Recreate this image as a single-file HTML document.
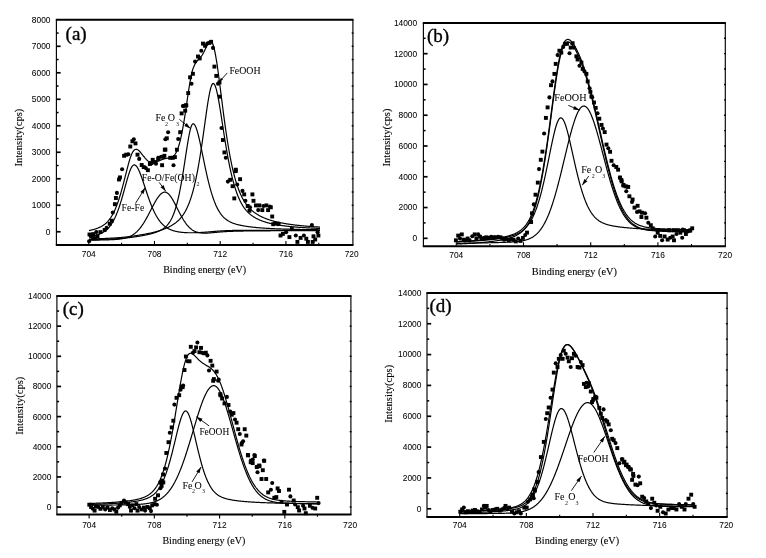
<!DOCTYPE html>
<html><head><meta charset="utf-8"><style>
html,body{margin:0;padding:0;background:#fff;}
svg{display:block;}
text{-webkit-font-smoothing:antialiased;}
.gs{filter:grayscale(1);}
.tl{font-family:"Liberation Sans",sans-serif;font-size:8.4px;fill:#000;stroke:#000;stroke-width:0.05px;}
.tt{font-family:"Liberation Serif",serif;font-size:10.2px;fill:#000;stroke:#000;stroke-width:0.12px;}
.pl{font-family:"Liberation Serif",serif;font-size:19px;fill:#000;stroke:#000;stroke-width:0.35px;}
.an{font-family:"Liberation Serif",serif;font-size:10px;fill:#000;stroke:#000;stroke-width:0.04px;}
.sb{font-family:"Liberation Serif",serif;font-size:6px;fill:#1a1a1a;}
</style></head><body>
<svg width="766" height="558" viewBox="0 0 766 558">
<rect width="766" height="558" fill="#fff"/>
<g class="gs"><g id="pa"><line x1="56.40" y1="19.80" x2="56.40" y2="244.90" stroke="#000" stroke-width="1.15"/>
<line x1="352.90" y1="19.80" x2="352.90" y2="244.90" stroke="#000" stroke-width="1.15"/>
<line x1="55.80" y1="19.80" x2="353.50" y2="19.80" stroke="#000" stroke-width="2"/>
<line x1="55.80" y1="244.90" x2="353.50" y2="244.90" stroke="#000" stroke-width="2"/>
<line x1="56.40" y1="231.75" x2="60.60" y2="231.75" stroke="#000" stroke-width="1.7"/>
<line x1="351.70" y1="231.75" x2="353.50" y2="231.75" stroke="#000" stroke-width="1.4"/>
<text x="50.50" y="234.65" class="tl" text-anchor="end">0</text>
<line x1="56.40" y1="218.51" x2="58.60" y2="218.51" stroke="#000" stroke-width="1.5"/>
<line x1="351.70" y1="218.51" x2="353.50" y2="218.51" stroke="#000" stroke-width="1.4"/>
<line x1="56.40" y1="205.26" x2="60.60" y2="205.26" stroke="#000" stroke-width="1.7"/>
<line x1="351.70" y1="205.26" x2="353.50" y2="205.26" stroke="#000" stroke-width="1.4"/>
<text x="50.50" y="208.16" class="tl" text-anchor="end">1000</text>
<line x1="56.40" y1="192.01" x2="58.60" y2="192.01" stroke="#000" stroke-width="1.5"/>
<line x1="351.70" y1="192.01" x2="353.50" y2="192.01" stroke="#000" stroke-width="1.4"/>
<line x1="56.40" y1="178.76" x2="60.60" y2="178.76" stroke="#000" stroke-width="1.7"/>
<line x1="351.70" y1="178.76" x2="353.50" y2="178.76" stroke="#000" stroke-width="1.4"/>
<text x="50.50" y="181.66" class="tl" text-anchor="end">2000</text>
<line x1="56.40" y1="165.52" x2="58.60" y2="165.52" stroke="#000" stroke-width="1.5"/>
<line x1="351.70" y1="165.52" x2="353.50" y2="165.52" stroke="#000" stroke-width="1.4"/>
<line x1="56.40" y1="152.27" x2="60.60" y2="152.27" stroke="#000" stroke-width="1.7"/>
<line x1="351.70" y1="152.27" x2="353.50" y2="152.27" stroke="#000" stroke-width="1.4"/>
<text x="50.50" y="155.17" class="tl" text-anchor="end">3000</text>
<line x1="56.40" y1="139.02" x2="58.60" y2="139.02" stroke="#000" stroke-width="1.5"/>
<line x1="351.70" y1="139.02" x2="353.50" y2="139.02" stroke="#000" stroke-width="1.4"/>
<line x1="56.40" y1="125.78" x2="60.60" y2="125.78" stroke="#000" stroke-width="1.7"/>
<line x1="351.70" y1="125.78" x2="353.50" y2="125.78" stroke="#000" stroke-width="1.4"/>
<text x="50.50" y="128.68" class="tl" text-anchor="end">4000</text>
<line x1="56.40" y1="112.53" x2="58.60" y2="112.53" stroke="#000" stroke-width="1.5"/>
<line x1="351.70" y1="112.53" x2="353.50" y2="112.53" stroke="#000" stroke-width="1.4"/>
<line x1="56.40" y1="99.28" x2="60.60" y2="99.28" stroke="#000" stroke-width="1.7"/>
<line x1="351.70" y1="99.28" x2="353.50" y2="99.28" stroke="#000" stroke-width="1.4"/>
<text x="50.50" y="102.18" class="tl" text-anchor="end">5000</text>
<line x1="56.40" y1="86.04" x2="58.60" y2="86.04" stroke="#000" stroke-width="1.5"/>
<line x1="351.70" y1="86.04" x2="353.50" y2="86.04" stroke="#000" stroke-width="1.4"/>
<line x1="56.40" y1="72.79" x2="60.60" y2="72.79" stroke="#000" stroke-width="1.7"/>
<line x1="351.70" y1="72.79" x2="353.50" y2="72.79" stroke="#000" stroke-width="1.4"/>
<text x="50.50" y="75.69" class="tl" text-anchor="end">6000</text>
<line x1="56.40" y1="59.54" x2="58.60" y2="59.54" stroke="#000" stroke-width="1.5"/>
<line x1="351.70" y1="59.54" x2="353.50" y2="59.54" stroke="#000" stroke-width="1.4"/>
<line x1="56.40" y1="46.29" x2="60.60" y2="46.29" stroke="#000" stroke-width="1.7"/>
<line x1="351.70" y1="46.29" x2="353.50" y2="46.29" stroke="#000" stroke-width="1.4"/>
<text x="50.50" y="49.19" class="tl" text-anchor="end">7000</text>
<line x1="56.40" y1="33.05" x2="58.60" y2="33.05" stroke="#000" stroke-width="1.5"/>
<line x1="351.70" y1="33.05" x2="353.50" y2="33.05" stroke="#000" stroke-width="1.4"/>
<text x="50.50" y="22.70" class="tl" text-anchor="end">8000</text>
<line x1="88.76" y1="244.90" x2="88.76" y2="240.90" stroke="#000" stroke-width="1.1"/>
<text x="88.76" y="256.80" class="tl" text-anchor="middle">704</text>
<line x1="121.62" y1="244.90" x2="121.62" y2="242.70" stroke="#000" stroke-width="1.1"/>
<line x1="154.48" y1="244.90" x2="154.48" y2="240.90" stroke="#000" stroke-width="1.1"/>
<text x="154.48" y="256.80" class="tl" text-anchor="middle">708</text>
<line x1="187.34" y1="244.90" x2="187.34" y2="242.70" stroke="#000" stroke-width="1.1"/>
<line x1="220.20" y1="244.90" x2="220.20" y2="240.90" stroke="#000" stroke-width="1.1"/>
<text x="220.20" y="256.80" class="tl" text-anchor="middle">712</text>
<line x1="253.06" y1="244.90" x2="253.06" y2="242.70" stroke="#000" stroke-width="1.1"/>
<line x1="285.92" y1="244.90" x2="285.92" y2="240.90" stroke="#000" stroke-width="1.1"/>
<text x="285.92" y="256.80" class="tl" text-anchor="middle">716</text>
<line x1="318.78" y1="244.90" x2="318.78" y2="242.70" stroke="#000" stroke-width="1.1"/>
<text x="351.64" y="256.80" class="tl" text-anchor="middle">720</text>
<text x="163.15" y="273.40" class="tt" textLength="83" lengthAdjust="spacingAndGlyphs">Binding energy (eV)</text>
<text x="-29" y="0" class="tt" textLength="58" lengthAdjust="spacingAndGlyphs" style="font-size:10.5px" transform="translate(22.40,137.60) rotate(-90)">Intensity(cps)</text>
<text x="65.60" y="40.00" class="pl">(a)</text><polyline points="89.00,236.71 89.39,236.65 89.77,236.58 90.16,236.52 90.54,236.45 90.93,236.38 91.31,236.30 91.70,236.23 92.09,236.15 92.47,236.07 92.86,235.99 93.24,235.91 93.63,235.82 94.01,235.73 94.40,235.64 94.78,235.54 95.17,235.45 95.56,235.34 95.94,235.24 96.33,235.13 96.71,235.02 97.10,234.90 97.48,234.78 97.87,234.65 98.26,234.52 98.64,234.38 99.03,234.24 99.41,234.10 99.80,233.94 100.18,233.78 100.57,233.62 100.95,233.44 101.34,233.26 101.73,233.07 102.11,232.88 102.50,232.67 102.88,232.45 103.27,232.23 103.65,231.99 104.04,231.75 104.43,231.49 104.81,231.22 105.20,230.94 105.58,230.65 105.97,230.34 106.35,230.02 106.74,229.68 107.13,229.33 107.51,228.96 107.90,228.58 108.28,228.18 108.67,227.76 109.05,227.32 109.44,226.86 109.82,226.38 110.21,225.88 110.60,225.36 110.98,224.82 111.37,224.25 111.75,223.66 112.14,223.05 112.52,222.41 112.91,221.75 113.30,221.06 113.68,220.34 114.07,219.60 114.45,218.83 114.84,218.03 115.22,217.20 115.61,216.35 115.99,215.46 116.38,214.55 116.77,213.60 117.15,212.63 117.54,211.63 117.92,210.60 118.31,209.54 118.69,208.45 119.08,207.33 119.47,206.19 119.85,205.01 120.24,203.81 120.62,202.59 121.01,201.34 121.39,200.06 121.78,198.76 122.17,197.45 122.55,196.11 122.94,194.75 123.32,193.38 123.71,192.00 124.09,190.60 124.48,189.20 124.86,187.80 125.25,186.39 125.64,184.98 126.02,183.58 126.41,182.20 126.79,180.82 127.18,179.47 127.56,178.14 127.95,176.85 128.34,175.59 128.72,174.37 129.11,173.20 129.49,172.08 129.88,171.03 130.26,170.04 130.65,169.12 131.04,168.28 131.42,167.52 131.81,166.85 132.19,166.28 132.58,165.80 132.96,165.42 133.35,165.15 133.73,164.98 134.12,164.91 134.51,164.94 134.89,165.04 135.28,165.23 135.66,165.48 136.05,165.82 136.43,166.23 136.82,166.71 137.21,167.25 137.59,167.87 137.98,168.54 138.36,169.27 138.75,170.06 139.13,170.90 139.52,171.79 139.90,172.72 140.29,173.69 140.68,174.70 141.06,175.73 141.45,176.80 141.83,177.89 142.22,179.01 142.60,180.14 142.99,181.28 143.38,182.44 143.76,183.61 144.15,184.78 144.53,185.95 144.92,187.13 145.30,188.31 145.69,189.48 146.08,190.64 146.46,191.80 146.85,192.95 147.23,194.09 147.62,195.22 148.00,196.34 148.39,197.44 148.77,198.52 149.16,199.59 149.55,200.65 149.93,201.68 150.32,202.70 150.70,203.69 151.09,204.67 151.47,205.63 151.86,206.56 152.25,207.48 152.63,208.37 153.02,209.25 153.40,210.10 153.79,210.93 154.17,211.74 154.56,212.52 154.94,213.29 155.33,214.03 155.72,214.75 156.10,215.46 156.49,216.14 156.87,216.80 157.26,217.43 157.64,218.05 158.03,218.65 158.42,219.23 158.80,219.79 159.19,220.33 159.57,220.85 159.96,221.36 160.34,221.84 160.73,222.31 161.12,222.76 161.50,223.20 161.89,223.62 162.27,224.02 162.66,224.41 163.04,224.78 163.43,225.14 163.81,225.48 164.20,225.81 164.59,226.13 164.97,226.43 165.36,226.72 165.74,227.00 166.13,227.27 166.51,227.53 166.90,227.78 167.29,228.02 167.67,228.24 168.06,228.46 168.44,228.67 168.83,228.87 169.21,229.06 169.60,229.24 169.98,229.42 170.37,229.59 170.76,229.75 171.14,229.90 171.53,230.05 171.91,230.19 172.30,230.33 172.68,230.46 173.07,230.58 173.46,230.70 173.84,230.81 174.23,230.92 174.61,231.03 175.00,231.13 175.38,231.22 175.77,231.32 176.16,231.40 176.54,231.49 176.93,231.57 177.31,231.64 177.70,231.72 178.08,231.79 178.47,231.86 178.85,231.92 179.24,231.98 179.63,232.04 180.01,232.10 180.40,232.15 180.78,232.20 181.17,232.25 181.55,232.29 181.94,232.34 182.33,232.38 182.71,232.42 183.10,232.45 183.48,232.49 183.87,232.52 184.25,232.55 184.64,232.58 185.03,232.60 185.41,232.63 185.80,232.65 186.18,232.67 186.57,232.69 186.95,232.70 187.34,232.72 187.72,232.73 188.11,232.74 188.50,232.75 188.88,232.76 189.27,232.77 189.65,232.77 190.04,232.77 190.42,232.77 190.81,232.77 191.20,232.77 191.58,232.77 191.97,232.77 192.35,232.76 192.74,232.76 193.12,232.75 193.51,232.74 193.89,232.73 194.28,232.73 194.67,232.71 195.05,232.70 195.44,232.69 195.82,232.68 196.21,232.67 196.59,232.65 196.98,232.64 197.37,232.62 197.75,232.61 198.14,232.59 198.52,232.57 198.91,232.55 199.29,232.54 199.68,232.52 200.07,232.50 200.45,232.48 200.84,232.46 201.22,232.44 201.61,232.41 201.99,232.39 202.38,232.37 202.76,232.35 203.15,232.32 203.54,232.30 203.92,232.27 204.31,232.25 204.69,232.22 205.08,232.20 205.46,232.17 205.85,232.14 206.24,232.11 206.62,232.08 207.01,232.05 207.39,232.02 207.78,231.99 208.16,231.96 208.55,231.93 208.93,231.90 209.32,231.87 209.71,231.84 210.09,231.80 210.48,231.77 210.86,231.74 211.25,231.70 211.63,231.67 212.02,231.64 212.41,231.60 212.79,231.57 213.18,231.54 213.56,231.50 213.95,231.47 214.33,231.44 214.72,231.40 215.11,231.37 215.49,231.34 215.88,231.31 216.26,231.27 216.65,231.24 217.03,231.21 217.42,231.18 217.80,231.15 218.19,231.12 218.58,231.09 218.96,231.07 219.35,231.04 219.73,231.01 220.12,230.99 220.50,230.96 220.89,230.94 221.28,230.91 221.66,230.89 222.05,230.87 222.43,230.84 222.82,230.82 223.20,230.80 223.59,230.78 223.97,230.76 224.36,230.74 224.75,230.73 225.13,230.71 225.52,230.69 225.90,230.67 226.29,230.66 226.67,230.64 227.06,230.63 227.45,230.61 227.83,230.60 228.22,230.59 228.60,230.57 228.99,230.56 229.37,230.55 229.76,230.54 230.15,230.53 230.53,230.52 230.92,230.51 231.30,230.50 231.69,230.49 232.07,230.48 232.46,230.47 232.84,230.46 233.23,230.46 233.62,230.45 234.00,230.44 234.39,230.44 234.77,230.43 235.16,230.42 235.54,230.42 235.93,230.41 236.32,230.41 236.70,230.40 237.09,230.40 237.47,230.39 237.86,230.39 238.24,230.38 238.63,230.38 239.02,230.37 239.40,230.37 239.79,230.37 240.17,230.36 240.56,230.36 240.94,230.36 241.33,230.35 241.71,230.35 242.10,230.35 242.49,230.35 242.87,230.34 243.26,230.34 243.64,230.34 244.03,230.34 244.41,230.34 244.80,230.33 245.19,230.33 245.57,230.33 245.96,230.33 246.34,230.33 246.73,230.33 247.11,230.32 247.50,230.32 247.88,230.32 248.27,230.32 248.66,230.32 249.04,230.32 249.43,230.32 249.81,230.32 250.20,230.32 250.58,230.32 250.97,230.32 251.36,230.31 251.74,230.31 252.13,230.31 252.51,230.31 252.90,230.31 253.28,230.31 253.67,230.31 254.06,230.31 254.44,230.31 254.83,230.31 255.21,230.31 255.60,230.31 255.98,230.31 256.37,230.31 256.75,230.31 257.14,230.31 257.53,230.31 257.91,230.31 258.30,230.31 258.68,230.31 259.07,230.31 259.45,230.31 259.84,230.31 260.23,230.31 260.61,230.31 261.00,230.31 261.38,230.31 261.77,230.31 262.15,230.31 262.54,230.31 262.92,230.31 263.31,230.31 263.70,230.31 264.08,230.31 264.47,230.31 264.85,230.31 265.24,230.31 265.62,230.31 266.01,230.31 266.40,230.31 266.78,230.31 267.17,230.31 267.55,230.31 267.94,230.31 268.32,230.31 268.71,230.31 269.10,230.31 269.48,230.31 269.87,230.31 270.25,230.31 270.64,230.31 271.02,230.31 271.41,230.31 271.79,230.31 272.18,230.31 272.57,230.31 272.95,230.31 273.34,230.31 273.72,230.31 274.11,230.31 274.49,230.31 274.88,230.32 275.27,230.32 275.65,230.32 276.04,230.32 276.42,230.32 276.81,230.32 277.19,230.32 277.58,230.32 277.96,230.32 278.35,230.32 278.74,230.32 279.12,230.32 279.51,230.32 279.89,230.32 280.28,230.32 280.66,230.32 281.05,230.32 281.44,230.32 281.82,230.32 282.21,230.32 282.59,230.32 282.98,230.32 283.36,230.32 283.75,230.32 284.14,230.32 284.52,230.32 284.91,230.32 285.29,230.32 285.68,230.32 286.06,230.32 286.45,230.32 286.83,230.32 287.22,230.32 287.61,230.32 287.99,230.32 288.38,230.32 288.76,230.33 289.15,230.33 289.53,230.33 289.92,230.33 290.31,230.33 290.69,230.33 291.08,230.33 291.46,230.33 291.85,230.33 292.23,230.33 292.62,230.33 293.01,230.33 293.39,230.33 293.78,230.33 294.16,230.33 294.55,230.33 294.93,230.33 295.32,230.33 295.70,230.33 296.09,230.33 296.48,230.33 296.86,230.33 297.25,230.33 297.63,230.33 298.02,230.33 298.40,230.33 298.79,230.33 299.18,230.33 299.56,230.33 299.95,230.33 300.33,230.33 300.72,230.33 301.10,230.33 301.49,230.33 301.87,230.33 302.26,230.33 302.65,230.33 303.03,230.33 303.42,230.33 303.80,230.33 304.19,230.33 304.57,230.33 304.96,230.33 305.35,230.34 305.73,230.34 306.12,230.34 306.50,230.34 306.89,230.34 307.27,230.34 307.66,230.34 308.05,230.34 308.43,230.34 308.82,230.34 309.20,230.34 309.59,230.34 309.97,230.34 310.36,230.34 310.74,230.34 311.13,230.34 311.52,230.34 311.90,230.34 312.29,230.34 312.67,230.34 313.06,230.34 313.44,230.34 313.83,230.34 314.22,230.34 314.60,230.34 314.99,230.34 315.37,230.34 315.76,230.34 316.14,230.34 316.53,230.34 316.91,230.34 317.30,230.34 317.69,230.34 318.07,230.34 318.46,230.34 318.84,230.34 319.23,230.34 319.61,230.34 320.00,230.34" fill="none" stroke="#000" stroke-width="1.2" stroke-linejoin="round"/>
<polyline points="89.00,240.20 89.39,240.19 89.77,240.19 90.16,240.18 90.54,240.18 90.93,240.17 91.31,240.17 91.70,240.16 92.09,240.16 92.47,240.15 92.86,240.14 93.24,240.14 93.63,240.13 94.01,240.13 94.40,240.12 94.78,240.12 95.17,240.11 95.56,240.10 95.94,240.10 96.33,240.09 96.71,240.08 97.10,240.08 97.48,240.07 97.87,240.06 98.26,240.06 98.64,240.05 99.03,240.04 99.41,240.04 99.80,240.03 100.18,240.02 100.57,240.01 100.95,240.00 101.34,240.00 101.73,239.99 102.11,239.98 102.50,239.97 102.88,239.96 103.27,239.95 103.65,239.94 104.04,239.94 104.43,239.93 104.81,239.92 105.20,239.91 105.58,239.90 105.97,239.88 106.35,239.87 106.74,239.86 107.13,239.85 107.51,239.84 107.90,239.83 108.28,239.81 108.67,239.80 109.05,239.79 109.44,239.77 109.82,239.76 110.21,239.74 110.60,239.73 110.98,239.71 111.37,239.70 111.75,239.68 112.14,239.66 112.52,239.64 112.91,239.62 113.30,239.60 113.68,239.58 114.07,239.56 114.45,239.53 114.84,239.51 115.22,239.48 115.61,239.46 115.99,239.43 116.38,239.40 116.77,239.37 117.15,239.34 117.54,239.30 117.92,239.27 118.31,239.23 118.69,239.19 119.08,239.15 119.47,239.10 119.85,239.06 120.24,239.01 120.62,238.96 121.01,238.90 121.39,238.84 121.78,238.78 122.17,238.72 122.55,238.65 122.94,238.58 123.32,238.51 123.71,238.43 124.09,238.35 124.48,238.26 124.86,238.17 125.25,238.08 125.64,237.98 126.02,237.87 126.41,237.76 126.79,237.64 127.18,237.52 127.56,237.39 127.95,237.25 128.34,237.11 128.72,236.96 129.11,236.80 129.49,236.64 129.88,236.47 130.26,236.28 130.65,236.10 131.04,235.90 131.42,235.69 131.81,235.47 132.19,235.25 132.58,235.01 132.96,234.77 133.35,234.51 133.73,234.24 134.12,233.96 134.51,233.67 134.89,233.37 135.28,233.06 135.66,232.74 136.05,232.40 136.43,232.05 136.82,231.69 137.21,231.31 137.59,230.92 137.98,230.52 138.36,230.11 138.75,229.68 139.13,229.24 139.52,228.78 139.90,228.31 140.29,227.83 140.68,227.33 141.06,226.82 141.45,226.29 141.83,225.76 142.22,225.20 142.60,224.64 142.99,224.06 143.38,223.47 143.76,222.86 144.15,222.25 144.53,221.62 144.92,220.97 145.30,220.32 145.69,219.66 146.08,218.98 146.46,218.30 146.85,217.61 147.23,216.91 147.62,216.19 148.00,215.48 148.39,214.75 148.77,214.02 149.16,213.29 149.55,212.55 149.93,211.80 150.32,211.06 150.70,210.31 151.09,209.56 151.47,208.81 151.86,208.07 152.25,207.32 152.63,206.58 153.02,205.85 153.40,205.12 153.79,204.40 154.17,203.69 154.56,202.98 154.94,202.29 155.33,201.61 155.72,200.95 156.10,200.29 156.49,199.66 156.87,199.04 157.26,198.44 157.64,197.86 158.03,197.31 158.42,196.77 158.80,196.26 159.19,195.77 159.57,195.31 159.96,194.88 160.34,194.48 160.73,194.10 161.12,193.75 161.50,193.44 161.89,193.16 162.27,192.91 162.66,192.69 163.04,192.51 163.43,192.36 163.81,192.25 164.20,192.17 164.59,192.13 164.97,192.12 165.36,192.16 165.74,192.24 166.13,192.35 166.51,192.51 166.90,192.71 167.29,192.94 167.67,193.22 168.06,193.53 168.44,193.87 168.83,194.25 169.21,194.67 169.60,195.11 169.98,195.59 170.37,196.10 170.76,196.63 171.14,197.19 171.53,197.78 171.91,198.38 172.30,199.01 172.68,199.66 173.07,200.33 173.46,201.02 173.84,201.71 174.23,202.43 174.61,203.15 175.00,203.88 175.38,204.63 175.77,205.38 176.16,206.13 176.54,206.89 176.93,207.65 177.31,208.42 177.70,209.18 178.08,209.94 178.47,210.70 178.85,211.45 179.24,212.20 179.63,212.95 180.01,213.68 180.40,214.41 180.78,215.13 181.17,215.84 181.55,216.54 181.94,217.22 182.33,217.90 182.71,218.56 183.10,219.20 183.48,219.84 183.87,220.45 184.25,221.06 184.64,221.64 185.03,222.21 185.41,222.77 185.80,223.31 186.18,223.83 186.57,224.33 186.95,224.82 187.34,225.29 187.72,225.75 188.11,226.18 188.50,226.60 188.88,227.01 189.27,227.39 189.65,227.77 190.04,228.12 190.42,228.46 190.81,228.78 191.20,229.09 191.58,229.38 191.97,229.66 192.35,229.93 192.74,230.18 193.12,230.41 193.51,230.64 193.89,230.85 194.28,231.05 194.67,231.23 195.05,231.41 195.44,231.57 195.82,231.72 196.21,231.87 196.59,232.00 196.98,232.12 197.37,232.24 197.75,232.34 198.14,232.44 198.52,232.53 198.91,232.61 199.29,232.69 199.68,232.75 200.07,232.82 200.45,232.87 200.84,232.92 201.22,232.96 201.61,233.00 201.99,233.03 202.38,233.06 202.76,233.08 203.15,233.10 203.54,233.11 203.92,233.12 204.31,233.13 204.69,233.13 205.08,233.13 205.46,233.13 205.85,233.12 206.24,233.11 206.62,233.10 207.01,233.08 207.39,233.07 207.78,233.05 208.16,233.03 208.55,233.00 208.93,232.98 209.32,232.95 209.71,232.92 210.09,232.90 210.48,232.86 210.86,232.83 211.25,232.80 211.63,232.77 212.02,232.73 212.41,232.70 212.79,232.66 213.18,232.63 213.56,232.59 213.95,232.55 214.33,232.52 214.72,232.48 215.11,232.44 215.49,232.41 215.88,232.37 216.26,232.33 216.65,232.30 217.03,232.26 217.42,232.22 217.80,232.19 218.19,232.15 218.58,232.12 218.96,232.09 219.35,232.05 219.73,232.02 220.12,231.99 220.50,231.96 220.89,231.93 221.28,231.90 221.66,231.87 222.05,231.84 222.43,231.81 222.82,231.78 223.20,231.76 223.59,231.73 223.97,231.70 224.36,231.68 224.75,231.65 225.13,231.63 225.52,231.61 225.90,231.59 226.29,231.56 226.67,231.54 227.06,231.52 227.45,231.50 227.83,231.48 228.22,231.46 228.60,231.44 228.99,231.43 229.37,231.41 229.76,231.39 230.15,231.38 230.53,231.36 230.92,231.35 231.30,231.33 231.69,231.32 232.07,231.30 232.46,231.29 232.84,231.28 233.23,231.26 233.62,231.25 234.00,231.24 234.39,231.23 234.77,231.21 235.16,231.20 235.54,231.19 235.93,231.18 236.32,231.17 236.70,231.16 237.09,231.15 237.47,231.14 237.86,231.13 238.24,231.12 238.63,231.12 239.02,231.11 239.40,231.10 239.79,231.09 240.17,231.08 240.56,231.08 240.94,231.07 241.33,231.06 241.71,231.05 242.10,231.05 242.49,231.04 242.87,231.03 243.26,231.03 243.64,231.02 244.03,231.01 244.41,231.01 244.80,231.00 245.19,231.00 245.57,230.99 245.96,230.99 246.34,230.98 246.73,230.98 247.11,230.97 247.50,230.97 247.88,230.96 248.27,230.96 248.66,230.95 249.04,230.95 249.43,230.94 249.81,230.94 250.20,230.93 250.58,230.93 250.97,230.92 251.36,230.92 251.74,230.92 252.13,230.91 252.51,230.91 252.90,230.90 253.28,230.90 253.67,230.90 254.06,230.89 254.44,230.89 254.83,230.89 255.21,230.88 255.60,230.88 255.98,230.88 256.37,230.87 256.75,230.87 257.14,230.87 257.53,230.86 257.91,230.86 258.30,230.86 258.68,230.85 259.07,230.85 259.45,230.85 259.84,230.84 260.23,230.84 260.61,230.84 261.00,230.84 261.38,230.83 261.77,230.83 262.15,230.83 262.54,230.82 262.92,230.82 263.31,230.82 263.70,230.82 264.08,230.81 264.47,230.81 264.85,230.81 265.24,230.81 265.62,230.80 266.01,230.80 266.40,230.80 266.78,230.80 267.17,230.79 267.55,230.79 267.94,230.79 268.32,230.79 268.71,230.79 269.10,230.78 269.48,230.78 269.87,230.78 270.25,230.78 270.64,230.77 271.02,230.77 271.41,230.77 271.79,230.77 272.18,230.77 272.57,230.76 272.95,230.76 273.34,230.76 273.72,230.76 274.11,230.76 274.49,230.75 274.88,230.75 275.27,230.75 275.65,230.75 276.04,230.75 276.42,230.74 276.81,230.74 277.19,230.74 277.58,230.74 277.96,230.74 278.35,230.74 278.74,230.73 279.12,230.73 279.51,230.73 279.89,230.73 280.28,230.73 280.66,230.73 281.05,230.72 281.44,230.72 281.82,230.72 282.21,230.72 282.59,230.72 282.98,230.72 283.36,230.71 283.75,230.71 284.14,230.71 284.52,230.71 284.91,230.71 285.29,230.71 285.68,230.70 286.06,230.70 286.45,230.70 286.83,230.70 287.22,230.70 287.61,230.70 287.99,230.70 288.38,230.69 288.76,230.69 289.15,230.69 289.53,230.69 289.92,230.69 290.31,230.69 290.69,230.69 291.08,230.68 291.46,230.68 291.85,230.68 292.23,230.68 292.62,230.68 293.01,230.68 293.39,230.68 293.78,230.67 294.16,230.67 294.55,230.67 294.93,230.67 295.32,230.67 295.70,230.67 296.09,230.67 296.48,230.67 296.86,230.66 297.25,230.66 297.63,230.66 298.02,230.66 298.40,230.66 298.79,230.66 299.18,230.66 299.56,230.66 299.95,230.65 300.33,230.65 300.72,230.65 301.10,230.65 301.49,230.65 301.87,230.65 302.26,230.65 302.65,230.65 303.03,230.65 303.42,230.64 303.80,230.64 304.19,230.64 304.57,230.64 304.96,230.64 305.35,230.64 305.73,230.64 306.12,230.64 306.50,230.64 306.89,230.63 307.27,230.63 307.66,230.63 308.05,230.63 308.43,230.63 308.82,230.63 309.20,230.63 309.59,230.63 309.97,230.63 310.36,230.63 310.74,230.62 311.13,230.62 311.52,230.62 311.90,230.62 312.29,230.62 312.67,230.62 313.06,230.62 313.44,230.62 313.83,230.62 314.22,230.61 314.60,230.61 314.99,230.61 315.37,230.61 315.76,230.61 316.14,230.61 316.53,230.61 316.91,230.61 317.30,230.61 317.69,230.61 318.07,230.61 318.46,230.60 318.84,230.60 319.23,230.60 319.61,230.60 320.00,230.60" fill="none" stroke="#000" stroke-width="1.2" stroke-linejoin="round"/>
<polyline points="89.00,239.68 89.39,239.67 89.77,239.66 90.16,239.65 90.54,239.64 90.93,239.64 91.31,239.63 91.70,239.62 92.09,239.61 92.47,239.60 92.86,239.59 93.24,239.58 93.63,239.57 94.01,239.56 94.40,239.56 94.78,239.55 95.17,239.54 95.56,239.53 95.94,239.52 96.33,239.51 96.71,239.50 97.10,239.49 97.48,239.48 97.87,239.47 98.26,239.46 98.64,239.44 99.03,239.43 99.41,239.42 99.80,239.41 100.18,239.40 100.57,239.39 100.95,239.38 101.34,239.37 101.73,239.35 102.11,239.34 102.50,239.33 102.88,239.32 103.27,239.30 103.65,239.29 104.04,239.28 104.43,239.27 104.81,239.25 105.20,239.24 105.58,239.23 105.97,239.21 106.35,239.20 106.74,239.18 107.13,239.17 107.51,239.15 107.90,239.14 108.28,239.12 108.67,239.11 109.05,239.09 109.44,239.07 109.82,239.06 110.21,239.04 110.60,239.02 110.98,239.01 111.37,238.99 111.75,238.97 112.14,238.95 112.52,238.93 112.91,238.91 113.30,238.89 113.68,238.87 114.07,238.85 114.45,238.83 114.84,238.81 115.22,238.79 115.61,238.77 115.99,238.75 116.38,238.72 116.77,238.70 117.15,238.68 117.54,238.65 117.92,238.63 118.31,238.60 118.69,238.58 119.08,238.55 119.47,238.52 119.85,238.49 120.24,238.47 120.62,238.44 121.01,238.41 121.39,238.38 121.78,238.35 122.17,238.32 122.55,238.28 122.94,238.25 123.32,238.22 123.71,238.18 124.09,238.15 124.48,238.11 124.86,238.08 125.25,238.04 125.64,238.00 126.02,237.96 126.41,237.92 126.79,237.88 127.18,237.84 127.56,237.80 127.95,237.76 128.34,237.72 128.72,237.67 129.11,237.63 129.49,237.58 129.88,237.53 130.26,237.49 130.65,237.44 131.04,237.39 131.42,237.34 131.81,237.29 132.19,237.24 132.58,237.19 132.96,237.14 133.35,237.08 133.73,237.03 134.12,236.98 134.51,236.92 134.89,236.87 135.28,236.81 135.66,236.75 136.05,236.69 136.43,236.64 136.82,236.58 137.21,236.52 137.59,236.46 137.98,236.40 138.36,236.33 138.75,236.27 139.13,236.21 139.52,236.14 139.90,236.08 140.29,236.01 140.68,235.95 141.06,235.88 141.45,235.81 141.83,235.75 142.22,235.68 142.60,235.61 142.99,235.53 143.38,235.46 143.76,235.39 144.15,235.31 144.53,235.24 144.92,235.16 145.30,235.09 145.69,235.01 146.08,234.93 146.46,234.85 146.85,234.76 147.23,234.68 147.62,234.59 148.00,234.51 148.39,234.42 148.77,234.33 149.16,234.24 149.55,234.15 149.93,234.05 150.32,233.95 150.70,233.85 151.09,233.75 151.47,233.65 151.86,233.55 152.25,233.44 152.63,233.33 153.02,233.22 153.40,233.10 153.79,232.98 154.17,232.86 154.56,232.74 154.94,232.61 155.33,232.48 155.72,232.35 156.10,232.21 156.49,232.07 156.87,231.93 157.26,231.78 157.64,231.62 158.03,231.46 158.42,231.30 158.80,231.13 159.19,230.96 159.57,230.78 159.96,230.59 160.34,230.40 160.73,230.20 161.12,229.99 161.50,229.78 161.89,229.55 162.27,229.32 162.66,229.08 163.04,228.83 163.43,228.56 163.81,228.29 164.20,228.00 164.59,227.70 164.97,227.38 165.36,227.05 165.74,226.71 166.13,226.35 166.51,225.96 166.90,225.56 167.29,225.14 167.67,224.70 168.06,224.24 168.44,223.75 168.83,223.23 169.21,222.69 169.60,222.12 169.98,221.52 170.37,220.89 170.76,220.22 171.14,219.52 171.53,218.78 171.91,218.01 172.30,217.19 172.68,216.33 173.07,215.43 173.46,214.48 173.84,213.49 174.23,212.44 174.61,211.35 175.00,210.20 175.38,209.00 175.77,207.75 176.16,206.44 176.54,205.07 176.93,203.64 177.31,202.15 177.70,200.60 178.08,198.99 178.47,197.32 178.85,195.58 179.24,193.78 179.63,191.92 180.01,190.00 180.40,188.01 180.78,185.97 181.17,183.86 181.55,181.70 181.94,179.49 182.33,177.22 182.71,174.90 183.10,172.54 183.48,170.13 183.87,167.69 184.25,165.21 184.64,162.72 185.03,160.20 185.41,157.67 185.80,155.15 186.18,152.63 186.57,150.13 186.95,147.66 187.34,145.23 187.72,142.86 188.11,140.56 188.50,138.35 188.88,136.24 189.27,134.24 189.65,132.37 190.04,130.66 190.42,129.10 190.81,127.73 191.20,126.54 191.58,125.56 191.97,124.79 192.35,124.23 192.74,123.91 193.12,123.81 193.51,123.87 193.89,124.07 194.28,124.41 194.67,124.88 195.05,125.49 195.44,126.22 195.82,127.07 196.21,128.03 196.59,129.11 196.98,130.29 197.37,131.57 197.75,132.93 198.14,134.38 198.52,135.90 198.91,137.49 199.29,139.14 199.68,140.84 200.07,142.59 200.45,144.37 200.84,146.19 201.22,148.03 201.61,149.90 201.99,151.78 202.38,153.67 202.76,155.56 203.15,157.45 203.54,159.34 203.92,161.22 204.31,163.09 204.69,164.94 205.08,166.78 205.46,168.59 205.85,170.38 206.24,172.15 206.62,173.88 207.01,175.59 207.39,177.27 207.78,178.92 208.16,180.53 208.55,182.11 208.93,183.65 209.32,185.16 209.71,186.63 210.09,188.06 210.48,189.46 210.86,190.82 211.25,192.14 211.63,193.42 212.02,194.67 212.41,195.88 212.79,197.05 213.18,198.19 213.56,199.29 213.95,200.35 214.33,201.38 214.72,202.37 215.11,203.33 215.49,204.25 215.88,205.14 216.26,206.00 216.65,206.83 217.03,207.63 217.42,208.39 217.80,209.13 218.19,209.84 218.58,210.52 218.96,211.18 219.35,211.80 219.73,212.41 220.12,212.98 220.50,213.54 220.89,214.07 221.28,214.58 221.66,215.07 222.05,215.54 222.43,215.99 222.82,216.42 223.20,216.83 223.59,217.23 223.97,217.61 224.36,217.97 224.75,218.32 225.13,218.65 225.52,218.97 225.90,219.27 226.29,219.57 226.67,219.85 227.06,220.12 227.45,220.37 227.83,220.62 228.22,220.86 228.60,221.09 228.99,221.31 229.37,221.52 229.76,221.72 230.15,221.92 230.53,222.10 230.92,222.28 231.30,222.46 231.69,222.63 232.07,222.79 232.46,222.94 232.84,223.10 233.23,223.24 233.62,223.38 234.00,223.52 234.39,223.65 234.77,223.78 235.16,223.90 235.54,224.02 235.93,224.14 236.32,224.25 236.70,224.36 237.09,224.46 237.47,224.57 237.86,224.67 238.24,224.76 238.63,224.86 239.02,224.95 239.40,225.04 239.79,225.13 240.17,225.21 240.56,225.30 240.94,225.38 241.33,225.46 241.71,225.53 242.10,225.61 242.49,225.68 242.87,225.76 243.26,225.83 243.64,225.90 244.03,225.96 244.41,226.03 244.80,226.09 245.19,226.16 245.57,226.22 245.96,226.28 246.34,226.34 246.73,226.40 247.11,226.45 247.50,226.51 247.88,226.56 248.27,226.62 248.66,226.67 249.04,226.72 249.43,226.77 249.81,226.82 250.20,226.87 250.58,226.92 250.97,226.96 251.36,227.01 251.74,227.05 252.13,227.10 252.51,227.14 252.90,227.18 253.28,227.23 253.67,227.27 254.06,227.31 254.44,227.35 254.83,227.39 255.21,227.42 255.60,227.46 255.98,227.50 256.37,227.53 256.75,227.57 257.14,227.60 257.53,227.64 257.91,227.67 258.30,227.71 258.68,227.74 259.07,227.77 259.45,227.80 259.84,227.83 260.23,227.86 260.61,227.89 261.00,227.92 261.38,227.95 261.77,227.98 262.15,228.01 262.54,228.04 262.92,228.06 263.31,228.09 263.70,228.12 264.08,228.14 264.47,228.17 264.85,228.19 265.24,228.22 265.62,228.24 266.01,228.27 266.40,228.29 266.78,228.31 267.17,228.34 267.55,228.36 267.94,228.38 268.32,228.40 268.71,228.42 269.10,228.45 269.48,228.47 269.87,228.49 270.25,228.51 270.64,228.53 271.02,228.55 271.41,228.57 271.79,228.58 272.18,228.60 272.57,228.62 272.95,228.64 273.34,228.66 273.72,228.68 274.11,228.69 274.49,228.71 274.88,228.73 275.27,228.74 275.65,228.76 276.04,228.78 276.42,228.79 276.81,228.81 277.19,228.82 277.58,228.84 277.96,228.86 278.35,228.87 278.74,228.88 279.12,228.90 279.51,228.91 279.89,228.93 280.28,228.94 280.66,228.96 281.05,228.97 281.44,228.98 281.82,229.00 282.21,229.01 282.59,229.02 282.98,229.03 283.36,229.05 283.75,229.06 284.14,229.07 284.52,229.08 284.91,229.10 285.29,229.11 285.68,229.12 286.06,229.13 286.45,229.14 286.83,229.15 287.22,229.16 287.61,229.18 287.99,229.19 288.38,229.20 288.76,229.21 289.15,229.22 289.53,229.23 289.92,229.24 290.31,229.25 290.69,229.26 291.08,229.27 291.46,229.28 291.85,229.29 292.23,229.30 292.62,229.31 293.01,229.31 293.39,229.32 293.78,229.33 294.16,229.34 294.55,229.35 294.93,229.36 295.32,229.37 295.70,229.38 296.09,229.38 296.48,229.39 296.86,229.40 297.25,229.41 297.63,229.42 298.02,229.42 298.40,229.43 298.79,229.44 299.18,229.45 299.56,229.46 299.95,229.46 300.33,229.47 300.72,229.48 301.10,229.48 301.49,229.49 301.87,229.50 302.26,229.51 302.65,229.51 303.03,229.52 303.42,229.53 303.80,229.53 304.19,229.54 304.57,229.55 304.96,229.55 305.35,229.56 305.73,229.56 306.12,229.57 306.50,229.58 306.89,229.58 307.27,229.59 307.66,229.59 308.05,229.60 308.43,229.61 308.82,229.61 309.20,229.62 309.59,229.62 309.97,229.63 310.36,229.63 310.74,229.64 311.13,229.65 311.52,229.65 311.90,229.66 312.29,229.66 312.67,229.67 313.06,229.67 313.44,229.68 313.83,229.68 314.22,229.69 314.60,229.69 314.99,229.70 315.37,229.70 315.76,229.71 316.14,229.71 316.53,229.71 316.91,229.72 317.30,229.72 317.69,229.73 318.07,229.73 318.46,229.74 318.84,229.74 319.23,229.75 319.61,229.75 320.00,229.75" fill="none" stroke="#000" stroke-width="1.2" stroke-linejoin="round"/>
<polyline points="89.00,239.04 89.39,239.03 89.77,239.02 90.16,239.01 90.54,238.99 90.93,238.98 91.31,238.97 91.70,238.96 92.09,238.95 92.47,238.94 92.86,238.92 93.24,238.91 93.63,238.90 94.01,238.89 94.40,238.87 94.78,238.86 95.17,238.85 95.56,238.84 95.94,238.82 96.33,238.81 96.71,238.80 97.10,238.78 97.48,238.77 97.87,238.76 98.26,238.74 98.64,238.73 99.03,238.71 99.41,238.70 99.80,238.68 100.18,238.67 100.57,238.66 100.95,238.64 101.34,238.63 101.73,238.61 102.11,238.59 102.50,238.58 102.88,238.56 103.27,238.55 103.65,238.53 104.04,238.51 104.43,238.50 104.81,238.48 105.20,238.46 105.58,238.45 105.97,238.43 106.35,238.41 106.74,238.39 107.13,238.37 107.51,238.35 107.90,238.34 108.28,238.32 108.67,238.30 109.05,238.28 109.44,238.26 109.82,238.24 110.21,238.22 110.60,238.20 110.98,238.17 111.37,238.15 111.75,238.13 112.14,238.11 112.52,238.09 112.91,238.06 113.30,238.04 113.68,238.02 114.07,237.99 114.45,237.97 114.84,237.94 115.22,237.92 115.61,237.89 115.99,237.86 116.38,237.84 116.77,237.81 117.15,237.78 117.54,237.75 117.92,237.73 118.31,237.70 118.69,237.67 119.08,237.64 119.47,237.61 119.85,237.57 120.24,237.54 120.62,237.51 121.01,237.48 121.39,237.44 121.78,237.41 122.17,237.37 122.55,237.34 122.94,237.30 123.32,237.26 123.71,237.23 124.09,237.19 124.48,237.15 124.86,237.11 125.25,237.07 125.64,237.03 126.02,236.98 126.41,236.94 126.79,236.90 127.18,236.85 127.56,236.81 127.95,236.76 128.34,236.72 128.72,236.67 129.11,236.62 129.49,236.57 129.88,236.52 130.26,236.47 130.65,236.42 131.04,236.37 131.42,236.32 131.81,236.27 132.19,236.21 132.58,236.16 132.96,236.10 133.35,236.05 133.73,235.99 134.12,235.94 134.51,235.88 134.89,235.82 135.28,235.76 135.66,235.71 136.05,235.65 136.43,235.59 136.82,235.53 137.21,235.47 137.59,235.40 137.98,235.34 138.36,235.28 138.75,235.22 139.13,235.16 139.52,235.09 139.90,235.03 140.29,234.96 140.68,234.90 141.06,234.83 141.45,234.77 141.83,234.70 142.22,234.63 142.60,234.56 142.99,234.50 143.38,234.43 143.76,234.36 144.15,234.29 144.53,234.22 144.92,234.14 145.30,234.07 145.69,234.00 146.08,233.92 146.46,233.85 146.85,233.77 147.23,233.70 147.62,233.62 148.00,233.54 148.39,233.46 148.77,233.39 149.16,233.30 149.55,233.22 149.93,233.14 150.32,233.06 150.70,232.97 151.09,232.89 151.47,232.80 151.86,232.71 152.25,232.62 152.63,232.53 153.02,232.44 153.40,232.34 153.79,232.25 154.17,232.15 154.56,232.06 154.94,231.96 155.33,231.86 155.72,231.76 156.10,231.65 156.49,231.55 156.87,231.44 157.26,231.33 157.64,231.22 158.03,231.11 158.42,231.00 158.80,230.88 159.19,230.76 159.57,230.64 159.96,230.52 160.34,230.40 160.73,230.27 161.12,230.14 161.50,230.01 161.89,229.88 162.27,229.74 162.66,229.60 163.04,229.46 163.43,229.32 163.81,229.18 164.20,229.03 164.59,228.88 164.97,228.72 165.36,228.56 165.74,228.40 166.13,228.24 166.51,228.07 166.90,227.90 167.29,227.73 167.67,227.55 168.06,227.37 168.44,227.19 168.83,227.00 169.21,226.80 169.60,226.60 169.98,226.40 170.37,226.20 170.76,225.98 171.14,225.77 171.53,225.54 171.91,225.32 172.30,225.08 172.68,224.84 173.07,224.60 173.46,224.35 173.84,224.09 174.23,223.82 174.61,223.55 175.00,223.27 175.38,222.98 175.77,222.69 176.16,222.38 176.54,222.07 176.93,221.74 177.31,221.41 177.70,221.07 178.08,220.71 178.47,220.34 178.85,219.97 179.24,219.58 179.63,219.17 180.01,218.76 180.40,218.32 180.78,217.88 181.17,217.42 181.55,216.94 181.94,216.45 182.33,215.93 182.71,215.40 183.10,214.85 183.48,214.28 183.87,213.69 184.25,213.08 184.64,212.44 185.03,211.78 185.41,211.10 185.80,210.39 186.18,209.66 186.57,208.89 186.95,208.10 187.34,207.28 187.72,206.42 188.11,205.54 188.50,204.62 188.88,203.67 189.27,202.68 189.65,201.66 190.04,200.59 190.42,199.49 190.81,198.35 191.20,197.17 191.58,195.94 191.97,194.67 192.35,193.36 192.74,192.00 193.12,190.60 193.51,189.14 193.89,187.64 194.28,186.09 194.67,184.48 195.05,182.83 195.44,181.12 195.82,179.36 196.21,177.54 196.59,175.67 196.98,173.74 197.37,171.76 197.75,169.72 198.14,167.63 198.52,165.48 198.91,163.27 199.29,161.01 199.68,158.69 200.07,156.32 200.45,153.90 200.84,151.43 201.22,148.91 201.61,146.34 201.99,143.73 202.38,141.08 202.76,138.40 203.15,135.68 203.54,132.94 203.92,130.18 204.31,127.40 204.69,124.61 205.08,121.83 205.46,119.06 205.85,116.30 206.24,113.58 206.62,110.89 207.01,108.26 207.39,105.68 207.78,103.19 208.16,100.79 208.55,98.48 208.93,96.30 209.32,94.24 209.71,92.33 210.09,90.58 210.48,88.99 210.86,87.59 211.25,86.38 211.63,85.37 212.02,84.57 212.41,83.98 212.79,83.61 213.18,83.47 213.56,83.53 213.95,83.79 214.33,84.24 214.72,84.87 215.11,85.69 215.49,86.69 215.88,87.85 216.26,89.18 216.65,90.66 217.03,92.28 217.42,94.03 217.80,95.91 218.19,97.89 218.58,99.97 218.96,102.15 219.35,104.40 219.73,106.71 220.12,109.08 220.50,111.50 220.89,113.96 221.28,116.44 221.66,118.94 222.05,121.46 222.43,123.98 222.82,126.49 223.20,129.00 223.59,131.50 223.97,133.97 224.36,136.43 224.75,138.85 225.13,141.25 225.52,143.61 225.90,145.93 226.29,148.22 226.67,150.46 227.06,152.66 227.45,154.82 227.83,156.93 228.22,159.00 228.60,161.02 228.99,162.99 229.37,164.91 229.76,166.78 230.15,168.61 230.53,170.39 230.92,172.12 231.30,173.80 231.69,175.44 232.07,177.03 232.46,178.57 232.84,180.07 233.23,181.52 233.62,182.93 234.00,184.29 234.39,185.61 234.77,186.89 235.16,188.13 235.54,189.33 235.93,190.50 236.32,191.62 236.70,192.71 237.09,193.76 237.47,194.77 237.86,195.75 238.24,196.70 238.63,197.61 239.02,198.50 239.40,199.35 239.79,200.18 240.17,200.97 240.56,201.74 240.94,202.48 241.33,203.20 241.71,203.89 242.10,204.56 242.49,205.20 242.87,205.82 243.26,206.42 243.64,207.00 244.03,207.56 244.41,208.10 244.80,208.62 245.19,209.12 245.57,209.61 245.96,210.08 246.34,210.53 246.73,210.97 247.11,211.40 247.50,211.81 247.88,212.20 248.27,212.59 248.66,212.96 249.04,213.32 249.43,213.67 249.81,214.01 250.20,214.33 250.58,214.65 250.97,214.96 251.36,215.25 251.74,215.54 252.13,215.82 252.51,216.10 252.90,216.36 253.28,216.62 253.67,216.87 254.06,217.11 254.44,217.35 254.83,217.58 255.21,217.80 255.60,218.02 255.98,218.23 256.37,218.43 256.75,218.63 257.14,218.83 257.53,219.02 257.91,219.21 258.30,219.39 258.68,219.57 259.07,219.74 259.45,219.91 259.84,220.07 260.23,220.23 260.61,220.39 261.00,220.54 261.38,220.69 261.77,220.84 262.15,220.98 262.54,221.12 262.92,221.26 263.31,221.40 263.70,221.53 264.08,221.66 264.47,221.78 264.85,221.90 265.24,222.03 265.62,222.14 266.01,222.26 266.40,222.37 266.78,222.48 267.17,222.59 267.55,222.70 267.94,222.80 268.32,222.91 268.71,223.01 269.10,223.11 269.48,223.20 269.87,223.30 270.25,223.39 270.64,223.48 271.02,223.57 271.41,223.66 271.79,223.75 272.18,223.83 272.57,223.91 272.95,224.00 273.34,224.08 273.72,224.16 274.11,224.23 274.49,224.31 274.88,224.38 275.27,224.46 275.65,224.53 276.04,224.60 276.42,224.67 276.81,224.74 277.19,224.81 277.58,224.87 277.96,224.94 278.35,225.00 278.74,225.06 279.12,225.12 279.51,225.19 279.89,225.25 280.28,225.30 280.66,225.36 281.05,225.42 281.44,225.47 281.82,225.53 282.21,225.58 282.59,225.64 282.98,225.69 283.36,225.74 283.75,225.79 284.14,225.84 284.52,225.89 284.91,225.94 285.29,225.99 285.68,226.03 286.06,226.08 286.45,226.13 286.83,226.17 287.22,226.22 287.61,226.26 287.99,226.30 288.38,226.34 288.76,226.39 289.15,226.43 289.53,226.47 289.92,226.51 290.31,226.55 290.69,226.58 291.08,226.62 291.46,226.66 291.85,226.70 292.23,226.73 292.62,226.77 293.01,226.80 293.39,226.84 293.78,226.87 294.16,226.91 294.55,226.94 294.93,226.97 295.32,227.01 295.70,227.04 296.09,227.07 296.48,227.10 296.86,227.13 297.25,227.16 297.63,227.19 298.02,227.22 298.40,227.25 298.79,227.28 299.18,227.31 299.56,227.34 299.95,227.36 300.33,227.39 300.72,227.42 301.10,227.45 301.49,227.47 301.87,227.50 302.26,227.52 302.65,227.55 303.03,227.57 303.42,227.60 303.80,227.62 304.19,227.65 304.57,227.67 304.96,227.69 305.35,227.72 305.73,227.74 306.12,227.76 306.50,227.78 306.89,227.81 307.27,227.83 307.66,227.85 308.05,227.87 308.43,227.89 308.82,227.91 309.20,227.93 309.59,227.95 309.97,227.97 310.36,227.99 310.74,228.01 311.13,228.03 311.52,228.05 311.90,228.07 312.29,228.09 312.67,228.11 313.06,228.12 313.44,228.14 313.83,228.16 314.22,228.18 314.60,228.19 314.99,228.21 315.37,228.23 315.76,228.24 316.14,228.26 316.53,228.28 316.91,228.29 317.30,228.31 317.69,228.33 318.07,228.34 318.46,228.36 318.84,228.37 319.23,228.39 319.61,228.40 320.00,228.42" fill="none" stroke="#000" stroke-width="1.2" stroke-linejoin="round"/>
<polyline points="89.00,230.57 89.39,230.49 89.77,230.40 90.16,230.32 90.54,230.23 90.93,230.14 91.31,230.05 91.70,229.96 92.09,229.86 92.47,229.77 92.86,229.67 93.24,229.56 93.63,229.46 94.01,229.35 94.40,229.24 94.78,229.12 95.17,229.00 95.56,228.88 95.94,228.75 96.33,228.62 96.71,228.49 97.10,228.35 97.48,228.21 97.87,228.06 98.26,227.90 98.64,227.75 99.03,227.58 99.41,227.41 99.80,227.23 100.18,227.05 100.57,226.86 100.95,226.66 101.34,226.46 101.73,226.24 102.11,226.02 102.50,225.79 102.88,225.55 103.27,225.30 103.65,225.03 104.04,224.76 104.43,224.48 104.81,224.18 105.20,223.87 105.58,223.55 105.97,223.21 106.35,222.86 106.74,222.49 107.13,222.11 107.51,221.71 107.90,221.30 108.28,220.86 108.67,220.41 109.05,219.94 109.44,219.45 109.82,218.93 110.21,218.40 110.60,217.84 110.98,217.26 111.37,216.66 111.75,216.03 112.14,215.38 112.52,214.70 112.91,214.00 113.30,213.26 113.68,212.51 114.07,211.72 114.45,210.90 114.84,210.06 115.22,209.18 115.61,208.28 115.99,207.35 116.38,206.38 116.77,205.38 117.15,204.36 117.54,203.30 117.92,202.21 118.31,201.09 118.69,199.94 119.08,198.76 119.47,197.54 119.85,196.30 120.24,195.03 120.62,193.73 121.01,192.40 121.39,191.05 121.78,189.67 122.17,188.26 122.55,186.84 122.94,185.39 123.32,183.92 123.71,182.44 124.09,180.94 124.48,179.42 124.86,177.90 125.25,176.38 125.64,174.85 126.02,173.32 126.41,171.80 126.79,170.28 127.18,168.78 127.56,167.30 127.95,165.84 128.34,164.42 128.72,163.02 129.11,161.67 129.49,160.36 129.88,159.11 130.26,157.91 130.65,156.78 131.04,155.71 131.42,154.72 131.81,153.80 132.19,152.97 132.58,152.23 132.96,151.57 133.35,151.01 133.73,150.54 134.12,150.17 134.51,149.87 134.89,149.64 135.28,149.47 135.66,149.37 136.05,149.33 136.43,149.35 136.82,149.42 137.21,149.55 137.59,149.73 137.98,149.96 138.36,150.23 138.75,150.54 139.13,150.89 139.52,151.27 139.90,151.68 140.29,152.11 140.68,152.57 141.06,153.04 141.45,153.52 141.83,154.01 142.22,154.51 142.60,155.01 142.99,155.51 143.38,156.01 143.76,156.50 144.15,156.98 144.53,157.45 144.92,157.91 145.30,158.35 145.69,158.78 146.08,159.19 146.46,159.58 146.85,159.94 147.23,160.29 147.62,160.61 148.00,160.91 148.39,161.19 148.77,161.44 149.16,161.67 149.55,161.88 149.93,162.06 150.32,162.21 150.70,162.34 151.09,162.45 151.47,162.54 151.86,162.60 152.25,162.64 152.63,162.66 153.02,162.66 153.40,162.64 153.79,162.60 154.17,162.55 154.56,162.48 154.94,162.39 155.33,162.29 155.72,162.18 156.10,162.05 156.49,161.92 156.87,161.78 157.26,161.63 157.64,161.47 158.03,161.31 158.42,161.14 158.80,160.97 159.19,160.80 159.57,160.63 159.96,160.46 160.34,160.29 160.73,160.13 161.12,159.97 161.50,159.81 161.89,159.66 162.27,159.51 162.66,159.37 163.04,159.24 163.43,159.11 163.81,158.99 164.20,158.87 164.59,158.76 164.97,158.66 165.36,158.57 165.74,158.49 166.13,158.42 166.51,158.36 166.90,158.30 167.29,158.25 167.67,158.20 168.06,158.15 168.44,158.10 168.83,158.05 169.21,157.99 169.60,157.92 169.98,157.84 170.37,157.74 170.76,157.63 171.14,157.50 171.53,157.34 171.91,157.15 172.30,156.94 172.68,156.69 173.07,156.41 173.46,156.08 173.84,155.71 174.23,155.30 174.61,154.83 175.00,154.31 175.38,153.73 175.77,153.10 176.16,152.40 176.54,151.63 176.93,150.80 177.31,149.89 177.70,148.91 178.08,147.86 178.47,146.72 178.85,145.51 179.24,144.21 179.63,142.83 180.01,141.37 180.40,139.82 180.78,138.18 181.17,136.46 181.55,134.66 181.94,132.77 182.33,130.79 182.71,128.74 183.10,126.60 183.48,124.39 183.87,122.11 184.25,119.76 184.64,117.34 185.03,114.87 185.41,112.35 185.80,109.79 186.18,107.19 186.57,104.56 186.95,101.92 187.34,99.28 187.72,96.65 188.11,94.04 188.50,91.46 188.88,88.94 189.27,86.48 189.65,84.10 190.04,81.81 190.42,79.63 190.81,77.58 191.20,75.66 191.58,73.88 191.97,72.26 192.35,70.80 192.74,69.51 193.12,68.38 193.51,67.36 193.89,66.41 194.28,65.53 194.67,64.73 195.05,63.99 195.44,63.32 195.82,62.70 196.21,62.13 196.59,61.61 196.98,61.13 197.37,60.68 197.75,60.25 198.14,59.84 198.52,59.44 198.91,59.04 199.29,58.64 199.68,58.23 200.07,57.81 200.45,57.36 200.84,56.90 201.22,56.40 201.61,55.87 201.99,55.31 202.38,54.71 202.76,54.08 203.15,53.41 203.54,52.71 203.92,51.97 204.31,51.20 204.69,50.41 205.08,49.60 205.46,48.78 205.85,47.94 206.24,47.11 206.62,46.29 207.01,45.49 207.39,44.72 207.78,43.99 208.16,43.31 208.55,42.70 208.93,42.18 209.32,41.74 209.71,41.41 210.09,41.20 210.48,41.12 210.86,41.18 211.25,41.40 211.63,41.77 212.02,42.32 212.41,43.04 212.79,43.95 213.18,45.04 213.56,46.30 213.95,47.71 214.33,49.28 214.72,51.00 215.11,52.87 215.49,54.88 215.88,57.03 216.26,59.30 216.65,61.70 217.03,64.20 217.42,66.80 217.80,69.49 218.19,72.27 218.58,75.11 218.96,78.01 219.35,80.97 219.73,83.96 220.12,86.98 220.50,90.03 220.89,93.08 221.28,96.14 221.66,99.20 222.05,102.25 222.43,105.28 222.82,108.29 223.20,111.28 223.59,114.23 223.97,117.14 224.36,120.01 224.75,122.84 225.13,125.62 225.52,128.36 225.90,131.04 226.29,133.67 226.67,136.25 227.06,138.77 227.45,141.23 227.83,143.63 228.22,145.98 228.60,148.27 228.99,150.51 229.37,152.68 229.76,154.80 230.15,156.86 230.53,158.87 230.92,160.82 231.30,162.71 231.69,164.55 232.07,166.34 232.46,168.08 232.84,169.76 233.23,171.39 233.62,172.97 234.00,174.51 234.39,175.99 234.77,177.43 235.16,178.83 235.54,180.17 235.93,181.48 236.32,182.75 236.70,183.97 237.09,185.15 237.47,186.30 237.86,187.41 238.24,188.48 238.63,189.51 239.02,190.51 239.40,191.48 239.79,192.42 240.17,193.32 240.56,194.20 240.94,195.04 241.33,195.86 241.71,196.65 242.10,197.42 242.49,198.15 242.87,198.87 243.26,199.56 243.64,200.23 244.03,200.87 244.41,201.50 244.80,202.10 245.19,202.69 245.57,203.26 245.96,203.81 246.34,204.34 246.73,204.85 247.11,205.35 247.50,205.83 247.88,206.30 248.27,206.76 248.66,207.20 249.04,207.62 249.43,208.04 249.81,208.44 250.20,208.83 250.58,209.21 250.97,209.58 251.36,209.94 251.74,210.29 252.13,210.63 252.51,210.96 252.90,211.28 253.28,211.59 253.67,211.90 254.06,212.19 254.44,212.48 254.83,212.76 255.21,213.04 255.60,213.31 255.98,213.57 256.37,213.82 256.75,214.07 257.14,214.32 257.53,214.55 257.91,214.78 258.30,215.01 258.68,215.23 259.07,215.45 259.45,215.66 259.84,215.87 260.23,216.07 260.61,216.27 261.00,216.46 261.38,216.65 261.77,216.84 262.15,217.02 262.54,217.20 262.92,217.37 263.31,217.55 263.70,217.71 264.08,217.88 264.47,218.04 264.85,218.20 265.24,218.35 265.62,218.51 266.01,218.65 266.40,218.80 266.78,218.95 267.17,219.09 267.55,219.22 267.94,219.36 268.32,219.49 268.71,219.63 269.10,219.75 269.48,219.88 269.87,220.00 270.25,220.13 270.64,220.25 271.02,220.36 271.41,220.48 271.79,220.59 272.18,220.71 272.57,220.82 272.95,220.92 273.34,221.03 273.72,221.13 274.11,221.24 274.49,221.34 274.88,221.44 275.27,221.53 275.65,221.63 276.04,221.73 276.42,221.82 276.81,221.91 277.19,222.00 277.58,222.09 277.96,222.18 278.35,222.26 278.74,222.35 279.12,222.43 279.51,222.51 279.89,222.59 280.28,222.67 280.66,222.75 281.05,222.83 281.44,222.90 281.82,222.98 282.21,223.05 282.59,223.13 282.98,223.20 283.36,223.27 283.75,223.34 284.14,223.41 284.52,223.47 284.91,223.54 285.29,223.61 285.68,223.67 286.06,223.73 286.45,223.80 286.83,223.86 287.22,223.92 287.61,223.98 287.99,224.04 288.38,224.10 288.76,224.16 289.15,224.21 289.53,224.27 289.92,224.32 290.31,224.38 290.69,224.43 291.08,224.49 291.46,224.54 291.85,224.59 292.23,224.64 292.62,224.69 293.01,224.74 293.39,224.79 293.78,224.84 294.16,224.89 294.55,224.94 294.93,224.98 295.32,225.03 295.70,225.07 296.09,225.12 296.48,225.16 296.86,225.21 297.25,225.25 297.63,225.29 298.02,225.33 298.40,225.38 298.79,225.42 299.18,225.46 299.56,225.50 299.95,225.54 300.33,225.58 300.72,225.62 301.10,225.65 301.49,225.69 301.87,225.73 302.26,225.77 302.65,225.80 303.03,225.84 303.42,225.87 303.80,225.91 304.19,225.94 304.57,225.98 304.96,226.01 305.35,226.05 305.73,226.08 306.12,226.11 306.50,226.15 306.89,226.18 307.27,226.21 307.66,226.24 308.05,226.27 308.43,226.30 308.82,226.33 309.20,226.36 309.59,226.39 309.97,226.42 310.36,226.45 310.74,226.48 311.13,226.51 311.52,226.54 311.90,226.56 312.29,226.59 312.67,226.62 313.06,226.65 313.44,226.67 313.83,226.70 314.22,226.73 314.60,226.75 314.99,226.78 315.37,226.80 315.76,226.83 316.14,226.85 316.53,226.88 316.91,226.90 317.30,226.92 317.69,226.95 318.07,226.97 318.46,226.99 318.84,227.02 319.23,227.04 319.61,227.06 320.00,227.09" fill="none" stroke="#000" stroke-width="1.2" stroke-linejoin="round"/><g fill="#000"><rect x="87.55" y="232.55" width="3.90" height="3.90"/><rect x="89.55" y="233.25" width="3.90" height="3.90"/><circle cx="93.20" cy="237.60" r="2.05"/><rect x="93.25" y="236.35" width="3.90" height="3.90"/><rect x="95.55" y="234.25" width="3.90" height="3.90"/><circle cx="89.10" cy="241.30" r="2.05"/><rect x="89.25" y="234.25" width="3.90" height="3.90"/><rect x="91.25" y="232.15" width="3.90" height="3.90"/><circle cx="96.30" cy="232.10" r="2.05"/><rect x="98.45" y="230.15" width="3.90" height="3.90"/><rect x="102.65" y="228.05" width="3.90" height="3.90"/><circle cx="106.60" cy="227.90" r="2.05"/><rect x="107.75" y="221.85" width="3.90" height="3.90"/><rect x="109.85" y="218.75" width="3.90" height="3.90"/><circle cx="112.80" cy="212.50" r="2.05"/><rect x="112.95" y="202.25" width="3.90" height="3.90"/><rect x="113.95" y="196.05" width="3.90" height="3.90"/><circle cx="116.90" cy="192.90" r="2.05"/><rect x="117.05" y="177.55" width="3.90" height="3.90"/><rect x="118.05" y="175.45" width="3.90" height="3.90"/><circle cx="122.10" cy="169.20" r="2.05"/><rect x="122.15" y="153.85" width="3.90" height="3.90"/><rect x="124.25" y="152.75" width="3.90" height="3.90"/><circle cx="128.30" cy="154.30" r="2.05"/><rect x="128.35" y="144.55" width="3.90" height="3.90"/><rect x="130.45" y="139.35" width="3.90" height="3.90"/><circle cx="133.80" cy="139.30" r="2.05"/><rect x="133.55" y="141.45" width="3.90" height="3.90"/><rect x="135.55" y="152.75" width="3.90" height="3.90"/><circle cx="139.20" cy="158.90" r="2.05"/><rect x="139.75" y="163.05" width="3.90" height="3.90"/><rect x="141.75" y="165.15" width="3.90" height="3.90"/><circle cx="145.80" cy="168.10" r="2.05"/><rect x="145.95" y="168.25" width="3.90" height="3.90"/><rect x="147.95" y="162.05" width="3.90" height="3.90"/><circle cx="152.00" cy="163.00" r="2.05"/><rect x="153.15" y="160.05" width="3.90" height="3.90"/><rect x="156.25" y="156.95" width="3.90" height="3.90"/><circle cx="161.30" cy="156.80" r="2.05"/><rect x="162.45" y="153.85" width="3.90" height="3.90"/><rect x="163.45" y="147.65" width="3.90" height="3.90"/><circle cx="165.40" cy="139.30" r="2.05"/><rect x="148.75" y="161.15" width="3.90" height="3.90"/><rect x="150.75" y="157.85" width="3.90" height="3.90"/><circle cx="156.00" cy="163.80" r="2.05"/><rect x="156.75" y="155.85" width="3.90" height="3.90"/><rect x="160.15" y="163.25" width="3.90" height="3.90"/><circle cx="163.40" cy="157.10" r="2.05"/><rect x="162.85" y="147.75" width="3.90" height="3.90"/><rect x="164.85" y="136.35" width="3.90" height="3.90"/><circle cx="168.10" cy="132.20" r="2.05"/><rect x="168.25" y="155.85" width="3.90" height="3.90"/><rect x="170.85" y="155.85" width="3.90" height="3.90"/><circle cx="173.50" cy="165.20" r="2.05"/><rect x="172.95" y="155.15" width="3.90" height="3.90"/><rect x="174.95" y="147.75" width="3.90" height="3.90"/><circle cx="178.20" cy="139.00" r="2.05"/><rect x="178.25" y="130.25" width="3.90" height="3.90"/><rect x="179.65" y="111.45" width="3.90" height="3.90"/><circle cx="183.60" cy="106.00" r="2.05"/><rect x="183.25" y="108.75" width="3.90" height="3.90"/><rect x="184.35" y="103.45" width="3.90" height="3.90"/><circle cx="182.90" cy="106.00" r="2.05"/><rect x="183.85" y="103.35" width="3.90" height="3.90"/><rect x="186.25" y="91.15" width="3.90" height="3.90"/><circle cx="191.50" cy="83.80" r="2.05"/><rect x="188.15" y="75.35" width="3.90" height="3.90"/><rect x="190.95" y="71.85" width="3.90" height="3.90"/><circle cx="195.10" cy="61.60" r="2.05"/><rect x="196.05" y="54.55" width="3.90" height="3.90"/><rect x="197.75" y="56.45" width="3.90" height="3.90"/><circle cx="201.30" cy="50.80" r="2.05"/><rect x="201.05" y="41.65" width="3.90" height="3.90"/><rect x="203.15" y="43.85" width="3.90" height="3.90"/><circle cx="207.30" cy="43.60" r="2.05"/><rect x="207.45" y="40.95" width="3.90" height="3.90"/><rect x="209.15" y="39.85" width="3.90" height="3.90"/><circle cx="213.00" cy="47.90" r="2.05"/><rect x="212.45" y="64.65" width="3.90" height="3.90"/><rect x="214.35" y="73.95" width="3.90" height="3.90"/><circle cx="218.00" cy="83.80" r="2.05"/><rect x="217.55" y="80.45" width="3.90" height="3.90"/><rect x="217.85" y="94.75" width="3.90" height="3.90"/><circle cx="221.50" cy="128.00" r="2.05"/><rect x="220.95" y="138.05" width="3.90" height="3.90"/><rect x="222.45" y="150.45" width="3.90" height="3.90"/><circle cx="225.80" cy="157.70" r="2.05"/><rect x="233.85" y="167.75" width="3.90" height="3.90"/><rect x="233.75" y="169.15" width="3.90" height="3.90"/><circle cx="227.90" cy="181.60" r="2.05"/><rect x="228.25" y="177.85" width="3.90" height="3.90"/><rect x="230.65" y="184.25" width="3.90" height="3.90"/><circle cx="237.20" cy="184.50" r="2.05"/><rect x="238.15" y="177.25" width="3.90" height="3.90"/><rect x="232.35" y="196.45" width="3.90" height="3.90"/><circle cx="242.50" cy="190.90" r="2.05"/><rect x="242.25" y="192.45" width="3.90" height="3.90"/><rect x="250.45" y="192.45" width="3.90" height="3.90"/><circle cx="245.40" cy="200.80" r="2.05"/><rect x="251.55" y="198.85" width="3.90" height="3.90"/><rect x="245.75" y="204.05" width="3.90" height="3.90"/><circle cx="250.00" cy="207.20" r="2.05"/><rect x="247.55" y="208.75" width="3.90" height="3.90"/><rect x="253.95" y="203.45" width="3.90" height="3.90"/><circle cx="258.20" cy="210.10" r="2.05"/><rect x="257.45" y="203.45" width="3.90" height="3.90"/><rect x="260.35" y="208.15" width="3.90" height="3.90"/><circle cx="263.40" cy="206.00" r="2.05"/><rect x="264.45" y="203.45" width="3.90" height="3.90"/><rect x="266.15" y="208.15" width="3.90" height="3.90"/><circle cx="269.90" cy="206.60" r="2.05"/><rect x="270.25" y="214.55" width="3.90" height="3.90"/><rect x="273.15" y="221.55" width="3.90" height="3.90"/><circle cx="278.60" cy="223.50" r="2.05"/><rect x="268.85" y="205.35" width="3.90" height="3.90"/><rect x="271.25" y="222.25" width="3.90" height="3.90"/><circle cx="278.10" cy="224.20" r="2.05"/><rect x="278.55" y="233.55" width="3.90" height="3.90"/><rect x="280.95" y="231.95" width="3.90" height="3.90"/><circle cx="286.10" cy="232.30" r="2.05"/><rect x="287.45" y="235.15" width="3.90" height="3.90"/><rect x="289.85" y="227.05" width="3.90" height="3.90"/><circle cx="295.80" cy="235.50" r="2.05"/><rect x="295.45" y="239.95" width="3.90" height="3.90"/><rect x="298.65" y="235.95" width="3.90" height="3.90"/><circle cx="303.90" cy="235.50" r="2.05"/><rect x="304.35" y="236.75" width="3.90" height="3.90"/><rect x="305.95" y="239.95" width="3.90" height="3.90"/><circle cx="311.90" cy="225.00" r="2.05"/><rect x="311.55" y="234.35" width="3.90" height="3.90"/><rect x="313.25" y="237.55" width="3.90" height="3.90"/><circle cx="317.60" cy="232.30" r="2.05"/><rect x="316.45" y="233.55" width="3.90" height="3.90"/><rect x="310.75" y="239.95" width="3.90" height="3.90"/></g><text x="229.40" y="73.80" class="an" textLength="31.20" lengthAdjust="spacingAndGlyphs">FeOOH</text><line x1="227.30" y1="72.90" x2="219.60" y2="81.40" stroke="#000" stroke-width="0.9"/><polygon points="219.60,81.40 220.84,77.80 223.06,79.81" fill="#000"/><text x="155.40" y="120.70" class="an">Fe</text><text x="165.00" y="125.80" class="sb">2</text><text x="167.80" y="120.70" class="an">O</text><text x="176.10" y="125.80" class="sb">3</text><line x1="179.40" y1="119.40" x2="190.40" y2="128.40" stroke="#000" stroke-width="0.9"/><polygon points="190.40,128.40 184.32,125.88 186.73,122.94" fill="#000"/><text x="141.80" y="180.70" class="an" textLength="53.10" lengthAdjust="spacingAndGlyphs">Fe-O/Fe(OH)</text><text x="196.40" y="186.00" class="sb">2</text><line x1="159.20" y1="182.40" x2="165.80" y2="191.20" stroke="#000" stroke-width="0.9"/><polygon points="165.80,191.20 160.50,187.30 163.54,185.02" fill="#000"/><text x="121.60" y="210.70" class="an" textLength="22.60" lengthAdjust="spacingAndGlyphs">Fe-Fe</text><line x1="135.40" y1="203.50" x2="145.30" y2="187.60" stroke="#000" stroke-width="0.9"/><polygon points="145.30,187.60 143.58,193.95 140.36,191.94" fill="#000"/></g>
<g id="pb"><line x1="423.40" y1="22.90" x2="423.40" y2="246.20" stroke="#000" stroke-width="1.15"/>
<line x1="725.30" y1="22.90" x2="725.30" y2="246.20" stroke="#000" stroke-width="1.15"/>
<line x1="422.80" y1="22.90" x2="725.90" y2="22.90" stroke="#000" stroke-width="2"/>
<line x1="422.80" y1="246.20" x2="725.90" y2="246.20" stroke="#000" stroke-width="2"/>
<line x1="423.40" y1="238.31" x2="427.60" y2="238.31" stroke="#000" stroke-width="1.7"/>
<line x1="724.10" y1="238.31" x2="725.90" y2="238.31" stroke="#000" stroke-width="1.4"/>
<text x="417.20" y="241.21" class="tl" text-anchor="end">0</text>
<line x1="423.40" y1="222.92" x2="425.60" y2="222.92" stroke="#000" stroke-width="1.5"/>
<line x1="724.10" y1="222.92" x2="725.90" y2="222.92" stroke="#000" stroke-width="1.4"/>
<line x1="423.40" y1="207.53" x2="427.60" y2="207.53" stroke="#000" stroke-width="1.7"/>
<line x1="724.10" y1="207.53" x2="725.90" y2="207.53" stroke="#000" stroke-width="1.4"/>
<text x="417.20" y="210.43" class="tl" text-anchor="end">2000</text>
<line x1="423.40" y1="192.15" x2="425.60" y2="192.15" stroke="#000" stroke-width="1.5"/>
<line x1="724.10" y1="192.15" x2="725.90" y2="192.15" stroke="#000" stroke-width="1.4"/>
<line x1="423.40" y1="176.76" x2="427.60" y2="176.76" stroke="#000" stroke-width="1.7"/>
<line x1="724.10" y1="176.76" x2="725.90" y2="176.76" stroke="#000" stroke-width="1.4"/>
<text x="417.20" y="179.66" class="tl" text-anchor="end">4000</text>
<line x1="423.40" y1="161.38" x2="425.60" y2="161.38" stroke="#000" stroke-width="1.5"/>
<line x1="724.10" y1="161.38" x2="725.90" y2="161.38" stroke="#000" stroke-width="1.4"/>
<line x1="423.40" y1="145.99" x2="427.60" y2="145.99" stroke="#000" stroke-width="1.7"/>
<line x1="724.10" y1="145.99" x2="725.90" y2="145.99" stroke="#000" stroke-width="1.4"/>
<text x="417.20" y="148.89" class="tl" text-anchor="end">6000</text>
<line x1="423.40" y1="130.60" x2="425.60" y2="130.60" stroke="#000" stroke-width="1.5"/>
<line x1="724.10" y1="130.60" x2="725.90" y2="130.60" stroke="#000" stroke-width="1.4"/>
<line x1="423.40" y1="115.22" x2="427.60" y2="115.22" stroke="#000" stroke-width="1.7"/>
<line x1="724.10" y1="115.22" x2="725.90" y2="115.22" stroke="#000" stroke-width="1.4"/>
<text x="417.20" y="118.12" class="tl" text-anchor="end">8000</text>
<line x1="423.40" y1="99.83" x2="425.60" y2="99.83" stroke="#000" stroke-width="1.5"/>
<line x1="724.10" y1="99.83" x2="725.90" y2="99.83" stroke="#000" stroke-width="1.4"/>
<line x1="423.40" y1="84.44" x2="427.60" y2="84.44" stroke="#000" stroke-width="1.7"/>
<line x1="724.10" y1="84.44" x2="725.90" y2="84.44" stroke="#000" stroke-width="1.4"/>
<text x="417.20" y="87.34" class="tl" text-anchor="end">10000</text>
<line x1="423.40" y1="69.06" x2="425.60" y2="69.06" stroke="#000" stroke-width="1.5"/>
<line x1="724.10" y1="69.06" x2="725.90" y2="69.06" stroke="#000" stroke-width="1.4"/>
<line x1="423.40" y1="53.67" x2="427.60" y2="53.67" stroke="#000" stroke-width="1.7"/>
<line x1="724.10" y1="53.67" x2="725.90" y2="53.67" stroke="#000" stroke-width="1.4"/>
<text x="417.20" y="56.57" class="tl" text-anchor="end">12000</text>
<line x1="423.40" y1="38.29" x2="425.60" y2="38.29" stroke="#000" stroke-width="1.5"/>
<line x1="724.10" y1="38.29" x2="725.90" y2="38.29" stroke="#000" stroke-width="1.4"/>
<text x="417.20" y="25.80" class="tl" text-anchor="end">14000</text>
<line x1="456.30" y1="246.20" x2="456.30" y2="242.20" stroke="#000" stroke-width="1.1"/>
<text x="456.30" y="257.80" class="tl" text-anchor="middle">704</text>
<line x1="489.90" y1="246.20" x2="489.90" y2="244.00" stroke="#000" stroke-width="1.1"/>
<line x1="523.50" y1="246.20" x2="523.50" y2="242.20" stroke="#000" stroke-width="1.1"/>
<text x="523.50" y="257.80" class="tl" text-anchor="middle">708</text>
<line x1="557.10" y1="246.20" x2="557.10" y2="244.00" stroke="#000" stroke-width="1.1"/>
<line x1="590.70" y1="246.20" x2="590.70" y2="242.20" stroke="#000" stroke-width="1.1"/>
<text x="590.70" y="257.80" class="tl" text-anchor="middle">712</text>
<line x1="624.30" y1="246.20" x2="624.30" y2="244.00" stroke="#000" stroke-width="1.1"/>
<line x1="657.90" y1="246.20" x2="657.90" y2="242.20" stroke="#000" stroke-width="1.1"/>
<text x="657.90" y="257.80" class="tl" text-anchor="middle">716</text>
<line x1="691.50" y1="246.20" x2="691.50" y2="244.00" stroke="#000" stroke-width="1.1"/>
<text x="725.10" y="257.80" class="tl" text-anchor="middle">720</text>
<text x="531.85" y="275.10" class="tt" textLength="85" lengthAdjust="spacingAndGlyphs">Binding energy (eV)</text>
<text x="-29" y="0" class="tt" textLength="58" lengthAdjust="spacingAndGlyphs" style="font-size:10.5px" transform="translate(389.60,137.50) rotate(-90)">Intensity(cps)</text>
<text x="426.90" y="42.00" class="pl">(b)</text><polyline points="456.77,241.94 457.16,241.92 457.55,241.91 457.94,241.89 458.34,241.87 458.73,241.86 459.12,241.84 459.51,241.82 459.90,241.81 460.30,241.79 460.69,241.77 461.08,241.75 461.47,241.74 461.87,241.72 462.26,241.70 462.65,241.68 463.04,241.66 463.44,241.64 463.83,241.62 464.22,241.60 464.61,241.58 465.00,241.56 465.40,241.55 465.79,241.53 466.18,241.50 466.57,241.48 466.97,241.46 467.36,241.44 467.75,241.42 468.14,241.40 468.53,241.38 468.93,241.36 469.32,241.34 469.71,241.31 470.10,241.29 470.50,241.27 470.89,241.25 471.28,241.22 471.67,241.20 472.06,241.18 472.46,241.15 472.85,241.13 473.24,241.10 473.63,241.08 474.03,241.05 474.42,241.03 474.81,241.00 475.20,240.98 475.60,240.95 475.99,240.93 476.38,240.90 476.77,240.87 477.16,240.85 477.56,240.82 477.95,240.79 478.34,240.76 478.73,240.73 479.13,240.70 479.52,240.68 479.91,240.65 480.30,240.62 480.69,240.59 481.09,240.56 481.48,240.52 481.87,240.49 482.26,240.46 482.66,240.43 483.05,240.40 483.44,240.36 483.83,240.33 484.23,240.30 484.62,240.26 485.01,240.23 485.40,240.19 485.79,240.16 486.19,240.12 486.58,240.08 486.97,240.05 487.36,240.01 487.76,239.97 488.15,239.93 488.54,239.89 488.93,239.85 489.32,239.81 489.72,239.77 490.11,239.73 490.50,239.69 490.89,239.65 491.29,239.60 491.68,239.56 492.07,239.51 492.46,239.47 492.86,239.42 493.25,239.38 493.64,239.33 494.03,239.28 494.42,239.23 494.82,239.18 495.21,239.13 495.60,239.08 495.99,239.03 496.39,238.98 496.78,238.92 497.17,238.87 497.56,238.81 497.95,238.76 498.35,238.70 498.74,238.64 499.13,238.58 499.52,238.52 499.92,238.46 500.31,238.40 500.70,238.34 501.09,238.27 501.48,238.21 501.88,238.14 502.27,238.07 502.66,238.00 503.05,237.93 503.45,237.86 503.84,237.79 504.23,237.71 504.62,237.64 505.02,237.56 505.41,237.48 505.80,237.40 506.19,237.32 506.58,237.23 506.98,237.14 507.37,237.06 507.76,236.97 508.15,236.87 508.55,236.78 508.94,236.68 509.33,236.58 509.72,236.48 510.11,236.38 510.51,236.27 510.90,236.16 511.29,236.05 511.68,235.93 512.08,235.81 512.47,235.69 512.86,235.56 513.25,235.43 513.65,235.30 514.04,235.16 514.43,235.02 514.82,234.87 515.21,234.72 515.61,234.56 516.00,234.40 516.39,234.24 516.78,234.07 517.18,233.89 517.57,233.70 517.96,233.51 518.35,233.32 518.74,233.11 519.14,232.90 519.53,232.68 519.92,232.45 520.31,232.22 520.71,231.97 521.10,231.72 521.49,231.45 521.88,231.18 522.27,230.89 522.67,230.59 523.06,230.29 523.45,229.97 523.84,229.63 524.24,229.28 524.63,228.92 525.02,228.55 525.41,228.16 525.81,227.75 526.20,227.33 526.59,226.89 526.98,226.44 527.37,225.96 527.77,225.47 528.16,224.96 528.55,224.43 528.94,223.87 529.34,223.30 529.73,222.70 530.12,222.08 530.51,221.44 530.90,220.77 531.30,220.08 531.69,219.36 532.08,218.62 532.47,217.85 532.87,217.05 533.26,216.23 533.65,215.37 534.04,214.49 534.44,213.57 534.83,212.63 535.22,211.65 535.61,210.65 536.00,209.61 536.40,208.54 536.79,207.43 537.18,206.30 537.57,205.13 537.97,203.92 538.36,202.69 538.75,201.41 539.14,200.11 539.53,198.77 539.93,197.40 540.32,195.99 540.71,194.55 541.10,193.07 541.50,191.56 541.89,190.02 542.28,188.45 542.67,186.84 543.06,185.21 543.46,183.54 543.85,181.84 544.24,180.12 544.63,178.37 545.03,176.59 545.42,174.78 545.81,172.96 546.20,171.11 546.60,169.24 546.99,167.36 547.38,165.46 547.77,163.54 548.16,161.61 548.56,159.68 548.95,157.74 549.34,155.80 549.73,153.86 550.13,151.92 550.52,149.99 550.91,148.07 551.30,146.17 551.69,144.29 552.09,142.43 552.48,140.60 552.87,138.80 553.26,137.05 553.66,135.34 554.05,133.67 554.44,132.06 554.83,130.52 555.23,129.03 555.62,127.62 556.01,126.28 556.40,125.03 556.79,123.86 557.19,122.78 557.58,121.80 557.97,120.92 558.36,120.15 558.76,119.48 559.15,118.92 559.54,118.47 559.93,118.14 560.32,117.93 560.72,117.83 561.11,117.85 561.50,117.97 561.89,118.20 562.29,118.55 562.68,118.99 563.07,119.54 563.46,120.19 563.85,120.94 564.25,121.79 564.64,122.72 565.03,123.74 565.42,124.83 565.82,126.01 566.21,127.26 566.60,128.57 566.99,129.95 567.39,131.38 567.78,132.87 568.17,134.40 568.56,135.97 568.95,137.59 569.35,139.24 569.74,140.91 570.13,142.61 570.52,144.33 570.92,146.07 571.31,147.82 571.70,149.58 572.09,151.35 572.48,153.12 572.88,154.89 573.27,156.66 573.66,158.42 574.05,160.17 574.45,161.91 574.84,163.65 575.23,165.36 575.62,167.06 576.02,168.74 576.41,170.40 576.80,172.04 577.19,173.66 577.58,175.25 577.98,176.82 578.37,178.37 578.76,179.88 579.15,181.37 579.55,182.83 579.94,184.26 580.33,185.66 580.72,187.04 581.11,188.38 581.51,189.69 581.90,190.97 582.29,192.22 582.68,193.44 583.08,194.63 583.47,195.78 583.86,196.91 584.25,198.00 584.65,199.07 585.04,200.10 585.43,201.10 585.82,202.08 586.21,203.02 586.61,203.93 587.00,204.82 587.39,205.67 587.78,206.50 588.18,207.30 588.57,208.08 588.96,208.83 589.35,209.55 589.74,210.25 590.14,210.92 590.53,211.56 590.92,212.19 591.31,212.79 591.71,213.37 592.10,213.92 592.49,214.46 592.88,214.97 593.27,215.47 593.67,215.95 594.06,216.40 594.45,216.84 594.84,217.26 595.24,217.67 595.63,218.05 596.02,218.43 596.41,218.78 596.81,219.13 597.20,219.46 597.59,219.77 597.98,220.07 598.37,220.36 598.77,220.64 599.16,220.91 599.55,221.16 599.94,221.41 600.34,221.64 600.73,221.87 601.12,222.09 601.51,222.29 601.90,222.49 602.30,222.68 602.69,222.87 603.08,223.05 603.47,223.22 603.87,223.38 604.26,223.54 604.65,223.69 605.04,223.83 605.44,223.97 605.83,224.11 606.22,224.24 606.61,224.36 607.00,224.48 607.40,224.60 607.79,224.71 608.18,224.82 608.57,224.93 608.97,225.03 609.36,225.13 609.75,225.22 610.14,225.31 610.53,225.40 610.93,225.49 611.32,225.58 611.71,225.66 612.10,225.74 612.50,225.82 612.89,225.89 613.28,225.97 613.67,226.04 614.06,226.11 614.46,226.18 614.85,226.24 615.24,226.31 615.63,226.37 616.03,226.43 616.42,226.50 616.81,226.55 617.20,226.61 617.60,226.67 617.99,226.73 618.38,226.78 618.77,226.83 619.16,226.89 619.56,226.94 619.95,226.99 620.34,227.04 620.73,227.09 621.13,227.14 621.52,227.18 621.91,227.23 622.30,227.27 622.69,227.32 623.09,227.36 623.48,227.41 623.87,227.45 624.26,227.49 624.66,227.53 625.05,227.57 625.44,227.61 625.83,227.65 626.23,227.69 626.62,227.73 627.01,227.76 627.40,227.80 627.79,227.84 628.19,227.87 628.58,227.91 628.97,227.94 629.36,227.98 629.76,228.01 630.15,228.04 630.54,228.07 630.93,228.11 631.32,228.14 631.72,228.17 632.11,228.20 632.50,228.23 632.89,228.26 633.29,228.29 633.68,228.32 634.07,228.35 634.46,228.37 634.85,228.40 635.25,228.43 635.64,228.45 636.03,228.48 636.42,228.51 636.82,228.53 637.21,228.56 637.60,228.58 637.99,228.61 638.39,228.63 638.78,228.65 639.17,228.68 639.56,228.70 639.95,228.72 640.35,228.74 640.74,228.77 641.13,228.79 641.52,228.81 641.92,228.83 642.31,228.85 642.70,228.87 643.09,228.89 643.48,228.91 643.88,228.93 644.27,228.95 644.66,228.97 645.05,228.99 645.45,229.00 645.84,229.02 646.23,229.04 646.62,229.06 647.02,229.08 647.41,229.09 647.80,229.11 648.19,229.13 648.58,229.14 648.98,229.16 649.37,229.17 649.76,229.19 650.15,229.20 650.55,229.22 650.94,229.23 651.33,229.25 651.72,229.26 652.11,229.28 652.51,229.29 652.90,229.30 653.29,229.32 653.68,229.33 654.08,229.34 654.47,229.36 654.86,229.37 655.25,229.38 655.64,229.40 656.04,229.41 656.43,229.42 656.82,229.43 657.21,229.44 657.61,229.45 658.00,229.47 658.39,229.48 658.78,229.49 659.18,229.50 659.57,229.51 659.96,229.52 660.35,229.53 660.74,229.54 661.14,229.55 661.53,229.56 661.92,229.57 662.31,229.58 662.71,229.59 663.10,229.60 663.49,229.61 663.88,229.62 664.27,229.62 664.67,229.63 665.06,229.64 665.45,229.65 665.84,229.66 666.24,229.67 666.63,229.67 667.02,229.68 667.41,229.69 667.81,229.70 668.20,229.71 668.59,229.71 668.98,229.72 669.37,229.73 669.77,229.73 670.16,229.74 670.55,229.75 670.94,229.75 671.34,229.76 671.73,229.77 672.12,229.77 672.51,229.78 672.90,229.79 673.30,229.79 673.69,229.80 674.08,229.80 674.47,229.81 674.87,229.82 675.26,229.82 675.65,229.83 676.04,229.83 676.44,229.84 676.83,229.84 677.22,229.85 677.61,229.85 678.00,229.86 678.40,229.86 678.79,229.87 679.18,229.87 679.57,229.88 679.97,229.88 680.36,229.89 680.75,229.89 681.14,229.90 681.53,229.90 681.93,229.91 682.32,229.91 682.71,229.91 683.10,229.92 683.50,229.92 683.89,229.93 684.28,229.93 684.67,229.93 685.06,229.94 685.46,229.94 685.85,229.94 686.24,229.95 686.63,229.95 687.03,229.95 687.42,229.96 687.81,229.96 688.20,229.96 688.60,229.97 688.99,229.97 689.38,229.97 689.77,229.98 690.16,229.98 690.56,229.98 690.95,229.98 691.34,229.99 691.73,229.99" fill="none" stroke="#000" stroke-width="1.2" stroke-linejoin="round"/>
<polyline points="456.77,243.33 457.16,243.32 457.55,243.32 457.94,243.31 458.34,243.30 458.73,243.30 459.12,243.29 459.51,243.29 459.90,243.28 460.30,243.28 460.69,243.27 461.08,243.26 461.47,243.26 461.87,243.25 462.26,243.25 462.65,243.24 463.04,243.23 463.44,243.23 463.83,243.22 464.22,243.21 464.61,243.21 465.00,243.20 465.40,243.20 465.79,243.19 466.18,243.18 466.57,243.18 466.97,243.17 467.36,243.16 467.75,243.16 468.14,243.15 468.53,243.15 468.93,243.14 469.32,243.13 469.71,243.13 470.10,243.12 470.50,243.11 470.89,243.11 471.28,243.10 471.67,243.09 472.06,243.09 472.46,243.08 472.85,243.07 473.24,243.07 473.63,243.06 474.03,243.05 474.42,243.05 474.81,243.04 475.20,243.03 475.60,243.03 475.99,243.02 476.38,243.01 476.77,243.00 477.16,243.00 477.56,242.99 477.95,242.98 478.34,242.98 478.73,242.97 479.13,242.96 479.52,242.95 479.91,242.95 480.30,242.94 480.69,242.93 481.09,242.92 481.48,242.92 481.87,242.91 482.26,242.90 482.66,242.89 483.05,242.89 483.44,242.88 483.83,242.87 484.23,242.86 484.62,242.85 485.01,242.85 485.40,242.84 485.79,242.83 486.19,242.82 486.58,242.81 486.97,242.81 487.36,242.80 487.76,242.79 488.15,242.78 488.54,242.77 488.93,242.76 489.32,242.75 489.72,242.75 490.11,242.74 490.50,242.73 490.89,242.72 491.29,242.71 491.68,242.70 492.07,242.69 492.46,242.68 492.86,242.67 493.25,242.66 493.64,242.65 494.03,242.64 494.42,242.64 494.82,242.63 495.21,242.62 495.60,242.61 495.99,242.60 496.39,242.59 496.78,242.58 497.17,242.56 497.56,242.55 497.95,242.54 498.35,242.53 498.74,242.52 499.13,242.51 499.52,242.50 499.92,242.49 500.31,242.48 500.70,242.46 501.09,242.45 501.48,242.44 501.88,242.43 502.27,242.42 502.66,242.40 503.05,242.39 503.45,242.38 503.84,242.36 504.23,242.35 504.62,242.33 505.02,242.32 505.41,242.30 505.80,242.29 506.19,242.27 506.58,242.26 506.98,242.24 507.37,242.23 507.76,242.21 508.15,242.19 508.55,242.17 508.94,242.15 509.33,242.13 509.72,242.11 510.11,242.09 510.51,242.07 510.90,242.05 511.29,242.03 511.68,242.00 512.08,241.98 512.47,241.95 512.86,241.93 513.25,241.90 513.65,241.87 514.04,241.84 514.43,241.81 514.82,241.78 515.21,241.75 515.61,241.71 516.00,241.68 516.39,241.64 516.78,241.60 517.18,241.56 517.57,241.52 517.96,241.48 518.35,241.43 518.74,241.38 519.14,241.33 519.53,241.28 519.92,241.22 520.31,241.17 520.71,241.10 521.10,241.04 521.49,240.98 521.88,240.91 522.27,240.83 522.67,240.76 523.06,240.68 523.45,240.60 523.84,240.51 524.24,240.42 524.63,240.32 525.02,240.22 525.41,240.12 525.81,240.01 526.20,239.89 526.59,239.77 526.98,239.65 527.37,239.51 527.77,239.38 528.16,239.23 528.55,239.08 528.94,238.93 529.34,238.76 529.73,238.59 530.12,238.41 530.51,238.22 530.90,238.02 531.30,237.82 531.69,237.61 532.08,237.38 532.47,237.15 532.87,236.91 533.26,236.65 533.65,236.39 534.04,236.12 534.44,235.83 534.83,235.53 535.22,235.22 535.61,234.90 536.00,234.56 536.40,234.21 536.79,233.85 537.18,233.47 537.57,233.08 537.97,232.68 538.36,232.25 538.75,231.82 539.14,231.36 539.53,230.89 539.93,230.41 540.32,229.90 540.71,229.38 541.10,228.84 541.50,228.28 541.89,227.70 542.28,227.11 542.67,226.49 543.06,225.85 543.46,225.20 543.85,224.52 544.24,223.82 544.63,223.10 545.03,222.36 545.42,221.60 545.81,220.81 546.20,220.00 546.60,219.17 546.99,218.32 547.38,217.44 547.77,216.54 548.16,215.62 548.56,214.67 548.95,213.70 549.34,212.71 549.73,211.69 550.13,210.64 550.52,209.58 550.91,208.49 551.30,207.37 551.69,206.23 552.09,205.07 552.48,203.89 552.87,202.68 553.26,201.44 553.66,200.19 554.05,198.91 554.44,197.61 554.83,196.29 555.23,194.95 555.62,193.58 556.01,192.20 556.40,190.79 556.79,189.36 557.19,187.92 557.58,186.46 557.97,184.98 558.36,183.48 558.76,181.97 559.15,180.44 559.54,178.89 559.93,177.34 560.32,175.77 560.72,174.18 561.11,172.59 561.50,170.99 561.89,169.38 562.29,167.76 562.68,166.13 563.07,164.50 563.46,162.86 563.85,161.23 564.25,159.59 564.64,157.94 565.03,156.30 565.42,154.67 565.82,153.03 566.21,151.40 566.60,149.78 566.99,148.16 567.39,146.56 567.78,144.96 568.17,143.38 568.56,141.81 568.95,140.25 569.35,138.71 569.74,137.19 570.13,135.69 570.52,134.21 570.92,132.76 571.31,131.32 571.70,129.91 572.09,128.53 572.48,127.18 572.88,125.86 573.27,124.57 573.66,123.31 574.05,122.09 574.45,120.90 574.84,119.75 575.23,118.64 575.62,117.57 576.02,116.53 576.41,115.55 576.80,114.60 577.19,113.70 577.58,112.84 577.98,112.04 578.37,111.28 578.76,110.56 579.15,109.90 579.55,109.29 579.94,108.73 580.33,108.22 580.72,107.77 581.11,107.37 581.51,107.02 581.90,106.72 582.29,106.48 582.68,106.30 583.08,106.16 583.47,106.09 583.86,106.07 584.25,106.10 584.65,106.18 585.04,106.32 585.43,106.51 585.82,106.75 586.21,107.04 586.61,107.38 587.00,107.78 587.39,108.22 587.78,108.72 588.18,109.26 588.57,109.85 588.96,110.49 589.35,111.17 589.74,111.90 590.14,112.67 590.53,113.49 590.92,114.35 591.31,115.25 591.71,116.18 592.10,117.16 592.49,118.18 592.88,119.23 593.27,120.31 593.67,121.43 594.06,122.58 594.45,123.76 594.84,124.97 595.24,126.21 595.63,127.48 596.02,128.77 596.41,130.08 596.81,131.42 597.20,132.78 597.59,134.16 597.98,135.55 598.37,136.96 598.77,138.39 599.16,139.83 599.55,141.28 599.94,142.75 600.34,144.22 600.73,145.71 601.12,147.20 601.51,148.69 601.90,150.19 602.30,151.70 602.69,153.20 603.08,154.71 603.47,156.21 603.87,157.72 604.26,159.22 604.65,160.72 605.04,162.21 605.44,163.69 605.83,165.17 606.22,166.64 606.61,168.11 607.00,169.56 607.40,171.00 607.79,172.43 608.18,173.85 608.57,175.25 608.97,176.64 609.36,178.02 609.75,179.38 610.14,180.72 610.53,182.05 610.93,183.36 611.32,184.65 611.71,185.93 612.10,187.18 612.50,188.42 612.89,189.64 613.28,190.84 613.67,192.01 614.06,193.17 614.46,194.30 614.85,195.42 615.24,196.51 615.63,197.58 616.03,198.64 616.42,199.66 616.81,200.67 617.20,201.66 617.60,202.62 617.99,203.56 618.38,204.48 618.77,205.38 619.16,206.26 619.56,207.11 619.95,207.95 620.34,208.76 620.73,209.55 621.13,210.32 621.52,211.07 621.91,211.80 622.30,212.51 622.69,213.20 623.09,213.87 623.48,214.51 623.87,215.14 624.26,215.76 624.66,216.35 625.05,216.92 625.44,217.48 625.83,218.01 626.23,218.53 626.62,219.04 627.01,219.52 627.40,219.99 627.79,220.45 628.19,220.89 628.58,221.31 628.97,221.72 629.36,222.11 629.76,222.49 630.15,222.85 630.54,223.21 630.93,223.54 631.32,223.87 631.72,224.18 632.11,224.48 632.50,224.77 632.89,225.05 633.29,225.31 633.68,225.57 634.07,225.82 634.46,226.05 634.85,226.28 635.25,226.49 635.64,226.70 636.03,226.90 636.42,227.09 636.82,227.27 637.21,227.44 637.60,227.61 637.99,227.76 638.39,227.91 638.78,228.06 639.17,228.20 639.56,228.33 639.95,228.45 640.35,228.57 640.74,228.68 641.13,228.79 641.52,228.90 641.92,228.99 642.31,229.09 642.70,229.18 643.09,229.26 643.48,229.34 643.88,229.42 644.27,229.49 644.66,229.56 645.05,229.62 645.45,229.69 645.84,229.75 646.23,229.80 646.62,229.85 647.02,229.90 647.41,229.95 647.80,230.00 648.19,230.04 648.58,230.08 648.98,230.12 649.37,230.16 649.76,230.19 650.15,230.22 650.55,230.25 650.94,230.28 651.33,230.31 651.72,230.34 652.11,230.36 652.51,230.38 652.90,230.40 653.29,230.43 653.68,230.45 654.08,230.46 654.47,230.48 654.86,230.50 655.25,230.51 655.64,230.53 656.04,230.54 656.43,230.55 656.82,230.57 657.21,230.58 657.61,230.59 658.00,230.60 658.39,230.61 658.78,230.62 659.18,230.63 659.57,230.64 659.96,230.64 660.35,230.65 660.74,230.66 661.14,230.66 661.53,230.67 661.92,230.68 662.31,230.68 662.71,230.69 663.10,230.69 663.49,230.70 663.88,230.70 664.27,230.70 664.67,230.71 665.06,230.71 665.45,230.71 665.84,230.72 666.24,230.72 666.63,230.72 667.02,230.73 667.41,230.73 667.81,230.73 668.20,230.73 668.59,230.73 668.98,230.74 669.37,230.74 669.77,230.74 670.16,230.74 670.55,230.74 670.94,230.74 671.34,230.74 671.73,230.75 672.12,230.75 672.51,230.75 672.90,230.75 673.30,230.75 673.69,230.75 674.08,230.75 674.47,230.75 674.87,230.75 675.26,230.75 675.65,230.75 676.04,230.75 676.44,230.75 676.83,230.75 677.22,230.75 677.61,230.75 678.00,230.75 678.40,230.75 678.79,230.75 679.18,230.75 679.57,230.75 679.97,230.75 680.36,230.75 680.75,230.75 681.14,230.75 681.53,230.75 681.93,230.75 682.32,230.75 682.71,230.75 683.10,230.75 683.50,230.75 683.89,230.74 684.28,230.74 684.67,230.74 685.06,230.74 685.46,230.74 685.85,230.74 686.24,230.74 686.63,230.74 687.03,230.74 687.42,230.74 687.81,230.74 688.20,230.74 688.60,230.73 688.99,230.73 689.38,230.73 689.77,230.73 690.16,230.73 690.56,230.73 690.95,230.73 691.34,230.73 691.73,230.72" fill="none" stroke="#000" stroke-width="1.2" stroke-linejoin="round"/>
<polyline points="456.77,241.60 457.16,241.58 457.55,241.56 457.94,241.54 458.34,241.52 458.73,241.50 459.12,241.49 459.51,241.47 459.90,241.45 460.30,241.43 460.69,241.41 461.08,241.39 461.47,241.37 461.87,241.35 462.26,241.33 462.65,241.31 463.04,241.29 463.44,241.27 463.83,241.25 464.22,241.22 464.61,241.20 465.00,241.18 465.40,241.16 465.79,241.14 466.18,241.12 466.57,241.09 466.97,241.07 467.36,241.05 467.75,241.02 468.14,241.00 468.53,240.98 468.93,240.95 469.32,240.93 469.71,240.91 470.10,240.88 470.50,240.86 470.89,240.83 471.28,240.81 471.67,240.78 472.06,240.75 472.46,240.73 472.85,240.70 473.24,240.67 473.63,240.65 474.03,240.62 474.42,240.59 474.81,240.57 475.20,240.54 475.60,240.51 475.99,240.48 476.38,240.45 476.77,240.42 477.16,240.39 477.56,240.36 477.95,240.33 478.34,240.30 478.73,240.27 479.13,240.24 479.52,240.20 479.91,240.17 480.30,240.14 480.69,240.11 481.09,240.07 481.48,240.04 481.87,240.00 482.26,239.97 482.66,239.93 483.05,239.90 483.44,239.86 483.83,239.83 484.23,239.79 484.62,239.75 485.01,239.71 485.40,239.67 485.79,239.63 486.19,239.60 486.58,239.56 486.97,239.51 487.36,239.47 487.76,239.43 488.15,239.39 488.54,239.35 488.93,239.30 489.32,239.26 489.72,239.21 490.11,239.17 490.50,239.12 490.89,239.08 491.29,239.03 491.68,238.98 492.07,238.93 492.46,238.88 492.86,238.83 493.25,238.78 493.64,238.73 494.03,238.68 494.42,238.62 494.82,238.57 495.21,238.51 495.60,238.46 495.99,238.40 496.39,238.34 496.78,238.29 497.17,238.23 497.56,238.17 497.95,238.10 498.35,238.04 498.74,237.98 499.13,237.91 499.52,237.85 499.92,237.78 500.31,237.71 500.70,237.64 501.09,237.57 501.48,237.50 501.88,237.42 502.27,237.35 502.66,237.27 503.05,237.19 503.45,237.11 503.84,237.03 504.23,236.95 504.62,236.86 505.02,236.78 505.41,236.69 505.80,236.60 506.19,236.51 506.58,236.41 506.98,236.31 507.37,236.21 507.76,236.11 508.15,236.01 508.55,235.90 508.94,235.79 509.33,235.68 509.72,235.56 510.11,235.44 510.51,235.32 510.90,235.19 511.29,235.07 511.68,234.93 512.08,234.79 512.47,234.65 512.86,234.51 513.25,234.36 513.65,234.20 514.04,234.04 514.43,233.88 514.82,233.70 515.21,233.53 515.61,233.34 516.00,233.15 516.39,232.96 516.78,232.75 517.18,232.54 517.57,232.32 517.96,232.09 518.35,231.86 518.74,231.61 519.14,231.36 519.53,231.09 519.92,230.82 520.31,230.53 520.71,230.23 521.10,229.92 521.49,229.60 521.88,229.27 522.27,228.92 522.67,228.55 523.06,228.17 523.45,227.78 523.84,227.37 524.24,226.94 524.63,226.49 525.02,226.02 525.41,225.54 525.81,225.03 526.20,224.51 526.59,223.96 526.98,223.39 527.37,222.79 527.77,222.17 528.16,221.53 528.55,220.85 528.94,220.15 529.34,219.43 529.73,218.67 530.12,217.88 530.51,217.06 530.90,216.21 531.30,215.33 531.69,214.41 532.08,213.46 532.47,212.47 532.87,211.44 533.26,210.38 533.65,209.28 534.04,208.13 534.44,206.95 534.83,205.72 535.22,204.45 535.61,203.14 536.00,201.78 536.40,200.38 536.79,198.93 537.18,197.44 537.57,195.90 537.97,194.31 538.36,192.67 538.75,190.98 539.14,189.25 539.53,187.46 539.93,185.62 540.32,183.73 540.71,181.79 541.10,179.80 541.50,177.76 541.89,175.67 542.28,173.53 542.67,171.33 543.06,169.09 543.46,166.80 543.85,164.45 544.24,162.06 544.63,159.62 545.03,157.13 545.42,154.60 545.81,152.02 546.20,149.40 546.60,146.74 546.99,144.04 547.38,141.30 547.77,138.53 548.16,135.72 548.56,132.88 548.95,130.01 549.34,127.12 549.73,124.20 550.13,121.27 550.52,118.32 550.91,115.35 551.30,112.39 551.69,109.42 552.09,106.45 552.48,103.48 552.87,100.53 553.26,97.60 553.66,94.68 554.05,91.80 554.44,88.95 554.83,86.13 555.23,83.37 555.62,80.65 556.01,77.99 556.40,75.39 556.79,72.86 557.19,70.40 557.58,68.02 557.97,65.72 558.36,63.52 558.76,61.40 559.15,59.38 559.54,57.46 559.93,55.64 560.32,53.92 560.72,52.31 561.11,50.80 561.50,49.40 561.89,48.09 562.29,46.88 562.68,45.78 563.07,44.77 563.46,43.86 563.85,43.04 564.25,42.31 564.64,41.68 565.03,41.13 565.42,40.66 565.82,40.28 566.21,39.97 566.60,39.74 566.99,39.57 567.39,39.47 567.78,39.43 568.17,39.46 568.56,39.54 568.95,39.67 569.35,39.85 569.74,40.08 570.13,40.35 570.52,40.67 570.92,41.02 571.31,41.41 571.70,41.84 572.09,42.30 572.48,42.79 572.88,43.31 573.27,43.86 573.66,44.43 574.05,45.03 574.45,45.66 574.84,46.31 575.23,46.98 575.62,47.68 576.02,48.40 576.41,49.14 576.80,49.91 577.19,50.70 577.58,51.50 577.98,52.33 578.37,53.18 578.76,54.06 579.15,54.95 579.55,55.87 579.94,56.81 580.33,57.77 580.72,58.75 581.11,59.76 581.51,60.78 581.90,61.83 582.29,62.91 582.68,64.01 583.08,65.13 583.47,66.27 583.86,67.44 584.25,68.62 584.65,69.83 585.04,71.06 585.43,72.32 585.82,73.59 586.21,74.89 586.61,76.21 587.00,77.55 587.39,78.91 587.78,80.29 588.18,81.69 588.57,83.11 588.96,84.55 589.35,86.01 589.74,87.49 590.14,88.99 590.53,90.51 590.92,92.05 591.31,93.60 591.71,95.17 592.10,96.76 592.49,98.36 592.88,99.98 593.27,101.61 593.67,103.25 594.06,104.91 594.45,106.58 594.84,108.26 595.24,109.95 595.63,111.65 596.02,113.36 596.41,115.08 596.81,116.80 597.20,118.53 597.59,120.27 597.98,122.01 598.37,123.75 598.77,125.50 599.16,127.25 599.55,129.00 599.94,130.75 600.34,132.50 600.73,134.25 601.12,135.99 601.51,137.73 601.90,139.47 602.30,141.20 602.69,142.92 603.08,144.64 603.47,146.35 603.87,148.05 604.26,149.74 604.65,151.42 605.04,153.09 605.44,154.75 605.83,156.39 606.22,158.03 606.61,159.64 607.00,161.25 607.40,162.83 607.79,164.40 608.18,165.96 608.57,167.49 608.97,169.01 609.36,170.51 609.75,171.99 610.14,173.45 610.53,174.89 610.93,176.32 611.32,177.72 611.71,179.10 612.10,180.45 612.50,181.79 612.89,183.10 613.28,184.39 613.67,185.66 614.06,186.91 614.46,188.13 614.85,189.33 615.24,190.51 615.63,191.66 616.03,192.79 616.42,193.90 616.81,194.98 617.20,196.04 617.60,197.08 617.99,198.09 618.38,199.08 618.77,200.05 619.16,201.00 619.56,201.92 619.95,202.82 620.34,203.69 620.73,204.54 621.13,205.38 621.52,206.19 621.91,206.97 622.30,207.74 622.69,208.48 623.09,209.21 623.48,209.91 623.87,210.59 624.26,211.26 624.66,211.90 625.05,212.53 625.44,213.13 625.83,213.72 626.23,214.29 626.62,214.84 627.01,215.37 627.40,215.89 627.79,216.39 628.19,216.87 628.58,217.33 628.97,217.78 629.36,218.22 629.76,218.64 630.15,219.05 630.54,219.44 630.93,219.82 631.32,220.18 631.72,220.53 632.11,220.87 632.50,221.20 632.89,221.51 633.29,221.81 633.68,222.10 634.07,222.38 634.46,222.65 634.85,222.91 635.25,223.16 635.64,223.40 636.03,223.63 636.42,223.85 636.82,224.07 637.21,224.27 637.60,224.47 637.99,224.66 638.39,224.84 638.78,225.01 639.17,225.18 639.56,225.34 639.95,225.49 640.35,225.64 640.74,225.78 641.13,225.91 641.52,226.04 641.92,226.17 642.31,226.29 642.70,226.40 643.09,226.51 643.48,226.62 643.88,226.72 644.27,226.81 644.66,226.91 645.05,227.00 645.45,227.08 645.84,227.16 646.23,227.24 646.62,227.32 647.02,227.39 647.41,227.46 647.80,227.53 648.19,227.59 648.58,227.65 648.98,227.71 649.37,227.77 649.76,227.82 650.15,227.87 650.55,227.92 650.94,227.97 651.33,228.02 651.72,228.06 652.11,228.11 652.51,228.15 652.90,228.19 653.29,228.23 653.68,228.27 654.08,228.30 654.47,228.34 654.86,228.37 655.25,228.40 655.64,228.43 656.04,228.47 656.43,228.49 656.82,228.52 657.21,228.55 657.61,228.58 658.00,228.60 658.39,228.63 658.78,228.65 659.18,228.68 659.57,228.70 659.96,228.72 660.35,228.75 660.74,228.77 661.14,228.79 661.53,228.81 661.92,228.83 662.31,228.85 662.71,228.87 663.10,228.88 663.49,228.90 663.88,228.92 664.27,228.94 664.67,228.95 665.06,228.97 665.45,228.99 665.84,229.00 666.24,229.02 666.63,229.03 667.02,229.05 667.41,229.06 667.81,229.07 668.20,229.09 668.59,229.10 668.98,229.12 669.37,229.13 669.77,229.14 670.16,229.15 670.55,229.17 670.94,229.18 671.34,229.19 671.73,229.20 672.12,229.21 672.51,229.22 672.90,229.24 673.30,229.25 673.69,229.26 674.08,229.27 674.47,229.28 674.87,229.29 675.26,229.30 675.65,229.31 676.04,229.32 676.44,229.33 676.83,229.34 677.22,229.35 677.61,229.36 678.00,229.37 678.40,229.37 678.79,229.38 679.18,229.39 679.57,229.40 679.97,229.41 680.36,229.42 680.75,229.43 681.14,229.43 681.53,229.44 681.93,229.45 682.32,229.46 682.71,229.46 683.10,229.47 683.50,229.48 683.89,229.49 684.28,229.49 684.67,229.50 685.06,229.51 685.46,229.51 685.85,229.52 686.24,229.53 686.63,229.53 687.03,229.54 687.42,229.55 687.81,229.55 688.20,229.56 688.60,229.56 688.99,229.57 689.38,229.58 689.77,229.58 690.16,229.59 690.56,229.59 690.95,229.60 691.34,229.60 691.73,229.61" fill="none" stroke="#000" stroke-width="1.2" stroke-linejoin="round"/>
<polyline points="456.77,244.06 457.16,244.04 457.55,244.02 457.94,244.00 458.34,243.98 458.73,243.97 459.12,243.95 459.51,243.93 459.90,243.91 460.30,243.89 460.69,243.87 461.08,243.85 461.47,243.83 461.87,243.81 462.26,243.79 462.65,243.77 463.04,243.75 463.44,243.73 463.83,243.71 464.22,243.69 464.61,243.67 465.00,243.64 465.40,243.62 465.79,243.60 466.18,243.58 466.57,243.56 466.97,243.53 467.36,243.51 467.75,243.49 468.14,243.46 468.53,243.44 468.93,243.42 469.32,243.39 469.71,243.37 470.10,243.34 470.50,243.32 470.89,243.29 471.28,243.27 471.67,243.24 472.06,243.22 472.46,243.19 472.85,243.16 473.24,243.14 473.63,243.11 474.03,243.08 474.42,243.05 474.81,243.03 475.20,243.00 475.60,242.97 475.99,242.94 476.38,242.91 476.77,242.88 477.16,242.85 477.56,242.82 477.95,242.79 478.34,242.76 478.73,242.73 479.13,242.70 479.52,242.67 479.91,242.63 480.30,242.60 480.69,242.57 481.09,242.53 481.48,242.50 481.87,242.47 482.26,242.43 482.66,242.40 483.05,242.36 483.44,242.32 483.83,242.29 484.23,242.25 484.62,242.21 485.01,242.17 485.40,242.14 485.79,242.10 486.19,242.06 486.58,242.02 486.97,241.98 487.36,241.94 487.76,241.89 488.15,241.85 488.54,241.81 488.93,241.76 489.32,241.72 489.72,241.68 490.11,241.63 490.50,241.58 490.89,241.54 491.29,241.49 491.68,241.44 492.07,241.39 492.46,241.34 492.86,241.29 493.25,241.24 493.64,241.19 494.03,241.14 494.42,241.09 494.82,241.03 495.21,240.98 495.60,240.92 495.99,240.86 496.39,240.81 496.78,240.75 497.17,240.69 497.56,240.63 497.95,240.57 498.35,240.50 498.74,240.44 499.13,240.37 499.52,240.31 499.92,240.24 500.31,240.17 500.70,240.10 501.09,240.03 501.48,239.96 501.88,239.89 502.27,239.81 502.66,239.73 503.05,239.66 503.45,239.58 503.84,239.49 504.23,239.41 504.62,239.33 505.02,239.24 505.41,239.15 505.80,239.06 506.19,238.97 506.58,238.87 506.98,238.78 507.37,238.68 507.76,238.57 508.15,238.47 508.55,238.36 508.94,238.25 509.33,238.14 509.72,238.02 510.11,237.90 510.51,237.78 510.90,237.66 511.29,237.53 511.68,237.39 512.08,237.26 512.47,237.12 512.86,236.97 513.25,236.82 513.65,236.66 514.04,236.50 514.43,236.34 514.82,236.17 515.21,235.99 515.61,235.81 516.00,235.62 516.39,235.42 516.78,235.21 517.18,235.00 517.57,234.78 517.96,234.56 518.35,234.32 518.74,234.08 519.14,233.82 519.53,233.56 519.92,233.28 520.31,232.99 520.71,232.70 521.10,232.39 521.49,232.06 521.88,231.73 522.27,231.38 522.67,231.01 523.06,230.63 523.45,230.24 523.84,229.83 524.24,229.40 524.63,228.95 525.02,228.49 525.41,228.00 525.81,227.49 526.20,226.97 526.59,226.42 526.98,225.85 527.37,225.25 527.77,224.63 528.16,223.99 528.55,223.32 528.94,222.62 529.34,221.89 529.73,221.13 530.12,220.34 530.51,219.53 530.90,218.68 531.30,217.79 531.69,216.87 532.08,215.92 532.47,214.93 532.87,213.91 533.26,212.84 533.65,211.74 534.04,210.59 534.44,209.41 534.83,208.18 535.22,206.92 535.61,205.60 536.00,204.25 536.40,202.84 536.79,201.40 537.18,199.90 537.57,198.36 537.97,196.77 538.36,195.13 538.75,193.44 539.14,191.71 539.53,189.92 539.93,188.08 540.32,186.19 540.71,184.26 541.10,182.26 541.50,180.22 541.89,178.13 542.28,175.99 542.67,173.79 543.06,171.55 543.46,169.26 543.85,166.91 544.24,164.52 544.63,162.08 545.03,159.60 545.42,157.06 545.81,154.49 546.20,151.87 546.60,149.20 546.99,146.50 547.38,143.76 547.77,140.99 548.16,138.18 548.56,135.34 548.95,132.47 549.34,129.58 549.73,126.66 550.13,123.73 550.52,120.78 550.91,117.82 551.30,114.85 551.69,111.88 552.09,108.91 552.48,105.94 552.87,102.99 553.26,100.06 553.66,97.15 554.05,94.26 554.44,91.41 554.83,88.60 555.23,85.83 555.62,83.11 556.01,80.45 556.40,77.85 556.79,75.32 557.19,72.86 557.58,70.48 557.97,68.19 558.36,65.98 558.76,63.86 559.15,61.84 559.54,59.92 559.93,58.10 560.32,56.38 560.72,54.77 561.11,53.27 561.50,51.86 561.89,50.55 562.29,49.35 562.68,48.24 563.07,47.23 563.46,46.32 563.85,45.50 564.25,44.78 564.64,44.14 565.03,43.59 565.42,43.13 565.82,42.74 566.21,42.43 566.60,42.20 566.99,42.03 567.39,41.93 567.78,41.90 568.17,41.92 568.56,42.00 568.95,42.13 569.35,42.31 569.74,42.54 570.13,42.82 570.52,43.13 570.92,43.48 571.31,43.88 571.70,44.30 572.09,44.76 572.48,45.25 572.88,45.77 573.27,46.32 573.66,46.89 574.05,47.49 574.45,48.12 574.84,48.77 575.23,49.45 575.62,50.14 576.02,50.86 576.41,51.61 576.80,52.37 577.19,53.16 577.58,53.97 577.98,54.79 578.37,55.65 578.76,56.52 579.15,57.41 579.55,58.33 579.94,59.27 580.33,60.23 580.72,61.21 581.11,62.22 581.51,63.25 581.90,64.30 582.29,65.37 582.68,66.47 583.08,67.59 583.47,68.73 583.86,69.90 584.25,71.09 584.65,72.30 585.04,73.53 585.43,74.78 585.82,76.05 586.21,77.35 586.61,78.67 587.00,80.01 587.39,81.37 587.78,82.75 588.18,84.15 588.57,85.57 588.96,87.01 589.35,88.48 589.74,89.96 590.14,91.46 590.53,92.97 590.92,94.51 591.31,96.06 591.71,97.63 592.10,99.22 592.49,100.82 592.88,102.44 593.27,104.07 593.67,105.71 594.06,107.37 594.45,109.04 594.84,110.72 595.24,112.41 595.63,114.11 596.02,115.82 596.41,117.54 596.81,119.26 597.20,120.99 597.59,122.73 597.98,124.47 598.37,126.22 598.77,127.96 599.16,129.71 599.55,131.46 599.94,133.21 600.34,134.96 600.73,136.71 601.12,138.45 601.51,140.19 601.90,141.93 602.30,143.66 602.69,145.38 603.08,147.10 603.47,148.81 603.87,150.51 604.26,152.20 604.65,153.88 605.04,155.55 605.44,157.21 605.83,158.86 606.22,160.49 606.61,162.10 607.00,163.71 607.40,165.29 607.79,166.86 608.18,168.42 608.57,169.95 608.97,171.47 609.36,172.97 609.75,174.45 610.14,175.91 610.53,177.36 610.93,178.78 611.32,180.18 611.71,181.56 612.10,182.91 612.50,184.25 612.89,185.56 613.28,186.86 613.67,188.12 614.06,189.37 614.46,190.59 614.85,191.79 615.24,192.97 615.63,194.13 616.03,195.26 616.42,196.36 616.81,197.45 617.20,198.51 617.60,199.54 617.99,200.56 618.38,201.55 618.77,202.51 619.16,203.46 619.56,204.38 619.95,205.28 620.34,206.15 620.73,207.01 621.13,207.84 621.52,208.65 621.91,209.43 622.30,210.20 622.69,210.95 623.09,211.67 623.48,212.37 623.87,213.06 624.26,213.72 624.66,214.36 625.05,214.99 625.44,215.59 625.83,216.18 626.23,216.75 626.62,217.30 627.01,217.83 627.40,218.35 627.79,218.85 628.19,219.33 628.58,219.80 628.97,220.25 629.36,220.68 629.76,221.10 630.15,221.51 630.54,221.90 630.93,222.28 631.32,222.64 631.72,222.99 632.11,223.33 632.50,223.66 632.89,223.97 633.29,224.27 633.68,224.57 634.07,224.85 634.46,225.12 634.85,225.37 635.25,225.62 635.64,225.86 636.03,226.09 636.42,226.32 636.82,226.53 637.21,226.73 637.60,226.93 637.99,227.12 638.39,227.30 638.78,227.47 639.17,227.64 639.56,227.80 639.95,227.95 640.35,228.10 640.74,228.24 641.13,228.37 641.52,228.50 641.92,228.63 642.31,228.75 642.70,228.86 643.09,228.97 643.48,229.08 643.88,229.18 644.27,229.28 644.66,229.37 645.05,229.46 645.45,229.54 645.84,229.62 646.23,229.70 646.62,229.78 647.02,229.85 647.41,229.92 647.80,229.99 648.19,230.05 648.58,230.11 648.98,230.17 649.37,230.23 649.76,230.28 650.15,230.34 650.55,230.39 650.94,230.43 651.33,230.48 651.72,230.53 652.11,230.57 652.51,230.61 652.90,230.65 653.29,230.69 653.68,230.73 654.08,230.76 654.47,230.80 654.86,230.83 655.25,230.87 655.64,230.90 656.04,230.93 656.43,230.96 656.82,230.99 657.21,231.01 657.61,231.04 658.00,231.07 658.39,231.09 658.78,231.12 659.18,231.14 659.57,231.16 659.96,231.19 660.35,231.21 660.74,231.23 661.14,231.25 661.53,231.27 661.92,231.29 662.31,231.31 662.71,231.33 663.10,231.35 663.49,231.36 663.88,231.38 664.27,231.40 664.67,231.41 665.06,231.43 665.45,231.45 665.84,231.46 666.24,231.48 666.63,231.49 667.02,231.51 667.41,231.52 667.81,231.54 668.20,231.55 668.59,231.56 668.98,231.58 669.37,231.59 669.77,231.60 670.16,231.62 670.55,231.63 670.94,231.64 671.34,231.65 671.73,231.66 672.12,231.68 672.51,231.69 672.90,231.70 673.30,231.71 673.69,231.72 674.08,231.73 674.47,231.74 674.87,231.75 675.26,231.76 675.65,231.77 676.04,231.78 676.44,231.79 676.83,231.80 677.22,231.81 677.61,231.82 678.00,231.83 678.40,231.84 678.79,231.84 679.18,231.85 679.57,231.86 679.97,231.87 680.36,231.88 680.75,231.89 681.14,231.89 681.53,231.90 681.93,231.91 682.32,231.92 682.71,231.93 683.10,231.93 683.50,231.94 683.89,231.95 684.28,231.95 684.67,231.96 685.06,231.97 685.46,231.98 685.85,231.98 686.24,231.99 686.63,232.00 687.03,232.00 687.42,232.01 687.81,232.01 688.20,232.02 688.60,232.03 688.99,232.03 689.38,232.04 689.77,232.04 690.16,232.05 690.56,232.06 690.95,232.06 691.34,232.07 691.73,232.07" fill="none" stroke="#000" stroke-width="1.2" stroke-linejoin="round"/><g fill="#000"><rect x="453.95" y="238.35" width="3.90" height="3.90"/><rect x="456.25" y="233.65" width="3.90" height="3.90"/><circle cx="460.00" cy="238.50" r="2.05"/><rect x="459.85" y="232.45" width="3.90" height="3.90"/><rect x="461.55" y="237.75" width="3.90" height="3.90"/><circle cx="465.30" cy="240.30" r="2.05"/><rect x="465.65" y="236.55" width="3.90" height="3.90"/><rect x="467.45" y="238.35" width="3.90" height="3.90"/><circle cx="472.30" cy="236.20" r="2.05"/><rect x="472.75" y="232.45" width="3.90" height="3.90"/><rect x="474.45" y="236.55" width="3.90" height="3.90"/><circle cx="478.20" cy="234.40" r="2.05"/><rect x="478.05" y="234.75" width="3.90" height="3.90"/><rect x="479.75" y="236.55" width="3.90" height="3.90"/><circle cx="484.10" cy="237.90" r="2.05"/><rect x="484.45" y="235.35" width="3.90" height="3.90"/><rect x="486.85" y="235.95" width="3.90" height="3.90"/><circle cx="491.10" cy="236.70" r="2.05"/><rect x="491.55" y="235.35" width="3.90" height="3.90"/><rect x="493.85" y="235.35" width="3.90" height="3.90"/><circle cx="498.20" cy="236.70" r="2.05"/><rect x="498.55" y="235.35" width="3.90" height="3.90"/><rect x="500.35" y="236.55" width="3.90" height="3.90"/><circle cx="504.10" cy="239.70" r="2.05"/><rect x="504.45" y="237.15" width="3.90" height="3.90"/><rect x="506.85" y="238.35" width="3.90" height="3.90"/><circle cx="511.10" cy="239.10" r="2.05"/><rect x="511.55" y="237.75" width="3.90" height="3.90"/><rect x="513.85" y="239.45" width="3.90" height="3.90"/><circle cx="518.20" cy="238.50" r="2.05"/><rect x="518.55" y="238.95" width="3.90" height="3.90"/><rect x="520.95" y="235.95" width="3.90" height="3.90"/><circle cx="525.20" cy="235.00" r="2.05"/><rect x="525.05" y="230.65" width="3.90" height="3.90"/><rect x="529.15" y="220.05" width="3.90" height="3.90"/><circle cx="549.40" cy="97.40" r="2.05"/><rect x="545.65" y="105.45" width="3.90" height="3.90"/><rect x="543.95" y="115.95" width="3.90" height="3.90"/><circle cx="544.10" cy="133.50" r="2.05"/><rect x="540.45" y="149.65" width="3.90" height="3.90"/><rect x="538.85" y="157.85" width="3.90" height="3.90"/><circle cx="539.00" cy="169.10" r="2.05"/><rect x="535.85" y="180.65" width="3.90" height="3.90"/><rect x="533.55" y="192.75" width="3.90" height="3.90"/><circle cx="533.80" cy="204.40" r="2.05"/><rect x="530.05" y="211.35" width="3.90" height="3.90"/><rect x="549.05" y="83.25" width="3.90" height="3.90"/><circle cx="552.50" cy="81.40" r="2.05"/><rect x="552.45" y="71.95" width="3.90" height="3.90"/><rect x="553.75" y="61.95" width="3.90" height="3.90"/><circle cx="557.60" cy="55.10" r="2.05"/><rect x="557.45" y="48.75" width="3.90" height="3.90"/><rect x="559.35" y="50.65" width="3.90" height="3.90"/><circle cx="563.20" cy="46.90" r="2.05"/><rect x="563.15" y="41.85" width="3.90" height="3.90"/><rect x="565.05" y="41.85" width="3.90" height="3.90"/><circle cx="569.50" cy="53.20" r="2.05"/><rect x="568.75" y="45.65" width="3.90" height="3.90"/><rect x="570.65" y="41.25" width="3.90" height="3.90"/><circle cx="573.90" cy="47.60" r="2.05"/><rect x="574.45" y="54.35" width="3.90" height="3.90"/><rect x="575.65" y="57.55" width="3.90" height="3.90"/><circle cx="579.50" cy="65.80" r="2.05"/><rect x="579.45" y="60.65" width="3.90" height="3.90"/><rect x="580.75" y="66.95" width="3.90" height="3.90"/><circle cx="584.50" cy="71.40" r="2.05"/><rect x="584.45" y="71.95" width="3.90" height="3.90"/><rect x="585.75" y="79.45" width="3.90" height="3.90"/><circle cx="589.60" cy="88.30" r="2.05"/><rect x="589.45" y="94.55" width="3.90" height="3.90"/><rect x="588.45" y="89.85" width="3.90" height="3.90"/><circle cx="592.20" cy="97.20" r="2.05"/><rect x="592.05" y="100.55" width="3.90" height="3.90"/><rect x="593.75" y="105.95" width="3.90" height="3.90"/><circle cx="597.50" cy="113.30" r="2.05"/><rect x="597.35" y="116.75" width="3.90" height="3.90"/><rect x="599.55" y="122.95" width="3.90" height="3.90"/><circle cx="602.90" cy="128.50" r="2.05"/><rect x="602.75" y="130.15" width="3.90" height="3.90"/><rect x="604.55" y="142.65" width="3.90" height="3.90"/><circle cx="608.30" cy="148.20" r="2.05"/><rect x="608.15" y="149.85" width="3.90" height="3.90"/><rect x="609.55" y="158.85" width="3.90" height="3.90"/><circle cx="613.70" cy="165.20" r="2.05"/><rect x="614.35" y="165.05" width="3.90" height="3.90"/><rect x="616.15" y="167.75" width="3.90" height="3.90"/><circle cx="619.90" cy="177.80" r="2.05"/><rect x="619.75" y="179.35" width="3.90" height="3.90"/><rect x="621.55" y="182.95" width="3.90" height="3.90"/><circle cx="627.10" cy="186.70" r="2.05"/><rect x="618.05" y="175.55" width="3.90" height="3.90"/><rect x="619.35" y="178.05" width="3.90" height="3.90"/><circle cx="623.20" cy="185.70" r="2.05"/><rect x="623.75" y="184.35" width="3.90" height="3.90"/><rect x="626.25" y="184.95" width="3.90" height="3.90"/><circle cx="626.30" cy="191.30" r="2.05"/><rect x="627.45" y="194.35" width="3.90" height="3.90"/><rect x="630.65" y="197.55" width="3.90" height="3.90"/><circle cx="632.00" cy="202.00" r="2.05"/><rect x="632.55" y="205.65" width="3.90" height="3.90"/><rect x="635.65" y="203.85" width="3.90" height="3.90"/><circle cx="637.00" cy="212.00" r="2.05"/><rect x="637.55" y="209.45" width="3.90" height="3.90"/><rect x="640.05" y="210.75" width="3.90" height="3.90"/><circle cx="645.10" cy="213.30" r="2.05"/><rect x="639.45" y="215.05" width="3.90" height="3.90"/><rect x="644.45" y="215.75" width="3.90" height="3.90"/><circle cx="648.30" cy="222.70" r="2.05"/><rect x="648.85" y="223.25" width="3.90" height="3.90"/><rect x="650.75" y="226.35" width="3.90" height="3.90"/><circle cx="655.20" cy="236.50" r="2.05"/><rect x="655.75" y="230.75" width="3.90" height="3.90"/><rect x="658.25" y="233.95" width="3.90" height="3.90"/><circle cx="662.10" cy="240.30" r="2.05"/><rect x="662.65" y="234.55" width="3.90" height="3.90"/><rect x="665.75" y="237.65" width="3.90" height="3.90"/><circle cx="670.20" cy="237.80" r="2.05"/><rect x="670.75" y="234.55" width="3.90" height="3.90"/><rect x="672.05" y="238.35" width="3.90" height="3.90"/><circle cx="676.50" cy="234.00" r="2.05"/><rect x="675.85" y="228.25" width="3.90" height="3.90"/><rect x="678.35" y="230.75" width="3.90" height="3.90"/><circle cx="682.20" cy="237.80" r="2.05"/><rect x="682.05" y="228.25" width="3.90" height="3.90"/><rect x="683.95" y="232.05" width="3.90" height="3.90"/><circle cx="687.80" cy="231.50" r="2.05"/><rect x="688.35" y="228.25" width="3.90" height="3.90"/><rect x="690.25" y="226.35" width="3.90" height="3.90"/><circle cx="682.80" cy="229.60" r="2.05"/><rect x="672.05" y="228.25" width="3.90" height="3.90"/><rect x="667.05" y="228.25" width="3.90" height="3.90"/></g><text x="554.30" y="100.80" class="an" textLength="32.30" lengthAdjust="spacingAndGlyphs">FeOOH</text><line x1="568.30" y1="105.40" x2="579.60" y2="110.20" stroke="#000" stroke-width="0.9"/><polygon points="579.60,110.20 573.06,109.49 574.54,105.99" fill="#000"/><text x="581.30" y="172.80" class="an">Fe</text><text x="591.80" y="177.90" class="sb">2</text><text x="595.00" y="172.80" class="an">O</text><text x="602.20" y="177.90" class="sb">3</text><line x1="588.70" y1="176.10" x2="582.20" y2="185.20" stroke="#000" stroke-width="0.9"/><polygon points="582.20,185.20 584.32,178.97 587.41,181.18" fill="#000"/></g>
<g id="pc"><line x1="56.90" y1="296.00" x2="56.90" y2="514.60" stroke="#000" stroke-width="1.15"/>
<line x1="350.90" y1="296.00" x2="350.90" y2="514.60" stroke="#000" stroke-width="1.15"/>
<line x1="56.30" y1="296.00" x2="351.50" y2="296.00" stroke="#000" stroke-width="2"/>
<line x1="56.30" y1="514.60" x2="351.50" y2="514.60" stroke="#000" stroke-width="2"/>
<line x1="56.90" y1="507.06" x2="61.10" y2="507.06" stroke="#000" stroke-width="1.7"/>
<line x1="349.70" y1="507.06" x2="351.50" y2="507.06" stroke="#000" stroke-width="1.4"/>
<text x="51.30" y="509.96" class="tl" text-anchor="end">0</text>
<line x1="56.90" y1="491.99" x2="59.10" y2="491.99" stroke="#000" stroke-width="1.5"/>
<line x1="349.70" y1="491.99" x2="351.50" y2="491.99" stroke="#000" stroke-width="1.4"/>
<line x1="56.90" y1="476.91" x2="61.10" y2="476.91" stroke="#000" stroke-width="1.7"/>
<line x1="349.70" y1="476.91" x2="351.50" y2="476.91" stroke="#000" stroke-width="1.4"/>
<text x="51.30" y="479.81" class="tl" text-anchor="end">2000</text>
<line x1="56.90" y1="461.83" x2="59.10" y2="461.83" stroke="#000" stroke-width="1.5"/>
<line x1="349.70" y1="461.83" x2="351.50" y2="461.83" stroke="#000" stroke-width="1.4"/>
<line x1="56.90" y1="446.76" x2="61.10" y2="446.76" stroke="#000" stroke-width="1.7"/>
<line x1="349.70" y1="446.76" x2="351.50" y2="446.76" stroke="#000" stroke-width="1.4"/>
<text x="51.30" y="449.66" class="tl" text-anchor="end">4000</text>
<line x1="56.90" y1="431.68" x2="59.10" y2="431.68" stroke="#000" stroke-width="1.5"/>
<line x1="349.70" y1="431.68" x2="351.50" y2="431.68" stroke="#000" stroke-width="1.4"/>
<line x1="56.90" y1="416.61" x2="61.10" y2="416.61" stroke="#000" stroke-width="1.7"/>
<line x1="349.70" y1="416.61" x2="351.50" y2="416.61" stroke="#000" stroke-width="1.4"/>
<text x="51.30" y="419.51" class="tl" text-anchor="end">6000</text>
<line x1="56.90" y1="401.53" x2="59.10" y2="401.53" stroke="#000" stroke-width="1.5"/>
<line x1="349.70" y1="401.53" x2="351.50" y2="401.53" stroke="#000" stroke-width="1.4"/>
<line x1="56.90" y1="386.46" x2="61.10" y2="386.46" stroke="#000" stroke-width="1.7"/>
<line x1="349.70" y1="386.46" x2="351.50" y2="386.46" stroke="#000" stroke-width="1.4"/>
<text x="51.30" y="389.36" class="tl" text-anchor="end">8000</text>
<line x1="56.90" y1="371.38" x2="59.10" y2="371.38" stroke="#000" stroke-width="1.5"/>
<line x1="349.70" y1="371.38" x2="351.50" y2="371.38" stroke="#000" stroke-width="1.4"/>
<line x1="56.90" y1="356.30" x2="61.10" y2="356.30" stroke="#000" stroke-width="1.7"/>
<line x1="349.70" y1="356.30" x2="351.50" y2="356.30" stroke="#000" stroke-width="1.4"/>
<text x="51.30" y="359.20" class="tl" text-anchor="end">10000</text>
<line x1="56.90" y1="341.23" x2="59.10" y2="341.23" stroke="#000" stroke-width="1.5"/>
<line x1="349.70" y1="341.23" x2="351.50" y2="341.23" stroke="#000" stroke-width="1.4"/>
<line x1="56.90" y1="326.15" x2="61.10" y2="326.15" stroke="#000" stroke-width="1.7"/>
<line x1="349.70" y1="326.15" x2="351.50" y2="326.15" stroke="#000" stroke-width="1.4"/>
<text x="51.30" y="329.05" class="tl" text-anchor="end">12000</text>
<line x1="56.90" y1="311.08" x2="59.10" y2="311.08" stroke="#000" stroke-width="1.5"/>
<line x1="349.70" y1="311.08" x2="351.50" y2="311.08" stroke="#000" stroke-width="1.4"/>
<text x="51.30" y="298.90" class="tl" text-anchor="end">14000</text>
<line x1="89.12" y1="514.60" x2="89.12" y2="518.60" stroke="#000" stroke-width="1.1"/>
<text x="89.12" y="527.90" class="tl" text-anchor="middle">704</text>
<line x1="121.74" y1="514.60" x2="121.74" y2="516.80" stroke="#000" stroke-width="1.1"/>
<line x1="154.36" y1="514.60" x2="154.36" y2="518.60" stroke="#000" stroke-width="1.1"/>
<text x="154.36" y="527.90" class="tl" text-anchor="middle">708</text>
<line x1="186.98" y1="514.60" x2="186.98" y2="516.80" stroke="#000" stroke-width="1.1"/>
<line x1="219.60" y1="514.60" x2="219.60" y2="518.60" stroke="#000" stroke-width="1.1"/>
<text x="219.60" y="527.90" class="tl" text-anchor="middle">712</text>
<line x1="252.22" y1="514.60" x2="252.22" y2="516.80" stroke="#000" stroke-width="1.1"/>
<line x1="284.84" y1="514.60" x2="284.84" y2="518.60" stroke="#000" stroke-width="1.1"/>
<text x="284.84" y="527.90" class="tl" text-anchor="middle">716</text>
<line x1="317.46" y1="514.60" x2="317.46" y2="516.80" stroke="#000" stroke-width="1.1"/>
<text x="350.08" y="527.90" class="tl" text-anchor="middle">720</text>
<text x="162.40" y="544.10" class="tt" textLength="83" lengthAdjust="spacingAndGlyphs">Binding energy (eV)</text>
<text x="-29" y="0" class="tt" textLength="58" lengthAdjust="spacingAndGlyphs" style="font-size:10.5px" transform="translate(22.90,405.70) rotate(-90)">Intensity(cps)</text>
<text x="62.70" y="315.20" class="pl">(c)</text><polyline points="89.58,504.39 89.96,504.38 90.34,504.37 90.72,504.36 91.11,504.35 91.49,504.34 91.87,504.33 92.25,504.32 92.63,504.31 93.01,504.30 93.40,504.29 93.78,504.28 94.16,504.27 94.54,504.25 94.92,504.24 95.31,504.23 95.69,504.22 96.07,504.21 96.45,504.20 96.83,504.18 97.22,504.17 97.60,504.16 97.98,504.15 98.36,504.14 98.74,504.12 99.12,504.11 99.51,504.10 99.89,504.08 100.27,504.07 100.65,504.06 101.03,504.04 101.42,504.03 101.80,504.01 102.18,504.00 102.56,503.99 102.94,503.97 103.33,503.96 103.71,503.94 104.09,503.93 104.47,503.91 104.85,503.89 105.23,503.88 105.62,503.86 106.00,503.85 106.38,503.83 106.76,503.81 107.14,503.80 107.53,503.78 107.91,503.76 108.29,503.74 108.67,503.73 109.05,503.71 109.44,503.69 109.82,503.67 110.20,503.65 110.58,503.63 110.96,503.61 111.34,503.59 111.73,503.57 112.11,503.55 112.49,503.53 112.87,503.51 113.25,503.49 113.64,503.47 114.02,503.44 114.40,503.42 114.78,503.40 115.16,503.38 115.55,503.35 115.93,503.33 116.31,503.30 116.69,503.28 117.07,503.25 117.45,503.23 117.84,503.20 118.22,503.18 118.60,503.15 118.98,503.12 119.36,503.10 119.75,503.07 120.13,503.04 120.51,503.01 120.89,502.98 121.27,502.95 121.66,502.92 122.04,502.89 122.42,502.86 122.80,502.83 123.18,502.79 123.56,502.76 123.95,502.73 124.33,502.69 124.71,502.66 125.09,502.62 125.47,502.59 125.86,502.55 126.24,502.51 126.62,502.48 127.00,502.44 127.38,502.40 127.77,502.36 128.15,502.32 128.53,502.28 128.91,502.23 129.29,502.19 129.67,502.15 130.06,502.10 130.44,502.05 130.82,502.01 131.20,501.96 131.58,501.91 131.97,501.86 132.35,501.81 132.73,501.76 133.11,501.71 133.49,501.65 133.88,501.60 134.26,501.54 134.64,501.48 135.02,501.42 135.40,501.36 135.78,501.30 136.17,501.24 136.55,501.17 136.93,501.11 137.31,501.04 137.69,500.97 138.08,500.90 138.46,500.82 138.84,500.75 139.22,500.67 139.60,500.59 139.99,500.51 140.37,500.42 140.75,500.33 141.13,500.24 141.51,500.15 141.89,500.06 142.28,499.96 142.66,499.86 143.04,499.75 143.42,499.64 143.80,499.53 144.19,499.41 144.57,499.29 144.95,499.17 145.33,499.04 145.71,498.91 146.10,498.77 146.48,498.62 146.86,498.47 147.24,498.32 147.62,498.16 148.00,497.99 148.39,497.81 148.77,497.63 149.15,497.44 149.53,497.24 149.91,497.04 150.30,496.82 150.68,496.60 151.06,496.37 151.44,496.12 151.82,495.87 152.21,495.60 152.59,495.33 152.97,495.04 153.35,494.73 153.73,494.42 154.12,494.09 154.50,493.75 154.88,493.39 155.26,493.02 155.64,492.63 156.02,492.22 156.41,491.80 156.79,491.36 157.17,490.90 157.55,490.42 157.93,489.92 158.32,489.40 158.70,488.86 159.08,488.29 159.46,487.71 159.84,487.10 160.23,486.46 160.61,485.81 160.99,485.12 161.37,484.42 161.75,483.68 162.13,482.92 162.52,482.13 162.90,481.32 163.28,480.47 163.66,479.60 164.04,478.70 164.43,477.77 164.81,476.81 165.19,475.82 165.57,474.80 165.95,473.75 166.34,472.67 166.72,471.56 167.10,470.42 167.48,469.25 167.86,468.05 168.24,466.82 168.63,465.56 169.01,464.27 169.39,462.96 169.77,461.61 170.15,460.24 170.54,458.85 170.92,457.43 171.30,455.99 171.68,454.52 172.06,453.03 172.45,451.53 172.83,450.00 173.21,448.46 173.59,446.91 173.97,445.35 174.35,443.77 174.74,442.19 175.12,440.60 175.50,439.02 175.88,437.43 176.26,435.85 176.65,434.28 177.03,432.72 177.41,431.18 177.79,429.66 178.17,428.16 178.56,426.69 178.94,425.26 179.32,423.87 179.70,422.52 180.08,421.22 180.46,419.98 180.85,418.80 181.23,417.68 181.61,416.63 181.99,415.66 182.37,414.77 182.76,413.96 183.14,413.24 183.52,412.62 183.90,412.09 184.28,411.66 184.67,411.33 185.05,411.11 185.43,410.99 185.81,410.97 186.19,411.08 186.57,411.29 186.96,411.62 187.34,412.07 187.72,412.62 188.10,413.28 188.48,414.04 188.87,414.89 189.25,415.84 189.63,416.88 190.01,417.99 190.39,419.18 190.78,420.44 191.16,421.77 191.54,423.15 191.92,424.58 192.30,426.06 192.68,427.58 193.07,429.13 193.45,430.71 193.83,432.31 194.21,433.93 194.59,435.57 194.98,437.22 195.36,438.87 195.74,440.52 196.12,442.17 196.50,443.82 196.89,445.46 197.27,447.08 197.65,448.70 198.03,450.29 198.41,451.87 198.79,453.43 199.18,454.97 199.56,456.48 199.94,457.97 200.32,459.42 200.70,460.86 201.09,462.26 201.47,463.63 201.85,464.97 202.23,466.28 202.61,467.56 203.00,468.81 203.38,470.02 203.76,471.21 204.14,472.35 204.52,473.47 204.90,474.55 205.29,475.60 205.67,476.61 206.05,477.60 206.43,478.55 206.81,479.47 207.20,480.36 207.58,481.21 207.96,482.04 208.34,482.84 208.72,483.60 209.11,484.34 209.49,485.05 209.87,485.73 210.25,486.39 210.63,487.02 211.01,487.62 211.40,488.20 211.78,488.75 212.16,489.28 212.54,489.79 212.92,490.28 213.31,490.75 213.69,491.19 214.07,491.62 214.45,492.03 214.83,492.42 215.22,492.79 215.60,493.15 215.98,493.49 216.36,493.82 216.74,494.13 217.12,494.42 217.51,494.71 217.89,494.98 218.27,495.24 218.65,495.48 219.03,495.72 219.42,495.95 219.80,496.16 220.18,496.37 220.56,496.57 220.94,496.76 221.33,496.94 221.71,497.11 222.09,497.28 222.47,497.44 222.85,497.59 223.23,497.74 223.62,497.88 224.00,498.01 224.38,498.14 224.76,498.27 225.14,498.39 225.53,498.50 225.91,498.61 226.29,498.72 226.67,498.83 227.05,498.93 227.44,499.02 227.82,499.12 228.20,499.21 228.58,499.30 228.96,499.38 229.34,499.46 229.73,499.54 230.11,499.62 230.49,499.70 230.87,499.77 231.25,499.84 231.64,499.91 232.02,499.98 232.40,500.04 232.78,500.11 233.16,500.17 233.55,500.23 233.93,500.29 234.31,500.35 234.69,500.40 235.07,500.46 235.45,500.51 235.84,500.57 236.22,500.62 236.60,500.67 236.98,500.72 237.36,500.77 237.75,500.81 238.13,500.86 238.51,500.90 238.89,500.95 239.27,500.99 239.66,501.03 240.04,501.08 240.42,501.12 240.80,501.16 241.18,501.20 241.56,501.23 241.95,501.27 242.33,501.31 242.71,501.35 243.09,501.38 243.47,501.42 243.86,501.45 244.24,501.49 244.62,501.52 245.00,501.55 245.38,501.58 245.77,501.62 246.15,501.65 246.53,501.68 246.91,501.71 247.29,501.74 247.67,501.77 248.06,501.80 248.44,501.82 248.82,501.85 249.20,501.88 249.58,501.90 249.97,501.93 250.35,501.96 250.73,501.98 251.11,502.01 251.49,502.03 251.88,502.06 252.26,502.08 252.64,502.10 253.02,502.13 253.40,502.15 253.78,502.17 254.17,502.20 254.55,502.22 254.93,502.24 255.31,502.26 255.69,502.28 256.08,502.30 256.46,502.32 256.84,502.34 257.22,502.36 257.60,502.38 257.99,502.40 258.37,502.42 258.75,502.44 259.13,502.46 259.51,502.47 259.90,502.49 260.28,502.51 260.66,502.53 261.04,502.54 261.42,502.56 261.80,502.58 262.19,502.59 262.57,502.61 262.95,502.63 263.33,502.64 263.71,502.66 264.10,502.67 264.48,502.69 264.86,502.70 265.24,502.72 265.62,502.73 266.01,502.75 266.39,502.76 266.77,502.77 267.15,502.79 267.53,502.80 267.91,502.81 268.30,502.83 268.68,502.84 269.06,502.85 269.44,502.87 269.82,502.88 270.21,502.89 270.59,502.90 270.97,502.92 271.35,502.93 271.73,502.94 272.12,502.95 272.50,502.96 272.88,502.97 273.26,502.99 273.64,503.00 274.02,503.01 274.41,503.02 274.79,503.03 275.17,503.04 275.55,503.05 275.93,503.06 276.32,503.07 276.70,503.08 277.08,503.09 277.46,503.10 277.84,503.11 278.23,503.12 278.61,503.13 278.99,503.14 279.37,503.15 279.75,503.16 280.13,503.17 280.52,503.17 280.90,503.18 281.28,503.19 281.66,503.20 282.04,503.21 282.43,503.22 282.81,503.23 283.19,503.23 283.57,503.24 283.95,503.25 284.34,503.26 284.72,503.27 285.10,503.27 285.48,503.28 285.86,503.29 286.24,503.30 286.63,503.30 287.01,503.31 287.39,503.32 287.77,503.33 288.15,503.33 288.54,503.34 288.92,503.35 289.30,503.35 289.68,503.36 290.06,503.37 290.45,503.37 290.83,503.38 291.21,503.39 291.59,503.39 291.97,503.40 292.35,503.41 292.74,503.41 293.12,503.42 293.50,503.43 293.88,503.43 294.26,503.44 294.65,503.44 295.03,503.45 295.41,503.45 295.79,503.46 296.17,503.47 296.56,503.47 296.94,503.48 297.32,503.48 297.70,503.49 298.08,503.49 298.46,503.50 298.85,503.50 299.23,503.51 299.61,503.52 299.99,503.52 300.37,503.53 300.76,503.53 301.14,503.54 301.52,503.54 301.90,503.55 302.28,503.55 302.67,503.56 303.05,503.56 303.43,503.56 303.81,503.57 304.19,503.57 304.57,503.58 304.96,503.58 305.34,503.59 305.72,503.59 306.10,503.60 306.48,503.60 306.87,503.61 307.25,503.61 307.63,503.61 308.01,503.62 308.39,503.62 308.78,503.63 309.16,503.63 309.54,503.63 309.92,503.64 310.30,503.64 310.68,503.65 311.07,503.65 311.45,503.65 311.83,503.66 312.21,503.66 312.59,503.67 312.98,503.67 313.36,503.67 313.74,503.68 314.12,503.68 314.50,503.68 314.89,503.69 315.27,503.69 315.65,503.70 316.03,503.70 316.41,503.70 316.79,503.71 317.18,503.71 317.56,503.71 317.94,503.72 318.32,503.72" fill="none" stroke="#000" stroke-width="1.2" stroke-linejoin="round"/>
<polyline points="89.58,505.22 89.96,505.22 90.34,505.22 90.72,505.21 91.11,505.21 91.49,505.21 91.87,505.21 92.25,505.20 92.63,505.20 93.01,505.20 93.40,505.19 93.78,505.19 94.16,505.19 94.54,505.19 94.92,505.18 95.31,505.18 95.69,505.18 96.07,505.18 96.45,505.17 96.83,505.17 97.22,505.17 97.60,505.16 97.98,505.16 98.36,505.16 98.74,505.16 99.12,505.15 99.51,505.15 99.89,505.15 100.27,505.14 100.65,505.14 101.03,505.14 101.42,505.13 101.80,505.13 102.18,505.13 102.56,505.12 102.94,505.12 103.33,505.12 103.71,505.11 104.09,505.11 104.47,505.11 104.85,505.10 105.23,505.10 105.62,505.10 106.00,505.09 106.38,505.09 106.76,505.08 107.14,505.08 107.53,505.08 107.91,505.07 108.29,505.07 108.67,505.07 109.05,505.06 109.44,505.06 109.82,505.05 110.20,505.05 110.58,505.05 110.96,505.04 111.34,505.04 111.73,505.03 112.11,505.03 112.49,505.02 112.87,505.02 113.25,505.02 113.64,505.01 114.02,505.01 114.40,505.00 114.78,505.00 115.16,504.99 115.55,504.99 115.93,504.98 116.31,504.98 116.69,504.97 117.07,504.97 117.45,504.96 117.84,504.96 118.22,504.95 118.60,504.95 118.98,504.94 119.36,504.93 119.75,504.93 120.13,504.92 120.51,504.92 120.89,504.91 121.27,504.91 121.66,504.90 122.04,504.89 122.42,504.89 122.80,504.88 123.18,504.87 123.56,504.87 123.95,504.86 124.33,504.85 124.71,504.84 125.09,504.84 125.47,504.83 125.86,504.82 126.24,504.81 126.62,504.81 127.00,504.80 127.38,504.79 127.77,504.78 128.15,504.77 128.53,504.76 128.91,504.75 129.29,504.74 129.67,504.73 130.06,504.72 130.44,504.71 130.82,504.70 131.20,504.69 131.58,504.68 131.97,504.67 132.35,504.65 132.73,504.64 133.11,504.63 133.49,504.61 133.88,504.60 134.26,504.58 134.64,504.57 135.02,504.55 135.40,504.54 135.78,504.52 136.17,504.50 136.55,504.48 136.93,504.47 137.31,504.45 137.69,504.42 138.08,504.40 138.46,504.38 138.84,504.36 139.22,504.33 139.60,504.31 139.99,504.28 140.37,504.26 140.75,504.23 141.13,504.20 141.51,504.17 141.89,504.14 142.28,504.10 142.66,504.07 143.04,504.03 143.42,503.99 143.80,503.95 144.19,503.91 144.57,503.87 144.95,503.83 145.33,503.78 145.71,503.73 146.10,503.68 146.48,503.63 146.86,503.57 147.24,503.51 147.62,503.45 148.00,503.39 148.39,503.32 148.77,503.26 149.15,503.19 149.53,503.11 149.91,503.03 150.30,502.95 150.68,502.87 151.06,502.78 151.44,502.69 151.82,502.59 152.21,502.49 152.59,502.39 152.97,502.28 153.35,502.17 153.73,502.05 154.12,501.93 154.50,501.80 154.88,501.67 155.26,501.53 155.64,501.39 156.02,501.24 156.41,501.08 156.79,500.92 157.17,500.75 157.55,500.58 157.93,500.40 158.32,500.21 158.70,500.01 159.08,499.81 159.46,499.60 159.84,499.38 160.23,499.16 160.61,498.92 160.99,498.68 161.37,498.43 161.75,498.17 162.13,497.90 162.52,497.62 162.90,497.33 163.28,497.03 163.66,496.72 164.04,496.40 164.43,496.07 164.81,495.73 165.19,495.38 165.57,495.01 165.95,494.64 166.34,494.25 166.72,493.85 167.10,493.44 167.48,493.01 167.86,492.57 168.24,492.12 168.63,491.66 169.01,491.18 169.39,490.69 169.77,490.18 170.15,489.66 170.54,489.12 170.92,488.57 171.30,488.01 171.68,487.43 172.06,486.83 172.45,486.22 172.83,485.60 173.21,484.95 173.59,484.30 173.97,483.62 174.35,482.93 174.74,482.23 175.12,481.50 175.50,480.77 175.88,480.01 176.26,479.24 176.65,478.45 177.03,477.64 177.41,476.82 177.79,475.98 178.17,475.13 178.56,474.25 178.94,473.37 179.32,472.46 179.70,471.54 180.08,470.60 180.46,469.65 180.85,468.68 181.23,467.69 181.61,466.69 181.99,465.67 182.37,464.64 182.76,463.59 183.14,462.53 183.52,461.45 183.90,460.36 184.28,459.25 184.67,458.13 185.05,457.00 185.43,455.86 185.81,454.70 186.19,453.53 186.57,452.35 186.96,451.16 187.34,449.95 187.72,448.74 188.10,447.52 188.48,446.29 188.87,445.05 189.25,443.80 189.63,442.55 190.01,441.29 190.39,440.02 190.78,438.75 191.16,437.47 191.54,436.19 191.92,434.91 192.30,433.63 192.68,432.34 193.07,431.06 193.45,429.77 193.83,428.49 194.21,427.20 194.59,425.92 194.98,424.65 195.36,423.37 195.74,422.11 196.12,420.85 196.50,419.59 196.89,418.35 197.27,417.11 197.65,415.89 198.03,414.67 198.41,413.47 198.79,412.28 199.18,411.11 199.56,409.95 199.94,408.80 200.32,407.67 200.70,406.56 201.09,405.47 201.47,404.40 201.85,403.35 202.23,402.32 202.61,401.31 203.00,400.33 203.38,399.37 203.76,398.44 204.14,397.53 204.52,396.65 204.90,395.80 205.29,394.98 205.67,394.19 206.05,393.43 206.43,392.70 206.81,392.00 207.20,391.33 207.58,390.70 207.96,390.11 208.34,389.54 208.72,389.02 209.11,388.53 209.49,388.07 209.87,387.66 210.25,387.28 210.63,386.94 211.01,386.64 211.40,386.37 211.78,386.15 212.16,385.97 212.54,385.82 212.92,385.72 213.31,385.65 213.69,385.63 214.07,385.64 214.45,385.71 214.83,385.82 215.22,385.98 215.60,386.18 215.98,386.42 216.36,386.72 216.74,387.05 217.12,387.43 217.51,387.86 217.89,388.32 218.27,388.83 218.65,389.38 219.03,389.98 219.42,390.61 219.80,391.28 220.18,391.99 220.56,392.74 220.94,393.52 221.33,394.34 221.71,395.20 222.09,396.09 222.47,397.01 222.85,397.96 223.23,398.94 223.62,399.96 224.00,401.00 224.38,402.07 224.76,403.16 225.14,404.28 225.53,405.42 225.91,406.59 226.29,407.78 226.67,408.98 227.05,410.21 227.44,411.45 227.82,412.71 228.20,413.98 228.58,415.27 228.96,416.57 229.34,417.89 229.73,419.21 230.11,420.54 230.49,421.88 230.87,423.23 231.25,424.59 231.64,425.95 232.02,427.31 232.40,428.67 232.78,430.04 233.16,431.41 233.55,432.78 233.93,434.14 234.31,435.50 234.69,436.86 235.07,438.22 235.45,439.57 235.84,440.92 236.22,442.25 236.60,443.58 236.98,444.91 237.36,446.22 237.75,447.52 238.13,448.81 238.51,450.10 238.89,451.37 239.27,452.62 239.66,453.87 240.04,455.10 240.42,456.31 240.80,457.51 241.18,458.70 241.56,459.87 241.95,461.02 242.33,462.16 242.71,463.28 243.09,464.39 243.47,465.47 243.86,466.54 244.24,467.59 244.62,468.63 245.00,469.64 245.38,470.64 245.77,471.62 246.15,472.57 246.53,473.51 246.91,474.44 247.29,475.34 247.67,476.22 248.06,477.09 248.44,477.93 248.82,478.76 249.20,479.56 249.58,480.35 249.97,481.12 250.35,481.87 250.73,482.61 251.11,483.32 251.49,484.01 251.88,484.69 252.26,485.35 252.64,485.99 253.02,486.62 253.40,487.23 253.78,487.82 254.17,488.39 254.55,488.95 254.93,489.49 255.31,490.01 255.69,490.52 256.08,491.01 256.46,491.49 256.84,491.95 257.22,492.40 257.60,492.84 257.99,493.26 258.37,493.66 258.75,494.05 259.13,494.43 259.51,494.80 259.90,495.15 260.28,495.50 260.66,495.83 261.04,496.14 261.42,496.45 261.80,496.74 262.19,497.03 262.57,497.30 262.95,497.57 263.33,497.82 263.71,498.07 264.10,498.30 264.48,498.53 264.86,498.74 265.24,498.95 265.62,499.15 266.01,499.35 266.39,499.53 266.77,499.71 267.15,499.88 267.53,500.04 267.91,500.20 268.30,500.35 268.68,500.49 269.06,500.63 269.44,500.76 269.82,500.89 270.21,501.01 270.59,501.12 270.97,501.23 271.35,501.34 271.73,501.44 272.12,501.54 272.50,501.63 272.88,501.72 273.26,501.80 273.64,501.89 274.02,501.96 274.41,502.04 274.79,502.11 275.17,502.17 275.55,502.24 275.93,502.30 276.32,502.36 276.70,502.42 277.08,502.47 277.46,502.52 277.84,502.57 278.23,502.62 278.61,502.66 278.99,502.70 279.37,502.74 279.75,502.78 280.13,502.82 280.52,502.86 280.90,502.89 281.28,502.92 281.66,502.95 282.04,502.98 282.43,503.01 282.81,503.04 283.19,503.06 283.57,503.09 283.95,503.11 284.34,503.14 284.72,503.16 285.10,503.18 285.48,503.20 285.86,503.22 286.24,503.24 286.63,503.25 287.01,503.27 287.39,503.29 287.77,503.30 288.15,503.32 288.54,503.33 288.92,503.35 289.30,503.36 289.68,503.38 290.06,503.39 290.45,503.40 290.83,503.41 291.21,503.42 291.59,503.43 291.97,503.45 292.35,503.46 292.74,503.47 293.12,503.48 293.50,503.49 293.88,503.50 294.26,503.50 294.65,503.51 295.03,503.52 295.41,503.53 295.79,503.54 296.17,503.55 296.56,503.55 296.94,503.56 297.32,503.57 297.70,503.58 298.08,503.58 298.46,503.59 298.85,503.60 299.23,503.60 299.61,503.61 299.99,503.62 300.37,503.62 300.76,503.63 301.14,503.63 301.52,503.64 301.90,503.65 302.28,503.65 302.67,503.66 303.05,503.66 303.43,503.67 303.81,503.67 304.19,503.68 304.57,503.68 304.96,503.69 305.34,503.69 305.72,503.70 306.10,503.70 306.48,503.71 306.87,503.71 307.25,503.72 307.63,503.72 308.01,503.73 308.39,503.73 308.78,503.74 309.16,503.74 309.54,503.74 309.92,503.75 310.30,503.75 310.68,503.76 311.07,503.76 311.45,503.77 311.83,503.77 312.21,503.77 312.59,503.78 312.98,503.78 313.36,503.78 313.74,503.79 314.12,503.79 314.50,503.80 314.89,503.80 315.27,503.80 315.65,503.81 316.03,503.81 316.41,503.81 316.79,503.82 317.18,503.82 317.56,503.82 317.94,503.83 318.32,503.83" fill="none" stroke="#000" stroke-width="1.2" stroke-linejoin="round"/>
<polyline points="89.58,503.46 89.96,503.45 90.34,503.44 90.72,503.43 91.11,503.41 91.49,503.40 91.87,503.39 92.25,503.38 92.63,503.36 93.01,503.35 93.40,503.34 93.78,503.32 94.16,503.31 94.54,503.30 94.92,503.28 95.31,503.27 95.69,503.25 96.07,503.24 96.45,503.22 96.83,503.21 97.22,503.19 97.60,503.18 97.98,503.16 98.36,503.15 98.74,503.13 99.12,503.12 99.51,503.10 99.89,503.08 100.27,503.07 100.65,503.05 101.03,503.03 101.42,503.02 101.80,503.00 102.18,502.98 102.56,502.97 102.94,502.95 103.33,502.93 103.71,502.91 104.09,502.89 104.47,502.87 104.85,502.85 105.23,502.83 105.62,502.81 106.00,502.79 106.38,502.77 106.76,502.75 107.14,502.73 107.53,502.71 107.91,502.69 108.29,502.67 108.67,502.65 109.05,502.63 109.44,502.60 109.82,502.58 110.20,502.56 110.58,502.53 110.96,502.51 111.34,502.49 111.73,502.46 112.11,502.44 112.49,502.41 112.87,502.39 113.25,502.36 113.64,502.33 114.02,502.31 114.40,502.28 114.78,502.25 115.16,502.23 115.55,502.20 115.93,502.17 116.31,502.14 116.69,502.11 117.07,502.08 117.45,502.05 117.84,502.02 118.22,501.99 118.60,501.95 118.98,501.92 119.36,501.89 119.75,501.86 120.13,501.82 120.51,501.79 120.89,501.75 121.27,501.72 121.66,501.68 122.04,501.64 122.42,501.60 122.80,501.57 123.18,501.53 123.56,501.49 123.95,501.45 124.33,501.41 124.71,501.36 125.09,501.32 125.47,501.28 125.86,501.23 126.24,501.19 126.62,501.14 127.00,501.10 127.38,501.05 127.77,501.00 128.15,500.95 128.53,500.90 128.91,500.85 129.29,500.79 129.67,500.74 130.06,500.68 130.44,500.63 130.82,500.57 131.20,500.51 131.58,500.45 131.97,500.39 132.35,500.33 132.73,500.26 133.11,500.19 133.49,500.13 133.88,500.06 134.26,499.99 134.64,499.91 135.02,499.84 135.40,499.76 135.78,499.68 136.17,499.60 136.55,499.52 136.93,499.43 137.31,499.35 137.69,499.26 138.08,499.16 138.46,499.07 138.84,498.97 139.22,498.87 139.60,498.76 139.99,498.65 140.37,498.54 140.75,498.43 141.13,498.31 141.51,498.18 141.89,498.06 142.28,497.93 142.66,497.79 143.04,497.65 143.42,497.50 143.80,497.35 144.19,497.19 144.57,497.03 144.95,496.86 145.33,496.69 145.71,496.50 146.10,496.31 146.48,496.12 146.86,495.91 147.24,495.70 147.62,495.48 148.00,495.25 148.39,495.01 148.77,494.76 149.15,494.50 149.53,494.22 149.91,493.94 150.30,493.64 150.68,493.34 151.06,493.01 151.44,492.68 151.82,492.33 152.21,491.96 152.59,491.58 152.97,491.19 153.35,490.77 153.73,490.34 154.12,489.89 154.50,489.42 154.88,488.93 155.26,488.42 155.64,487.89 156.02,487.33 156.41,486.76 156.79,486.15 157.17,485.53 157.55,484.87 157.93,484.19 158.32,483.49 158.70,482.75 159.08,481.98 159.46,481.19 159.84,480.36 160.23,479.50 160.61,478.61 160.99,477.69 161.37,476.73 161.75,475.73 162.13,474.70 162.52,473.64 162.90,472.53 163.28,471.39 163.66,470.21 164.04,468.99 164.43,467.73 164.81,466.43 165.19,465.08 165.57,463.70 165.95,462.28 166.34,460.81 166.72,459.30 167.10,457.75 167.48,456.15 167.86,454.52 168.24,452.84 168.63,451.11 169.01,449.35 169.39,447.54 169.77,445.70 170.15,443.81 170.54,441.88 170.92,439.91 171.30,437.91 171.68,435.86 172.06,433.78 172.45,431.67 172.83,429.52 173.21,427.34 173.59,425.13 173.97,422.89 174.35,420.63 174.74,418.34 175.12,416.04 175.50,413.71 175.88,411.37 176.26,409.02 176.65,406.66 177.03,404.30 177.41,401.94 177.79,399.58 178.17,397.23 178.56,394.90 178.94,392.58 179.32,390.28 179.70,388.02 180.08,385.78 180.46,383.59 180.85,381.44 181.23,379.34 181.61,377.29 181.99,375.31 182.37,373.38 182.76,371.53 183.14,369.75 183.52,368.06 183.90,366.44 184.28,364.91 184.67,363.46 185.05,362.11 185.43,360.85 185.81,359.68 186.19,358.62 186.57,357.66 186.96,356.80 187.34,356.04 187.72,355.39 188.10,354.83 188.48,354.36 188.87,353.98 189.25,353.68 189.63,353.47 190.01,353.33 190.39,353.26 190.78,353.25 191.16,353.30 191.54,353.41 191.92,353.56 192.30,353.76 192.68,353.99 193.07,354.26 193.45,354.56 193.83,354.88 194.21,355.22 194.59,355.58 194.98,355.95 195.36,356.34 195.74,356.73 196.12,357.12 196.50,357.52 196.89,357.92 197.27,358.31 197.65,358.70 198.03,359.09 198.41,359.47 198.79,359.84 199.18,360.20 199.56,360.56 199.94,360.90 200.32,361.24 200.70,361.56 201.09,361.88 201.47,362.18 201.85,362.48 202.23,362.76 202.61,363.04 203.00,363.31 203.38,363.57 203.76,363.82 204.14,364.06 204.52,364.30 204.90,364.54 205.29,364.77 205.67,364.99 206.05,365.22 206.43,365.44 206.81,365.67 207.20,365.89 207.58,366.12 207.96,366.35 208.34,366.59 208.72,366.83 209.11,367.09 209.49,367.34 209.87,367.61 210.25,367.89 210.63,368.19 211.01,368.49 211.40,368.81 211.78,369.14 212.16,369.49 212.54,369.86 212.92,370.25 213.31,370.65 213.69,371.08 214.07,371.53 214.45,372.00 214.83,372.51 215.22,373.04 215.60,373.60 215.98,374.19 216.36,374.81 216.74,375.46 217.12,376.14 217.51,376.85 217.89,377.59 218.27,378.36 218.65,379.16 219.03,380.00 219.42,380.86 219.80,381.75 220.18,382.67 220.56,383.61 220.94,384.59 221.33,385.60 221.71,386.63 222.09,387.68 222.47,388.77 222.85,389.88 223.23,391.01 223.62,392.17 224.00,393.35 224.38,394.55 224.76,395.77 225.14,397.01 225.53,398.27 225.91,399.55 226.29,400.85 226.67,402.16 227.05,403.49 227.44,404.83 227.82,406.19 228.20,407.56 228.58,408.93 228.96,410.32 229.34,411.72 229.73,413.13 230.11,414.54 230.49,415.96 230.87,417.38 231.25,418.81 231.64,420.24 232.02,421.67 232.40,423.10 232.78,424.54 233.16,425.97 233.55,427.40 233.93,428.82 234.31,430.25 234.69,431.67 235.07,433.08 235.45,434.48 235.84,435.88 236.22,437.27 236.60,438.66 236.98,440.03 237.36,441.39 237.75,442.74 238.13,444.08 238.51,445.41 238.89,446.73 239.27,448.03 239.66,449.32 240.04,450.59 240.42,451.85 240.80,453.09 241.18,454.32 241.56,455.53 241.95,456.72 242.33,457.90 242.71,459.05 243.09,460.20 243.47,461.32 243.86,462.42 244.24,463.51 244.62,464.58 245.00,465.62 245.38,466.65 245.77,467.66 246.15,468.65 246.53,469.63 246.91,470.58 247.29,471.51 247.67,472.42 248.06,473.32 248.44,474.19 248.82,475.05 249.20,475.88 249.58,476.70 249.97,477.49 250.35,478.27 250.73,479.03 251.11,479.77 251.49,480.49 251.88,481.19 252.26,481.88 252.64,482.54 253.02,483.19 253.40,483.82 253.78,484.44 254.17,485.03 254.55,485.61 254.93,486.17 255.31,486.72 255.69,487.25 256.08,487.76 256.46,488.26 256.84,488.74 257.22,489.21 257.60,489.67 257.99,490.11 258.37,490.53 258.75,490.94 259.13,491.34 259.51,491.72 259.90,492.10 260.28,492.46 260.66,492.80 261.04,493.14 261.42,493.46 261.80,493.77 262.19,494.08 262.57,494.37 262.95,494.65 263.33,494.92 263.71,495.18 264.10,495.43 264.48,495.67 264.86,495.90 265.24,496.12 265.62,496.34 266.01,496.55 266.39,496.74 266.77,496.94 267.15,497.12 267.53,497.30 267.91,497.47 268.30,497.63 268.68,497.79 269.06,497.94 269.44,498.08 269.82,498.22 270.21,498.35 270.59,498.48 270.97,498.61 271.35,498.72 271.73,498.84 272.12,498.95 272.50,499.05 272.88,499.15 273.26,499.25 273.64,499.34 274.02,499.43 274.41,499.51 274.79,499.59 275.17,499.67 275.55,499.75 275.93,499.82 276.32,499.89 276.70,499.95 277.08,500.02 277.46,500.08 277.84,500.14 278.23,500.19 278.61,500.25 278.99,500.30 279.37,500.35 279.75,500.40 280.13,500.44 280.52,500.49 280.90,500.53 281.28,500.57 281.66,500.61 282.04,500.65 282.43,500.69 282.81,500.72 283.19,500.76 283.57,500.79 283.95,500.82 284.34,500.85 284.72,500.88 285.10,500.91 285.48,500.94 285.86,500.97 286.24,500.99 286.63,501.02 287.01,501.04 287.39,501.07 287.77,501.09 288.15,501.11 288.54,501.13 288.92,501.15 289.30,501.18 289.68,501.20 290.06,501.21 290.45,501.23 290.83,501.25 291.21,501.27 291.59,501.29 291.97,501.31 292.35,501.32 292.74,501.34 293.12,501.35 293.50,501.37 293.88,501.39 294.26,501.40 294.65,501.42 295.03,501.43 295.41,501.44 295.79,501.46 296.17,501.47 296.56,501.49 296.94,501.50 297.32,501.51 297.70,501.52 298.08,501.54 298.46,501.55 298.85,501.56 299.23,501.57 299.61,501.58 299.99,501.60 300.37,501.61 300.76,501.62 301.14,501.63 301.52,501.64 301.90,501.65 302.28,501.66 302.67,501.67 303.05,501.68 303.43,501.69 303.81,501.70 304.19,501.71 304.57,501.72 304.96,501.73 305.34,501.74 305.72,501.75 306.10,501.76 306.48,501.77 306.87,501.78 307.25,501.79 307.63,501.80 308.01,501.81 308.39,501.81 308.78,501.82 309.16,501.83 309.54,501.84 309.92,501.85 310.30,501.86 310.68,501.86 311.07,501.87 311.45,501.88 311.83,501.89 312.21,501.90 312.59,501.90 312.98,501.91 313.36,501.92 313.74,501.93 314.12,501.93 314.50,501.94 314.89,501.95 315.27,501.96 315.65,501.96 316.03,501.97 316.41,501.98 316.79,501.98 317.18,501.99 317.56,502.00 317.94,502.00 318.32,502.01" fill="none" stroke="#000" stroke-width="1.2" stroke-linejoin="round"/><g fill="#000"><rect x="87.35" y="502.75" width="3.90" height="3.90"/><rect x="89.15" y="505.05" width="3.90" height="3.90"/><circle cx="92.80" cy="508.80" r="2.05"/><rect x="92.65" y="508.65" width="3.90" height="3.90"/><rect x="93.85" y="504.45" width="3.90" height="3.90"/><circle cx="98.10" cy="507.00" r="2.05"/><rect x="98.55" y="506.85" width="3.90" height="3.90"/><rect x="100.85" y="505.05" width="3.90" height="3.90"/><circle cx="105.20" cy="509.40" r="2.05"/><rect x="105.55" y="505.65" width="3.90" height="3.90"/><rect x="107.95" y="508.05" width="3.90" height="3.90"/><circle cx="112.20" cy="508.20" r="2.05"/><rect x="112.65" y="507.45" width="3.90" height="3.90"/><rect x="114.35" y="509.75" width="3.90" height="3.90"/><circle cx="118.10" cy="507.60" r="2.05"/><rect x="117.85" y="503.35" width="3.90" height="3.90"/><rect x="119.65" y="500.95" width="3.90" height="3.90"/><circle cx="124.00" cy="500.60" r="2.05"/><rect x="123.75" y="500.35" width="3.90" height="3.90"/><rect x="126.15" y="502.15" width="3.90" height="3.90"/><circle cx="129.80" cy="507.00" r="2.05"/><rect x="129.05" y="508.65" width="3.90" height="3.90"/><rect x="130.25" y="503.35" width="3.90" height="3.90"/><circle cx="134.50" cy="508.20" r="2.05"/><rect x="134.35" y="502.15" width="3.90" height="3.90"/><rect x="135.55" y="508.65" width="3.90" height="3.90"/><circle cx="139.20" cy="507.00" r="2.05"/><rect x="139.65" y="507.45" width="3.90" height="3.90"/><rect x="141.95" y="505.65" width="3.90" height="3.90"/><circle cx="145.10" cy="510.60" r="2.05"/><rect x="145.55" y="505.05" width="3.90" height="3.90"/><rect x="147.85" y="506.25" width="3.90" height="3.90"/><circle cx="151.00" cy="511.10" r="2.05"/><rect x="150.25" y="503.35" width="3.90" height="3.90"/><rect x="152.55" y="502.15" width="3.90" height="3.90"/><circle cx="156.90" cy="504.70" r="2.05"/><rect x="153.15" y="496.85" width="3.90" height="3.90"/><rect x="156.05" y="493.35" width="3.90" height="3.90"/><circle cx="160.40" cy="488.20" r="2.05"/><rect x="159.65" y="483.95" width="3.90" height="3.90"/><rect x="161.35" y="480.45" width="3.90" height="3.90"/><circle cx="162.10" cy="480.60" r="2.05"/><rect x="158.45" y="480.65" width="3.90" height="3.90"/><rect x="161.15" y="472.55" width="3.90" height="3.90"/><circle cx="165.00" cy="468.60" r="2.05"/><rect x="164.35" y="451.05" width="3.90" height="3.90"/><rect x="166.55" y="440.25" width="3.90" height="3.90"/><circle cx="169.80" cy="432.80" r="2.05"/><rect x="169.75" y="425.45" width="3.90" height="3.90"/><rect x="171.35" y="418.75" width="3.90" height="3.90"/><circle cx="174.40" cy="404.60" r="2.05"/><rect x="174.55" y="395.85" width="3.90" height="3.90"/><rect x="177.25" y="393.25" width="3.90" height="3.90"/><circle cx="180.60" cy="389.80" r="2.05"/><rect x="180.75" y="385.15" width="3.90" height="3.90"/><rect x="179.65" y="384.65" width="3.90" height="3.90"/><circle cx="183.20" cy="385.50" r="2.05"/><rect x="182.55" y="368.05" width="3.90" height="3.90"/><rect x="183.95" y="354.55" width="3.90" height="3.90"/><circle cx="187.50" cy="361.30" r="2.05"/><rect x="187.55" y="359.35" width="3.90" height="3.90"/><rect x="188.85" y="344.85" width="3.90" height="3.90"/><circle cx="192.90" cy="352.70" r="2.05"/><rect x="192.55" y="349.15" width="3.90" height="3.90"/><rect x="194.15" y="345.45" width="3.90" height="3.90"/><circle cx="197.40" cy="342.50" r="2.05"/><rect x="199.05" y="345.95" width="3.90" height="3.90"/><rect x="197.45" y="350.25" width="3.90" height="3.90"/><circle cx="202.00" cy="352.70" r="2.05"/><rect x="202.25" y="351.35" width="3.90" height="3.90"/><rect x="203.85" y="350.75" width="3.90" height="3.90"/><circle cx="207.40" cy="355.40" r="2.05"/><rect x="208.65" y="358.85" width="3.90" height="3.90"/><rect x="210.35" y="363.65" width="3.90" height="3.90"/><circle cx="209.00" cy="370.50" r="2.05"/><rect x="214.65" y="369.65" width="3.90" height="3.90"/><rect x="211.95" y="377.15" width="3.90" height="3.90"/><circle cx="218.70" cy="379.60" r="2.05"/><rect x="218.35" y="392.15" width="3.90" height="3.90"/><rect x="211.25" y="378.85" width="3.90" height="3.90"/><circle cx="218.10" cy="380.80" r="2.05"/><rect x="218.55" y="393.35" width="3.90" height="3.90"/><rect x="220.15" y="396.55" width="3.90" height="3.90"/><circle cx="226.90" cy="396.90" r="2.05"/><rect x="222.55" y="401.45" width="3.90" height="3.90"/><rect x="226.55" y="403.05" width="3.90" height="3.90"/><circle cx="230.20" cy="411.50" r="2.05"/><rect x="231.45" y="411.15" width="3.90" height="3.90"/><rect x="229.85" y="412.75" width="3.90" height="3.90"/><circle cx="235.00" cy="419.50" r="2.05"/><rect x="234.65" y="420.75" width="3.90" height="3.90"/><rect x="236.25" y="427.25" width="3.90" height="3.90"/><circle cx="239.80" cy="434.00" r="2.05"/><rect x="242.75" y="427.25" width="3.90" height="3.90"/><rect x="244.35" y="433.65" width="3.90" height="3.90"/><circle cx="243.10" cy="441.30" r="2.05"/><rect x="239.55" y="442.55" width="3.90" height="3.90"/><rect x="245.95" y="453.05" width="3.90" height="3.90"/><circle cx="254.40" cy="455.00" r="2.05"/><rect x="249.15" y="458.65" width="3.90" height="3.90"/><rect x="250.75" y="461.15" width="3.90" height="3.90"/><circle cx="264.00" cy="460.60" r="2.05"/><rect x="254.85" y="465.15" width="3.90" height="3.90"/><rect x="257.25" y="463.55" width="3.90" height="3.90"/><circle cx="242.00" cy="442.70" r="2.05"/><rect x="246.15" y="453.45" width="3.90" height="3.90"/><rect x="252.85" y="454.15" width="3.90" height="3.90"/><circle cx="252.80" cy="459.50" r="2.05"/><rect x="248.75" y="460.25" width="3.90" height="3.90"/><rect x="262.25" y="458.85" width="3.90" height="3.90"/><circle cx="256.80" cy="466.90" r="2.05"/><rect x="257.55" y="464.25" width="3.90" height="3.90"/><rect x="260.85" y="468.25" width="3.90" height="3.90"/><circle cx="257.50" cy="472.20" r="2.05"/><rect x="259.55" y="477.05" width="3.90" height="3.90"/><rect x="264.25" y="477.05" width="3.90" height="3.90"/><circle cx="272.20" cy="483.00" r="2.05"/><rect x="275.65" y="486.45" width="3.90" height="3.90"/><rect x="277.05" y="489.05" width="3.90" height="3.90"/><circle cx="270.90" cy="489.70" r="2.05"/><rect x="266.25" y="490.45" width="3.90" height="3.90"/><rect x="287.05" y="487.75" width="3.90" height="3.90"/><circle cx="290.40" cy="496.40" r="2.05"/><rect x="272.35" y="495.85" width="3.90" height="3.90"/><rect x="274.35" y="495.15" width="3.90" height="3.90"/><circle cx="281.60" cy="501.80" r="2.05"/><rect x="285.05" y="502.55" width="3.90" height="3.90"/><rect x="291.75" y="498.55" width="3.90" height="3.90"/><circle cx="295.10" cy="504.50" r="2.05"/><rect x="295.85" y="505.25" width="3.90" height="3.90"/><rect x="297.15" y="508.55" width="3.90" height="3.90"/><circle cx="303.10" cy="505.80" r="2.05"/><rect x="302.55" y="506.55" width="3.90" height="3.90"/><rect x="307.95" y="503.85" width="3.90" height="3.90"/><circle cx="312.50" cy="507.80" r="2.05"/><rect x="313.25" y="506.55" width="3.90" height="3.90"/><rect x="315.25" y="495.85" width="3.90" height="3.90"/><circle cx="318.60" cy="503.10" r="2.05"/><rect x="282.35" y="509.95" width="3.90" height="3.90"/><rect x="303.85" y="511.25" width="3.90" height="3.90"/></g><text x="199.40" y="434.70" class="an" textLength="29.80" lengthAdjust="spacingAndGlyphs">FeOOH</text><line x1="209.10" y1="425.90" x2="196.30" y2="416.70" stroke="#000" stroke-width="0.9"/><polygon points="196.30,416.70 202.52,418.83 200.31,421.92" fill="#000"/><text x="182.40" y="488.80" class="an">Fe</text><text x="192.10" y="492.80" class="sb">2</text><text x="194.60" y="488.80" class="an">O</text><text x="202.10" y="492.80" class="sb">3</text><line x1="192.10" y1="481.90" x2="201.10" y2="467.00" stroke="#000" stroke-width="0.9"/><polygon points="201.10,467.00 199.47,473.37 196.22,471.41" fill="#000"/></g>
<g id="pd"><line x1="427.00" y1="292.90" x2="427.00" y2="517.00" stroke="#000" stroke-width="1.15"/>
<line x1="727.10" y1="292.90" x2="727.10" y2="517.00" stroke="#000" stroke-width="1.15"/>
<line x1="426.40" y1="292.90" x2="727.70" y2="292.90" stroke="#000" stroke-width="2"/>
<line x1="426.40" y1="517.00" x2="727.70" y2="517.00" stroke="#000" stroke-width="2"/>
<line x1="427.00" y1="508.79" x2="431.20" y2="508.79" stroke="#000" stroke-width="1.7"/>
<line x1="725.90" y1="508.79" x2="727.70" y2="508.79" stroke="#000" stroke-width="1.4"/>
<text x="421.40" y="511.69" class="tl" text-anchor="end">0</text>
<line x1="427.00" y1="493.37" x2="429.20" y2="493.37" stroke="#000" stroke-width="1.5"/>
<line x1="725.90" y1="493.37" x2="727.70" y2="493.37" stroke="#000" stroke-width="1.4"/>
<line x1="427.00" y1="477.95" x2="431.20" y2="477.95" stroke="#000" stroke-width="1.7"/>
<line x1="725.90" y1="477.95" x2="727.70" y2="477.95" stroke="#000" stroke-width="1.4"/>
<text x="421.40" y="480.85" class="tl" text-anchor="end">2000</text>
<line x1="427.00" y1="462.53" x2="429.20" y2="462.53" stroke="#000" stroke-width="1.5"/>
<line x1="725.90" y1="462.53" x2="727.70" y2="462.53" stroke="#000" stroke-width="1.4"/>
<line x1="427.00" y1="447.11" x2="431.20" y2="447.11" stroke="#000" stroke-width="1.7"/>
<line x1="725.90" y1="447.11" x2="727.70" y2="447.11" stroke="#000" stroke-width="1.4"/>
<text x="421.40" y="450.01" class="tl" text-anchor="end">4000</text>
<line x1="427.00" y1="431.69" x2="429.20" y2="431.69" stroke="#000" stroke-width="1.5"/>
<line x1="725.90" y1="431.69" x2="727.70" y2="431.69" stroke="#000" stroke-width="1.4"/>
<line x1="427.00" y1="416.27" x2="431.20" y2="416.27" stroke="#000" stroke-width="1.7"/>
<line x1="725.90" y1="416.27" x2="727.70" y2="416.27" stroke="#000" stroke-width="1.4"/>
<text x="421.40" y="419.17" class="tl" text-anchor="end">6000</text>
<line x1="427.00" y1="400.84" x2="429.20" y2="400.84" stroke="#000" stroke-width="1.5"/>
<line x1="725.90" y1="400.84" x2="727.70" y2="400.84" stroke="#000" stroke-width="1.4"/>
<line x1="427.00" y1="385.42" x2="431.20" y2="385.42" stroke="#000" stroke-width="1.7"/>
<line x1="725.90" y1="385.42" x2="727.70" y2="385.42" stroke="#000" stroke-width="1.4"/>
<text x="421.40" y="388.32" class="tl" text-anchor="end">8000</text>
<line x1="427.00" y1="370.00" x2="429.20" y2="370.00" stroke="#000" stroke-width="1.5"/>
<line x1="725.90" y1="370.00" x2="727.70" y2="370.00" stroke="#000" stroke-width="1.4"/>
<line x1="427.00" y1="354.58" x2="431.20" y2="354.58" stroke="#000" stroke-width="1.7"/>
<line x1="725.90" y1="354.58" x2="727.70" y2="354.58" stroke="#000" stroke-width="1.4"/>
<text x="421.40" y="357.48" class="tl" text-anchor="end">10000</text>
<line x1="427.00" y1="339.16" x2="429.20" y2="339.16" stroke="#000" stroke-width="1.5"/>
<line x1="725.90" y1="339.16" x2="727.70" y2="339.16" stroke="#000" stroke-width="1.4"/>
<line x1="427.00" y1="323.74" x2="431.20" y2="323.74" stroke="#000" stroke-width="1.7"/>
<line x1="725.90" y1="323.74" x2="727.70" y2="323.74" stroke="#000" stroke-width="1.4"/>
<text x="421.40" y="326.64" class="tl" text-anchor="end">12000</text>
<line x1="427.00" y1="308.32" x2="429.20" y2="308.32" stroke="#000" stroke-width="1.5"/>
<line x1="725.90" y1="308.32" x2="727.70" y2="308.32" stroke="#000" stroke-width="1.4"/>
<text x="421.40" y="295.80" class="tl" text-anchor="end">14000</text>
<line x1="459.72" y1="517.00" x2="459.72" y2="513.00" stroke="#000" stroke-width="1.1"/>
<text x="459.72" y="527.90" class="tl" text-anchor="middle">704</text>
<line x1="493.04" y1="517.00" x2="493.04" y2="514.80" stroke="#000" stroke-width="1.1"/>
<line x1="526.36" y1="517.00" x2="526.36" y2="513.00" stroke="#000" stroke-width="1.1"/>
<text x="526.36" y="527.90" class="tl" text-anchor="middle">708</text>
<line x1="559.68" y1="517.00" x2="559.68" y2="514.80" stroke="#000" stroke-width="1.1"/>
<line x1="593.00" y1="517.00" x2="593.00" y2="513.00" stroke="#000" stroke-width="1.1"/>
<text x="593.00" y="527.90" class="tl" text-anchor="middle">712</text>
<line x1="626.32" y1="517.00" x2="626.32" y2="514.80" stroke="#000" stroke-width="1.1"/>
<line x1="659.64" y1="517.00" x2="659.64" y2="513.00" stroke="#000" stroke-width="1.1"/>
<text x="659.64" y="527.90" class="tl" text-anchor="middle">716</text>
<line x1="692.96" y1="517.00" x2="692.96" y2="514.80" stroke="#000" stroke-width="1.1"/>
<text x="726.28" y="527.90" class="tl" text-anchor="middle">720</text>
<text x="535.05" y="544.10" class="tt" textLength="84" lengthAdjust="spacingAndGlyphs">Binding energy (eV)</text>
<text x="-29" y="0" class="tt" textLength="58" lengthAdjust="spacingAndGlyphs" style="font-size:10.5px" transform="translate(392.10,393.80) rotate(-90)">Intensity(cps)</text>
<text x="429.50" y="312.20" class="pl">(d)</text><polyline points="460.36,512.86 460.75,512.86 461.14,512.85 461.52,512.84 461.91,512.83 462.30,512.83 462.69,512.82 463.08,512.81 463.47,512.80 463.86,512.79 464.25,512.78 464.64,512.78 465.03,512.77 465.42,512.76 465.81,512.75 466.20,512.74 466.59,512.73 466.98,512.72 467.37,512.71 467.76,512.70 468.15,512.70 468.54,512.69 468.93,512.68 469.32,512.67 469.71,512.66 470.10,512.65 470.49,512.64 470.88,512.63 471.27,512.62 471.66,512.61 472.05,512.60 472.44,512.58 472.83,512.57 473.22,512.56 473.61,512.55 474.00,512.54 474.39,512.53 474.78,512.52 475.17,512.51 475.56,512.49 475.95,512.48 476.34,512.47 476.73,512.46 477.12,512.45 477.51,512.43 477.90,512.42 478.29,512.41 478.68,512.39 479.07,512.38 479.46,512.37 479.85,512.35 480.24,512.34 480.63,512.33 481.01,512.31 481.40,512.30 481.79,512.28 482.18,512.27 482.57,512.25 482.96,512.24 483.35,512.22 483.74,512.21 484.13,512.19 484.52,512.18 484.91,512.16 485.30,512.14 485.69,512.13 486.08,512.11 486.47,512.09 486.86,512.07 487.25,512.06 487.64,512.04 488.03,512.02 488.42,512.00 488.81,511.98 489.20,511.96 489.59,511.94 489.98,511.92 490.37,511.90 490.76,511.88 491.15,511.86 491.54,511.84 491.93,511.82 492.32,511.80 492.71,511.78 493.10,511.76 493.49,511.73 493.88,511.71 494.27,511.69 494.66,511.66 495.05,511.64 495.44,511.61 495.83,511.59 496.22,511.56 496.61,511.54 497.00,511.51 497.39,511.48 497.78,511.46 498.17,511.43 498.56,511.40 498.95,511.37 499.34,511.34 499.73,511.31 500.11,511.28 500.50,511.25 500.89,511.22 501.28,511.19 501.67,511.16 502.06,511.12 502.45,511.09 502.84,511.05 503.23,511.02 503.62,510.98 504.01,510.95 504.40,510.91 504.79,510.87 505.18,510.83 505.57,510.79 505.96,510.75 506.35,510.70 506.74,510.66 507.13,510.62 507.52,510.57 507.91,510.52 508.30,510.48 508.69,510.43 509.08,510.38 509.47,510.32 509.86,510.27 510.25,510.22 510.64,510.16 511.03,510.10 511.42,510.04 511.81,509.98 512.20,509.91 512.59,509.85 512.98,509.78 513.37,509.71 513.76,509.63 514.15,509.55 514.54,509.47 514.93,509.39 515.32,509.31 515.71,509.22 516.10,509.12 516.49,509.03 516.88,508.93 517.27,508.82 517.66,508.71 518.05,508.60 518.44,508.48 518.83,508.35 519.22,508.22 519.60,508.09 519.99,507.94 520.38,507.79 520.77,507.64 521.16,507.47 521.55,507.30 521.94,507.12 522.33,506.93 522.72,506.73 523.11,506.53 523.50,506.31 523.89,506.08 524.28,505.84 524.67,505.59 525.06,505.33 525.45,505.05 525.84,504.76 526.23,504.46 526.62,504.14 527.01,503.81 527.40,503.46 527.79,503.10 528.18,502.72 528.57,502.32 528.96,501.90 529.35,501.46 529.74,501.00 530.13,500.52 530.52,500.02 530.91,499.50 531.30,498.96 531.69,498.39 532.08,497.80 532.47,497.18 532.86,496.54 533.25,495.87 533.64,495.18 534.03,494.46 534.42,493.71 534.81,492.93 535.20,492.12 535.59,491.29 535.98,490.42 536.37,489.52 536.76,488.59 537.15,487.64 537.54,486.65 537.93,485.62 538.32,484.57 538.70,483.48 539.09,482.37 539.48,481.22 539.87,480.04 540.26,478.82 540.65,477.58 541.04,476.30 541.43,474.99 541.82,473.66 542.21,472.29 542.60,470.89 542.99,469.47 543.38,468.01 543.77,466.53 544.16,465.03 544.55,463.50 544.94,461.94 545.33,460.37 545.72,458.77 546.11,457.16 546.50,455.52 546.89,453.88 547.28,452.21 547.67,450.54 548.06,448.86 548.45,447.17 548.84,445.47 549.23,443.77 549.62,442.08 550.01,440.38 550.40,438.69 550.79,437.02 551.18,435.35 551.57,433.70 551.96,432.07 552.35,430.46 552.74,428.88 553.13,427.33 553.52,425.81 553.91,424.33 554.30,422.89 554.69,421.50 555.08,420.16 555.47,418.87 555.86,417.64 556.25,416.48 556.64,415.38 557.03,414.35 557.42,413.40 557.81,412.52 558.19,411.73 558.58,411.01 558.97,410.39 559.36,409.85 559.75,409.41 560.14,409.06 560.53,408.80 560.92,408.64 561.31,408.58 561.70,408.60 562.09,408.71 562.48,408.90 562.87,409.18 563.26,409.53 563.65,409.97 564.04,410.48 564.43,411.08 564.82,411.74 565.21,412.48 565.60,413.28 565.99,414.15 566.38,415.09 566.77,416.08 567.16,417.13 567.55,418.24 567.94,419.39 568.33,420.59 568.72,421.83 569.11,423.12 569.50,424.44 569.89,425.79 570.28,427.18 570.67,428.59 571.06,430.02 571.45,431.48 571.84,432.95 572.23,434.44 572.62,435.94 573.01,437.45 573.40,438.96 573.79,440.49 574.18,442.01 574.57,443.53 574.96,445.06 575.35,446.57 575.74,448.08 576.13,449.59 576.52,451.08 576.91,452.56 577.29,454.03 577.68,455.49 578.07,456.93 578.46,458.35 578.85,459.75 579.24,461.13 579.63,462.50 580.02,463.84 580.41,465.16 580.80,466.45 581.19,467.73 581.58,468.97 581.97,470.20 582.36,471.39 582.75,472.56 583.14,473.71 583.53,474.82 583.92,475.91 584.31,476.98 584.70,478.01 585.09,479.02 585.48,480.00 585.87,480.95 586.26,481.88 586.65,482.77 587.04,483.65 587.43,484.49 587.82,485.31 588.21,486.10 588.60,486.86 588.99,487.60 589.38,488.31 589.77,489.00 590.16,489.67 590.55,490.31 590.94,490.92 591.33,491.52 591.72,492.09 592.11,492.64 592.50,493.16 592.89,493.67 593.28,494.16 593.67,494.62 594.06,495.07 594.45,495.50 594.84,495.91 595.23,496.30 595.62,496.68 596.01,497.04 596.39,497.38 596.78,497.71 597.17,498.02 597.56,498.32 597.95,498.60 598.34,498.88 598.73,499.14 599.12,499.38 599.51,499.62 599.90,499.84 600.29,500.06 600.68,500.26 601.07,500.46 601.46,500.64 601.85,500.82 602.24,500.99 602.63,501.15 603.02,501.30 603.41,501.44 603.80,501.58 604.19,501.71 604.58,501.84 604.97,501.96 605.36,502.07 605.75,502.18 606.14,502.28 606.53,502.38 606.92,502.47 607.31,502.56 607.70,502.65 608.09,502.73 608.48,502.81 608.87,502.88 609.26,502.95 609.65,503.02 610.04,503.09 610.43,503.15 610.82,503.21 611.21,503.27 611.60,503.33 611.99,503.38 612.38,503.43 612.77,503.48 613.16,503.53 613.55,503.58 613.94,503.62 614.33,503.66 614.72,503.71 615.11,503.75 615.50,503.79 615.88,503.82 616.27,503.86 616.66,503.90 617.05,503.93 617.44,503.97 617.83,504.00 618.22,504.03 618.61,504.06 619.00,504.10 619.39,504.13 619.78,504.16 620.17,504.18 620.56,504.21 620.95,504.24 621.34,504.27 621.73,504.29 622.12,504.32 622.51,504.35 622.90,504.37 623.29,504.40 623.68,504.42 624.07,504.45 624.46,504.47 624.85,504.49 625.24,504.52 625.63,504.54 626.02,504.56 626.41,504.58 626.80,504.60 627.19,504.62 627.58,504.65 627.97,504.67 628.36,504.69 628.75,504.71 629.14,504.73 629.53,504.75 629.92,504.77 630.31,504.79 630.70,504.80 631.09,504.82 631.48,504.84 631.87,504.86 632.26,504.88 632.65,504.90 633.04,504.91 633.43,504.93 633.82,504.95 634.21,504.96 634.60,504.98 634.98,505.00 635.37,505.01 635.76,505.03 636.15,505.05 636.54,505.06 636.93,505.08 637.32,505.09 637.71,505.11 638.10,505.12 638.49,505.14 638.88,505.15 639.27,505.17 639.66,505.18 640.05,505.20 640.44,505.21 640.83,505.23 641.22,505.24 641.61,505.25 642.00,505.27 642.39,505.28 642.78,505.29 643.17,505.31 643.56,505.32 643.95,505.33 644.34,505.34 644.73,505.36 645.12,505.37 645.51,505.38 645.90,505.39 646.29,505.40 646.68,505.42 647.07,505.43 647.46,505.44 647.85,505.45 648.24,505.46 648.63,505.47 649.02,505.48 649.41,505.49 649.80,505.51 650.19,505.52 650.58,505.53 650.97,505.54 651.36,505.55 651.75,505.56 652.14,505.57 652.53,505.58 652.92,505.59 653.31,505.60 653.70,505.61 654.09,505.62 654.47,505.63 654.86,505.63 655.25,505.64 655.64,505.65 656.03,505.66 656.42,505.67 656.81,505.68 657.20,505.69 657.59,505.70 657.98,505.70 658.37,505.71 658.76,505.72 659.15,505.73 659.54,505.74 659.93,505.75 660.32,505.75 660.71,505.76 661.10,505.77 661.49,505.78 661.88,505.78 662.27,505.79 662.66,505.80 663.05,505.81 663.44,505.81 663.83,505.82 664.22,505.83 664.61,505.83 665.00,505.84 665.39,505.85 665.78,505.86 666.17,505.86 666.56,505.87 666.95,505.87 667.34,505.88 667.73,505.89 668.12,505.89 668.51,505.90 668.90,505.91 669.29,505.91 669.68,505.92 670.07,505.92 670.46,505.93 670.85,505.94 671.24,505.94 671.63,505.95 672.02,505.95 672.41,505.96 672.80,505.97 673.19,505.97 673.57,505.98 673.96,505.98 674.35,505.99 674.74,505.99 675.13,506.00 675.52,506.00 675.91,506.01 676.30,506.01 676.69,506.02 677.08,506.02 677.47,506.03 677.86,506.03 678.25,506.04 678.64,506.04 679.03,506.05 679.42,506.05 679.81,506.06 680.20,506.06 680.59,506.07 680.98,506.07 681.37,506.07 681.76,506.08 682.15,506.08 682.54,506.09 682.93,506.09 683.32,506.10 683.71,506.10 684.10,506.10 684.49,506.11 684.88,506.11 685.27,506.12 685.66,506.12 686.05,506.12 686.44,506.13 686.83,506.13 687.22,506.14 687.61,506.14 688.00,506.14 688.39,506.15 688.78,506.15 689.17,506.15 689.56,506.16 689.95,506.16 690.34,506.17 690.73,506.17 691.12,506.17 691.51,506.18 691.90,506.18 692.29,506.18 692.68,506.19 693.06,506.19 693.45,506.19 693.84,506.20" fill="none" stroke="#000" stroke-width="1.2" stroke-linejoin="round"/>
<polyline points="460.36,513.65 460.75,513.65 461.14,513.65 461.52,513.65 461.91,513.65 462.30,513.65 462.69,513.65 463.08,513.64 463.47,513.64 463.86,513.64 464.25,513.64 464.64,513.64 465.03,513.64 465.42,513.64 465.81,513.63 466.20,513.63 466.59,513.63 466.98,513.63 467.37,513.63 467.76,513.63 468.15,513.63 468.54,513.62 468.93,513.62 469.32,513.62 469.71,513.62 470.10,513.62 470.49,513.62 470.88,513.61 471.27,513.61 471.66,513.61 472.05,513.61 472.44,513.61 472.83,513.61 473.22,513.60 473.61,513.60 474.00,513.60 474.39,513.60 474.78,513.60 475.17,513.60 475.56,513.59 475.95,513.59 476.34,513.59 476.73,513.59 477.12,513.59 477.51,513.58 477.90,513.58 478.29,513.58 478.68,513.58 479.07,513.58 479.46,513.57 479.85,513.57 480.24,513.57 480.63,513.57 481.01,513.57 481.40,513.56 481.79,513.56 482.18,513.56 482.57,513.56 482.96,513.55 483.35,513.55 483.74,513.55 484.13,513.55 484.52,513.55 484.91,513.54 485.30,513.54 485.69,513.54 486.08,513.54 486.47,513.53 486.86,513.53 487.25,513.53 487.64,513.52 488.03,513.52 488.42,513.52 488.81,513.52 489.20,513.51 489.59,513.51 489.98,513.51 490.37,513.50 490.76,513.50 491.15,513.50 491.54,513.49 491.93,513.49 492.32,513.49 492.71,513.48 493.10,513.48 493.49,513.47 493.88,513.47 494.27,513.47 494.66,513.46 495.05,513.46 495.44,513.45 495.83,513.45 496.22,513.44 496.61,513.44 497.00,513.43 497.39,513.43 497.78,513.42 498.17,513.42 498.56,513.41 498.95,513.40 499.34,513.40 499.73,513.39 500.11,513.38 500.50,513.38 500.89,513.37 501.28,513.36 501.67,513.35 502.06,513.34 502.45,513.34 502.84,513.33 503.23,513.32 503.62,513.31 504.01,513.30 504.40,513.29 504.79,513.27 505.18,513.26 505.57,513.25 505.96,513.24 506.35,513.22 506.74,513.21 507.13,513.19 507.52,513.18 507.91,513.16 508.30,513.15 508.69,513.13 509.08,513.11 509.47,513.09 509.86,513.07 510.25,513.05 510.64,513.03 511.03,513.00 511.42,512.98 511.81,512.95 512.20,512.93 512.59,512.90 512.98,512.87 513.37,512.84 513.76,512.81 514.15,512.77 514.54,512.74 514.93,512.70 515.32,512.66 515.71,512.62 516.10,512.58 516.49,512.54 516.88,512.49 517.27,512.44 517.66,512.39 518.05,512.34 518.44,512.28 518.83,512.23 519.22,512.17 519.60,512.10 519.99,512.04 520.38,511.97 520.77,511.90 521.16,511.82 521.55,511.74 521.94,511.66 522.33,511.58 522.72,511.49 523.11,511.40 523.50,511.30 523.89,511.20 524.28,511.10 524.67,510.99 525.06,510.87 525.45,510.76 525.84,510.63 526.23,510.51 526.62,510.37 527.01,510.24 527.40,510.09 527.79,509.94 528.18,509.79 528.57,509.63 528.96,509.46 529.35,509.29 529.74,509.11 530.13,508.92 530.52,508.73 530.91,508.53 531.30,508.32 531.69,508.10 532.08,507.88 532.47,507.65 532.86,507.41 533.25,507.16 533.64,506.90 534.03,506.64 534.42,506.36 534.81,506.08 535.20,505.79 535.59,505.48 535.98,505.17 536.37,504.85 536.76,504.51 537.15,504.17 537.54,503.82 537.93,503.45 538.32,503.08 538.70,502.69 539.09,502.29 539.48,501.88 539.87,501.46 540.26,501.02 540.65,500.57 541.04,500.11 541.43,499.64 541.82,499.15 542.21,498.66 542.60,498.14 542.99,497.62 543.38,497.08 543.77,496.53 544.16,495.96 544.55,495.38 544.94,494.79 545.33,494.18 545.72,493.56 546.11,492.92 546.50,492.27 546.89,491.60 547.28,490.92 547.67,490.23 548.06,489.52 548.45,488.79 548.84,488.05 549.23,487.30 549.62,486.53 550.01,485.75 550.40,484.95 550.79,484.13 551.18,483.31 551.57,482.46 551.96,481.61 552.35,480.74 552.74,479.85 553.13,478.95 553.52,478.04 553.91,477.12 554.30,476.18 554.69,475.22 555.08,474.26 555.47,473.28 555.86,472.29 556.25,471.29 556.64,470.27 557.03,469.25 557.42,468.21 557.81,467.16 558.19,466.11 558.58,465.04 558.97,463.96 559.36,462.88 559.75,461.78 560.14,460.68 560.53,459.57 560.92,458.45 561.31,457.33 561.70,456.19 562.09,455.06 562.48,453.92 562.87,452.77 563.26,451.62 563.65,450.47 564.04,449.32 564.43,448.16 564.82,447.00 565.21,445.85 565.60,444.69 565.99,443.53 566.38,442.38 566.77,441.23 567.16,440.08 567.55,438.93 567.94,437.79 568.33,436.65 568.72,435.52 569.11,434.40 569.50,433.28 569.89,432.18 570.28,431.08 570.67,429.99 571.06,428.91 571.45,427.85 571.84,426.79 572.23,425.75 572.62,424.72 573.01,423.71 573.40,422.71 573.79,421.73 574.18,420.77 574.57,419.82 574.96,418.89 575.35,417.98 575.74,417.09 576.13,416.22 576.52,415.38 576.91,414.55 577.29,413.75 577.68,412.97 578.07,412.21 578.46,411.48 578.85,410.77 579.24,410.09 579.63,409.44 580.02,408.81 580.41,408.21 580.80,407.64 581.19,407.10 581.58,406.58 581.97,406.10 582.36,405.64 582.75,405.22 583.14,404.83 583.53,404.46 583.92,404.13 584.31,403.83 584.70,403.57 585.09,403.33 585.48,403.13 585.87,402.95 586.26,402.82 586.65,402.71 587.04,402.64 587.43,402.60 587.82,402.59 588.21,402.63 588.60,402.69 588.99,402.80 589.38,402.94 589.77,403.12 590.16,403.33 590.55,403.58 590.94,403.87 591.33,404.19 591.72,404.54 592.11,404.93 592.50,405.35 592.89,405.81 593.28,406.30 593.67,406.82 594.06,407.37 594.45,407.95 594.84,408.56 595.23,409.21 595.62,409.88 596.01,410.58 596.39,411.31 596.78,412.06 597.17,412.84 597.56,413.65 597.95,414.48 598.34,415.33 598.73,416.21 599.12,417.11 599.51,418.03 599.90,418.97 600.29,419.93 600.68,420.91 601.07,421.91 601.46,422.92 601.85,423.95 602.24,424.99 602.63,426.05 603.02,427.12 603.41,428.20 603.80,429.29 604.19,430.40 604.58,431.51 604.97,432.63 605.36,433.76 605.75,434.90 606.14,436.04 606.53,437.18 606.92,438.33 607.31,439.49 607.70,440.65 608.09,441.80 608.48,442.96 608.87,444.12 609.26,445.28 609.65,446.44 610.04,447.59 610.43,448.74 610.82,449.89 611.21,451.03 611.60,452.17 611.99,453.31 612.38,454.43 612.77,455.55 613.16,456.66 613.55,457.77 613.94,458.86 614.33,459.95 614.72,461.02 615.11,462.09 615.50,463.15 615.88,464.19 616.27,465.22 616.66,466.24 617.05,467.25 617.44,468.25 617.83,469.23 618.22,470.20 618.61,471.16 619.00,472.10 619.39,473.03 619.78,473.94 620.17,474.84 620.56,475.72 620.95,476.59 621.34,477.45 621.73,478.29 622.12,479.11 622.51,479.92 622.90,480.71 623.29,481.49 623.68,482.25 624.07,483.00 624.46,483.73 624.85,484.45 625.24,485.15 625.63,485.83 626.02,486.50 626.41,487.15 626.80,487.79 627.19,488.42 627.58,489.02 627.97,489.62 628.36,490.19 628.75,490.76 629.14,491.31 629.53,491.84 629.92,492.36 630.31,492.87 630.70,493.36 631.09,493.84 631.48,494.30 631.87,494.76 632.26,495.19 632.65,495.62 633.04,496.03 633.43,496.43 633.82,496.82 634.21,497.20 634.60,497.56 634.98,497.92 635.37,498.26 635.76,498.59 636.15,498.91 636.54,499.22 636.93,499.51 637.32,499.80 637.71,500.08 638.10,500.35 638.49,500.61 638.88,500.86 639.27,501.10 639.66,501.33 640.05,501.56 640.44,501.77 640.83,501.98 641.22,502.18 641.61,502.37 642.00,502.56 642.39,502.74 642.78,502.91 643.17,503.07 643.56,503.23 643.95,503.38 644.34,503.53 644.73,503.67 645.12,503.80 645.51,503.93 645.90,504.05 646.29,504.17 646.68,504.28 647.07,504.39 647.46,504.50 647.85,504.59 648.24,504.69 648.63,504.78 649.02,504.87 649.41,504.95 649.80,505.03 650.19,505.10 650.58,505.18 650.97,505.24 651.36,505.31 651.75,505.37 652.14,505.43 652.53,505.49 652.92,505.54 653.31,505.60 653.70,505.65 654.09,505.69 654.47,505.74 654.86,505.78 655.25,505.82 655.64,505.86 656.03,505.90 656.42,505.93 656.81,505.96 657.20,506.00 657.59,506.03 657.98,506.06 658.37,506.08 658.76,506.11 659.15,506.13 659.54,506.16 659.93,506.18 660.32,506.20 660.71,506.22 661.10,506.24 661.49,506.26 661.88,506.27 662.27,506.29 662.66,506.31 663.05,506.32 663.44,506.33 663.83,506.35 664.22,506.36 664.61,506.37 665.00,506.38 665.39,506.39 665.78,506.40 666.17,506.41 666.56,506.42 666.95,506.43 667.34,506.44 667.73,506.45 668.12,506.46 668.51,506.46 668.90,506.47 669.29,506.48 669.68,506.48 670.07,506.49 670.46,506.50 670.85,506.50 671.24,506.51 671.63,506.51 672.02,506.52 672.41,506.52 672.80,506.52 673.19,506.53 673.57,506.53 673.96,506.54 674.35,506.54 674.74,506.54 675.13,506.55 675.52,506.55 675.91,506.55 676.30,506.56 676.69,506.56 677.08,506.56 677.47,506.57 677.86,506.57 678.25,506.57 678.64,506.57 679.03,506.57 679.42,506.58 679.81,506.58 680.20,506.58 680.59,506.58 680.98,506.59 681.37,506.59 681.76,506.59 682.15,506.59 682.54,506.59 682.93,506.59 683.32,506.60 683.71,506.60 684.10,506.60 684.49,506.60 684.88,506.60 685.27,506.60 685.66,506.61 686.05,506.61 686.44,506.61 686.83,506.61 687.22,506.61 687.61,506.61 688.00,506.61 688.39,506.62 688.78,506.62 689.17,506.62 689.56,506.62 689.95,506.62 690.34,506.62 690.73,506.62 691.12,506.62 691.51,506.63 691.90,506.63 692.29,506.63 692.68,506.63 693.06,506.63 693.45,506.63 693.84,506.63" fill="none" stroke="#000" stroke-width="1.2" stroke-linejoin="round"/>
<polyline points="460.36,511.10 460.75,511.09 461.14,511.08 461.52,511.07 461.91,511.07 462.30,511.06 462.69,511.05 463.08,511.04 463.47,511.03 463.86,511.02 464.25,511.01 464.64,511.00 465.03,510.99 465.42,510.98 465.81,510.97 466.20,510.96 466.59,510.95 466.98,510.94 467.37,510.93 467.76,510.92 468.15,510.91 468.54,510.90 468.93,510.89 469.32,510.88 469.71,510.87 470.10,510.86 470.49,510.85 470.88,510.84 471.27,510.83 471.66,510.81 472.05,510.80 472.44,510.79 472.83,510.78 473.22,510.77 473.61,510.75 474.00,510.74 474.39,510.73 474.78,510.72 475.17,510.70 475.56,510.69 475.95,510.68 476.34,510.66 476.73,510.65 477.12,510.64 477.51,510.62 477.90,510.61 478.29,510.59 478.68,510.58 479.07,510.56 479.46,510.55 479.85,510.53 480.24,510.52 480.63,510.50 481.01,510.49 481.40,510.47 481.79,510.46 482.18,510.44 482.57,510.42 482.96,510.41 483.35,510.39 483.74,510.37 484.13,510.35 484.52,510.34 484.91,510.32 485.30,510.30 485.69,510.28 486.08,510.26 486.47,510.24 486.86,510.22 487.25,510.20 487.64,510.18 488.03,510.16 488.42,510.14 488.81,510.12 489.20,510.10 489.59,510.08 489.98,510.06 490.37,510.03 490.76,510.01 491.15,509.99 491.54,509.96 491.93,509.94 492.32,509.91 492.71,509.89 493.10,509.86 493.49,509.84 493.88,509.81 494.27,509.79 494.66,509.76 495.05,509.73 495.44,509.70 495.83,509.67 496.22,509.64 496.61,509.61 497.00,509.58 497.39,509.55 497.78,509.52 498.17,509.49 498.56,509.45 498.95,509.42 499.34,509.38 499.73,509.35 500.11,509.31 500.50,509.28 500.89,509.24 501.28,509.20 501.67,509.16 502.06,509.12 502.45,509.08 502.84,509.03 503.23,508.99 503.62,508.94 504.01,508.90 504.40,508.85 504.79,508.80 505.18,508.75 505.57,508.70 505.96,508.65 506.35,508.59 506.74,508.53 507.13,508.48 507.52,508.42 507.91,508.35 508.30,508.29 508.69,508.22 509.08,508.16 509.47,508.09 509.86,508.01 510.25,507.94 510.64,507.86 511.03,507.78 511.42,507.70 511.81,507.61 512.20,507.52 512.59,507.43 512.98,507.33 513.37,507.23 513.76,507.12 514.15,507.02 514.54,506.90 514.93,506.78 515.32,506.66 515.71,506.53 516.10,506.40 516.49,506.26 516.88,506.12 517.27,505.96 517.66,505.81 518.05,505.64 518.44,505.47 518.83,505.29 519.22,505.10 519.60,504.90 519.99,504.70 520.38,504.48 520.77,504.25 521.16,504.02 521.55,503.77 521.94,503.51 522.33,503.24 522.72,502.96 523.11,502.66 523.50,502.35 523.89,502.03 524.28,501.68 524.67,501.33 525.06,500.96 525.45,500.57 525.84,500.16 526.23,499.73 526.62,499.28 527.01,498.82 527.40,498.33 527.79,497.82 528.18,497.29 528.57,496.73 528.96,496.15 529.35,495.54 529.74,494.91 530.13,494.25 530.52,493.56 530.91,492.85 531.30,492.10 531.69,491.32 532.08,490.51 532.47,489.67 532.86,488.80 533.25,487.89 533.64,486.94 534.03,485.96 534.42,484.95 534.81,483.89 535.20,482.80 535.59,481.67 535.98,480.50 536.37,479.29 536.76,478.04 537.15,476.75 537.54,475.41 537.93,474.04 538.32,472.62 538.70,471.16 539.09,469.65 539.48,468.10 539.87,466.51 540.26,464.88 540.65,463.20 541.04,461.48 541.43,459.71 541.82,457.90 542.21,456.05 542.60,454.16 542.99,452.23 543.38,450.25 543.77,448.24 544.16,446.19 544.55,444.10 544.94,441.97 545.33,439.80 545.72,437.61 546.11,435.37 546.50,433.11 546.89,430.82 547.28,428.50 547.67,426.16 548.06,423.79 548.45,421.40 548.84,418.99 549.23,416.57 549.62,414.13 550.01,411.68 550.40,409.22 550.79,406.76 551.18,404.29 551.57,401.83 551.96,399.38 552.35,396.93 552.74,394.50 553.13,392.08 553.52,389.69 553.91,387.32 554.30,384.98 554.69,382.67 555.08,380.40 555.47,378.17 555.86,375.99 556.25,373.86 556.64,371.79 557.03,369.78 557.42,367.83 557.81,365.94 558.19,364.13 558.58,362.39 558.97,360.73 559.36,359.16 559.75,357.66 560.14,356.25 560.53,354.93 560.92,353.70 561.31,352.55 561.70,351.49 562.09,350.51 562.48,349.61 562.87,348.78 563.26,348.03 563.65,347.36 564.04,346.77 564.43,346.25 564.82,345.81 565.21,345.43 565.60,345.13 565.99,344.89 566.38,344.72 566.77,344.60 567.16,344.55 567.55,344.56 567.94,344.62 568.33,344.73 568.72,344.89 569.11,345.10 569.50,345.35 569.89,345.64 570.28,345.97 570.67,346.34 571.06,346.75 571.45,347.18 571.84,347.65 572.23,348.14 572.62,348.66 573.01,349.20 573.40,349.77 573.79,350.35 574.18,350.96 574.57,351.58 574.96,352.22 575.35,352.87 575.74,353.53 576.13,354.21 576.52,354.90 576.91,355.60 577.29,356.31 577.68,357.03 578.07,357.76 578.46,358.49 578.85,359.23 579.24,359.97 579.63,360.73 580.02,361.48 580.41,362.24 580.80,363.01 581.19,363.78 581.58,364.55 581.97,365.33 582.36,366.12 582.75,366.90 583.14,367.69 583.53,368.49 583.92,369.28 584.31,370.09 584.70,370.89 585.09,371.70 585.48,372.52 585.87,373.34 586.26,374.16 586.65,374.99 587.04,375.83 587.43,376.67 587.82,377.52 588.21,378.38 588.60,379.25 588.99,380.13 589.38,381.02 589.77,381.93 590.16,382.84 590.55,383.76 590.94,384.70 591.33,385.65 591.72,386.61 592.11,387.58 592.50,388.56 592.89,389.56 593.28,390.57 593.67,391.59 594.06,392.62 594.45,393.66 594.84,394.72 595.23,395.78 595.62,396.86 596.01,397.95 596.39,399.06 596.78,400.17 597.17,401.29 597.56,402.43 597.95,403.57 598.34,404.73 598.73,405.90 599.12,407.07 599.51,408.26 599.90,409.45 600.29,410.65 600.68,411.86 601.07,413.08 601.46,414.30 601.85,415.53 602.24,416.77 602.63,418.01 603.02,419.26 603.41,420.51 603.80,421.77 604.19,423.03 604.58,424.29 604.97,425.55 605.36,426.82 605.75,428.08 606.14,429.35 606.53,430.62 606.92,431.88 607.31,433.15 607.70,434.41 608.09,435.67 608.48,436.93 608.87,438.18 609.26,439.43 609.65,440.68 610.04,441.91 610.43,443.15 610.82,444.37 611.21,445.59 611.60,446.80 611.99,448.01 612.38,449.20 612.77,450.39 613.16,451.56 613.55,452.73 613.94,453.88 614.33,455.03 614.72,456.16 615.11,457.28 615.50,458.39 615.88,459.48 616.27,460.57 616.66,461.64 617.05,462.69 617.44,463.74 617.83,464.76 618.22,465.78 618.61,466.78 619.00,467.76 619.39,468.73 619.78,469.68 620.17,470.62 620.56,471.55 620.95,472.45 621.34,473.34 621.73,474.22 622.12,475.08 622.51,475.92 622.90,476.75 623.29,477.56 623.68,478.35 624.07,479.13 624.46,479.89 624.85,480.64 625.24,481.37 625.63,482.08 626.02,482.78 626.41,483.47 626.80,484.13 627.19,484.78 627.58,485.42 627.97,486.04 628.36,486.64 628.75,487.23 629.14,487.80 629.53,488.36 629.92,488.91 630.31,489.44 630.70,489.95 631.09,490.46 631.48,490.94 631.87,491.42 632.26,491.88 632.65,492.33 633.04,492.76 633.43,493.18 633.82,493.59 634.21,493.99 634.60,494.37 634.98,494.75 635.37,495.11 635.76,495.46 636.15,495.79 636.54,496.12 636.93,496.44 637.32,496.75 637.71,497.04 638.10,497.33 638.49,497.61 638.88,497.87 639.27,498.13 639.66,498.38 640.05,498.62 640.44,498.85 640.83,499.08 641.22,499.29 641.61,499.50 642.00,499.70 642.39,499.89 642.78,500.08 643.17,500.26 643.56,500.43 643.95,500.60 644.34,500.76 644.73,500.91 645.12,501.06 645.51,501.20 645.90,501.34 646.29,501.47 646.68,501.59 647.07,501.72 647.46,501.83 647.85,501.94 648.24,502.05 648.63,502.15 649.02,502.25 649.41,502.35 649.80,502.44 650.19,502.52 650.58,502.61 650.97,502.69 651.36,502.77 651.75,502.84 652.14,502.91 652.53,502.98 652.92,503.04 653.31,503.11 653.70,503.16 654.09,503.22 654.47,503.28 654.86,503.33 655.25,503.38 655.64,503.43 656.03,503.48 656.42,503.52 656.81,503.56 657.20,503.60 657.59,503.64 657.98,503.68 658.37,503.72 658.76,503.75 659.15,503.79 659.54,503.82 659.93,503.85 660.32,503.88 660.71,503.91 661.10,503.93 661.49,503.96 661.88,503.99 662.27,504.01 662.66,504.03 663.05,504.06 663.44,504.08 663.83,504.10 664.22,504.12 664.61,504.14 665.00,504.16 665.39,504.18 665.78,504.19 666.17,504.21 666.56,504.23 666.95,504.24 667.34,504.26 667.73,504.27 668.12,504.29 668.51,504.30 668.90,504.31 669.29,504.33 669.68,504.34 670.07,504.35 670.46,504.37 670.85,504.38 671.24,504.39 671.63,504.40 672.02,504.41 672.41,504.42 672.80,504.43 673.19,504.44 673.57,504.45 673.96,504.46 674.35,504.47 674.74,504.48 675.13,504.49 675.52,504.50 675.91,504.51 676.30,504.52 676.69,504.52 677.08,504.53 677.47,504.54 677.86,504.55 678.25,504.56 678.64,504.56 679.03,504.57 679.42,504.58 679.81,504.59 680.20,504.59 680.59,504.60 680.98,504.61 681.37,504.61 681.76,504.62 682.15,504.63 682.54,504.63 682.93,504.64 683.32,504.65 683.71,504.65 684.10,504.66 684.49,504.66 684.88,504.67 685.27,504.68 685.66,504.68 686.05,504.69 686.44,504.69 686.83,504.70 687.22,504.71 687.61,504.71 688.00,504.72 688.39,504.72 688.78,504.73 689.17,504.73 689.56,504.74 689.95,504.74 690.34,504.75 690.73,504.75 691.12,504.76 691.51,504.76 691.90,504.77 692.29,504.77 692.68,504.78 693.06,504.78 693.45,504.79 693.84,504.79" fill="none" stroke="#000" stroke-width="1.2" stroke-linejoin="round"/>
<polyline points="460.36,511.10 460.75,511.10 461.14,511.10 461.52,511.10 461.91,511.10 462.30,511.10 462.69,511.10 463.08,511.10 463.47,511.10 463.86,511.10 464.25,511.10 464.64,511.10 465.03,511.10 465.42,511.10 465.81,511.10 466.20,511.10 466.59,511.10 466.98,511.10 467.37,511.09 467.76,511.08 468.15,511.07 468.54,511.06 468.93,511.05 469.32,511.04 469.71,511.03 470.10,511.02 470.49,511.01 470.88,511.00 471.27,510.99 471.66,510.98 472.05,510.97 472.44,510.96 472.83,510.95 473.22,510.94 473.61,510.93 474.00,510.92 474.39,510.91 474.78,510.90 475.17,510.88 475.56,510.87 475.95,510.86 476.34,510.85 476.73,510.84 477.12,510.83 477.51,510.81 477.90,510.80 478.29,510.79 478.68,510.78 479.07,510.76 479.46,510.75 479.85,510.74 480.24,510.72 480.63,510.71 481.01,510.69 481.40,510.68 481.79,510.67 482.18,510.65 482.57,510.64 482.96,510.62 483.35,510.61 483.74,510.59 484.13,510.58 484.52,510.56 484.91,510.55 485.30,510.53 485.69,510.51 486.08,510.50 486.47,510.48 486.86,510.46 487.25,510.44 487.64,510.43 488.03,510.41 488.42,510.39 488.81,510.37 489.20,510.35 489.59,510.33 489.98,510.32 490.37,510.30 490.76,510.28 491.15,510.26 491.54,510.24 491.93,510.21 492.32,510.19 492.71,510.17 493.10,510.15 493.49,510.13 493.88,510.10 494.27,510.08 494.66,510.06 495.05,510.03 495.44,510.01 495.83,509.98 496.22,509.96 496.61,509.93 497.00,509.91 497.39,509.88 497.78,509.85 498.17,509.83 498.56,509.80 498.95,509.77 499.34,509.74 499.73,509.71 500.11,509.68 500.50,509.65 500.89,509.61 501.28,509.58 501.67,509.55 502.06,509.51 502.45,509.48 502.84,509.44 503.23,509.41 503.62,509.37 504.01,509.33 504.40,509.29 504.79,509.25 505.18,509.21 505.57,509.17 505.96,509.13 506.35,509.08 506.74,509.04 507.13,508.99 507.52,508.94 507.91,508.89 508.30,508.84 508.69,508.79 509.08,508.73 509.47,508.68 509.86,508.62 510.25,508.56 510.64,508.50 511.03,508.44 511.42,508.37 511.81,508.31 512.20,508.24 512.59,508.16 512.98,508.09 513.37,508.01 513.76,507.93 514.15,507.85 514.54,507.76 514.93,507.67 515.32,507.58 515.71,507.48 516.10,507.38 516.49,507.27 516.88,507.16 517.27,507.05 517.66,506.93 518.05,506.81 518.44,506.68 518.83,506.54 519.22,506.40 519.60,506.25 519.99,506.10 520.38,505.93 520.77,505.76 521.16,505.58 521.55,505.40 521.94,505.20 522.33,505.00 522.72,504.78 523.11,504.55 523.50,504.32 523.89,504.07 524.28,503.81 524.67,503.53 525.06,503.25 525.45,502.94 525.84,502.63 526.23,502.29 526.62,501.94 527.01,501.58 527.40,501.19 527.79,500.79 528.18,500.36 528.57,499.92 528.96,499.45 529.35,498.96 529.74,498.45 530.13,497.91 530.52,497.35 530.91,496.76 531.30,496.14 531.69,495.49 532.08,494.81 532.47,494.10 532.86,493.36 533.25,492.59 533.64,491.78 534.03,490.94 534.42,490.06 534.81,489.14 535.20,488.19 535.59,487.19 535.98,486.16 536.37,485.08 536.76,483.97 537.15,482.81 537.54,481.60 537.93,480.35 538.32,479.05 538.70,477.71 539.09,476.32 539.48,474.88 539.87,473.40 540.26,471.87 540.65,470.28 541.04,468.65 541.43,466.97 541.82,465.24 542.21,463.47 542.60,461.64 542.99,459.76 543.38,457.84 543.77,455.86 544.16,453.84 544.55,451.77 544.94,449.66 545.33,447.50 545.72,445.30 546.11,443.05 546.50,440.77 546.89,438.44 547.28,436.08 547.67,433.68 548.06,431.24 548.45,428.78 548.84,426.29 549.23,423.76 549.62,421.22 550.01,418.65 550.40,416.07 550.79,413.47 551.18,410.85 551.57,408.24 551.96,405.61 552.35,402.99 552.74,400.37 553.13,397.76 553.52,395.17 553.91,392.59 554.30,390.03 554.69,387.51 555.08,385.01 555.47,382.55 555.86,380.14 556.25,377.78 556.64,375.47 557.03,373.22 557.42,371.03 557.81,368.92 558.19,366.87 558.58,364.91 558.97,363.03 559.36,361.23 559.75,359.53 560.14,357.92 560.53,356.40 560.92,354.98 561.31,353.67 561.70,352.46 562.09,351.34 562.48,350.31 562.87,349.37 563.26,348.52 563.65,347.76 564.04,347.08 564.43,346.49 564.82,345.98 565.21,345.55 565.60,345.21 565.99,344.94 566.38,344.74 566.77,344.61 567.16,344.55 567.55,344.56 567.94,344.62 568.33,344.74 568.72,344.91 569.11,345.13 569.50,345.39 569.89,345.70 570.28,346.05 570.67,346.43 571.06,346.85 571.45,347.31 571.84,347.79 572.23,348.31 572.62,348.85 573.01,349.41 573.40,350.00 573.79,350.61 574.18,351.24 574.57,351.88 574.96,352.54 575.35,353.22 575.74,353.91 576.13,354.61 576.52,355.32 576.91,356.05 577.29,356.78 577.68,357.52 578.07,358.27 578.46,359.02 578.85,359.79 579.24,360.56 579.63,361.33 580.02,362.11 580.41,362.89 580.80,363.68 581.19,364.48 581.58,365.27 581.97,366.08 582.36,366.88 582.75,367.69 583.14,368.51 583.53,369.32 583.92,370.15 584.31,370.97 584.70,371.81 585.09,372.64 585.48,373.48 585.87,374.33 586.26,375.18 586.65,376.04 587.04,376.90 587.43,377.78 587.82,378.66 588.21,379.56 588.60,380.47 588.99,381.38 589.38,382.31 589.77,383.26 590.16,384.21 590.55,385.18 590.94,386.15 591.33,387.14 591.72,388.15 592.11,389.16 592.50,390.19 592.89,391.23 593.28,392.28 593.67,393.35 594.06,394.43 594.45,395.52 594.84,396.62 595.23,397.74 595.62,398.86 596.01,400.00 596.39,401.15 596.78,402.32 597.17,403.49 597.56,404.67 597.95,405.87 598.34,407.07 598.73,408.29 599.12,409.51 599.51,410.74 599.90,411.98 600.29,413.23 600.68,414.49 601.07,415.75 601.46,417.02 601.85,418.29 602.24,419.57 602.63,420.86 603.02,422.14 603.41,423.44 603.80,424.73 604.19,426.03 604.58,427.32 604.97,428.62 605.36,429.92 605.75,431.22 606.14,432.52 606.53,433.81 606.92,435.10 607.31,436.39 607.70,437.68 608.09,438.96 608.48,440.24 608.87,441.51 609.26,442.78 609.65,444.04 610.04,445.29 610.43,446.53 610.82,447.77 611.21,448.99 611.60,450.21 611.99,451.42 612.38,452.61 612.77,453.80 613.16,454.97 613.55,456.13 613.94,457.28 614.33,458.42 614.72,459.54 615.11,460.65 615.50,461.74 615.88,462.82 616.27,463.89 616.66,464.94 617.05,465.98 617.44,467.00 617.83,468.00 618.22,468.99 618.61,469.97 619.00,470.92 619.39,471.86 619.78,472.79 620.17,473.69 620.56,474.58 620.95,475.46 621.34,476.31 621.73,477.15 622.12,477.98 622.51,478.78 622.90,479.57 623.29,480.34 623.68,481.10 624.07,481.84 624.46,482.56 624.85,483.26 625.24,483.95 625.63,484.62 626.02,485.27 626.41,485.91 626.80,486.54 627.19,487.14 627.58,487.73 627.97,488.31 628.36,488.87 628.75,489.41 629.14,489.94 629.53,490.46 629.92,490.96 630.31,491.44 630.70,491.91 631.09,492.37 631.48,492.81 631.87,493.24 632.26,493.66 632.65,494.06 633.04,494.46 633.43,494.84 633.82,495.20 634.21,495.56 634.60,495.90 634.98,496.23 635.37,496.55 635.76,496.86 636.15,497.16 636.54,497.45 636.93,497.73 637.32,498.00 637.71,498.26 638.10,498.51 638.49,498.76 638.88,498.99 639.27,499.21 639.66,499.43 640.05,499.64 640.44,499.84 640.83,500.03 641.22,500.22 641.61,500.39 642.00,500.57 642.39,500.73 642.78,500.89 643.17,501.04 643.56,501.19 643.95,501.33 644.34,501.46 644.73,501.59 645.12,501.72 645.51,501.83 645.90,501.95 646.29,502.06 646.68,502.16 647.07,502.26 647.46,502.36 647.85,502.45 648.24,502.54 648.63,502.63 649.02,502.71 649.41,502.79 649.80,502.86 650.19,502.93 650.58,503.00 650.97,503.07 651.36,503.13 651.75,503.19 652.14,503.25 652.53,503.30 652.92,503.36 653.31,503.41 653.70,503.45 654.09,503.50 654.47,503.55 654.86,503.59 655.25,503.63 655.64,503.67 656.03,503.71 656.42,503.74 656.81,503.78 657.20,503.81 657.59,503.84 657.98,503.87 658.37,503.90 658.76,503.93 659.15,503.96 659.54,503.98 659.93,504.01 660.32,504.03 660.71,504.06 661.10,504.08 661.49,504.10 661.88,504.12 662.27,504.14 662.66,504.16 663.05,504.18 663.44,504.20 663.83,504.21 664.22,504.23 664.61,504.25 665.00,504.26 665.39,504.28 665.78,504.29 666.17,504.31 666.56,504.32 666.95,504.33 667.34,504.35 667.73,504.36 668.12,504.37 668.51,504.38 668.90,504.39 669.29,504.41 669.68,504.42 670.07,504.43 670.46,504.44 670.85,504.45 671.24,504.46 671.63,504.47 672.02,504.48 672.41,504.49 672.80,504.50 673.19,504.51 673.57,504.51 673.96,504.52 674.35,504.53 674.74,504.54 675.13,504.55 675.52,504.56 675.91,504.56 676.30,504.57 676.69,504.58 677.08,504.59 677.47,504.59 677.86,504.60 678.25,504.61 678.64,504.61 679.03,504.62 679.42,504.63 679.81,504.63 680.20,504.64 680.59,504.65 680.98,504.65 681.37,504.66 681.76,504.67 682.15,504.67 682.54,504.68 682.93,504.68 683.32,504.69 683.71,504.70 684.10,504.70 684.49,504.71 684.88,504.71 685.27,504.72 685.66,504.72 686.05,504.73 686.44,504.74 686.83,504.74 687.22,504.75 687.61,504.75 688.00,504.76 688.39,504.76 688.78,504.77 689.17,504.77 689.56,504.78 689.95,504.78 690.34,504.79 690.73,504.79 691.12,504.79 691.51,504.79 691.90,504.79 692.29,504.79 692.68,504.79 693.06,504.79 693.45,504.79 693.84,504.79" fill="none" stroke="#000" stroke-width="1.2" stroke-linejoin="round"/><g fill="#000"><rect x="458.35" y="509.75" width="3.90" height="3.90"/><rect x="460.15" y="507.45" width="3.90" height="3.90"/><circle cx="463.80" cy="507.60" r="2.05"/><rect x="463.65" y="510.35" width="3.90" height="3.90"/><rect x="465.95" y="509.25" width="3.90" height="3.90"/><circle cx="470.30" cy="511.70" r="2.05"/><rect x="470.65" y="508.65" width="3.90" height="3.90"/><rect x="473.05" y="508.05" width="3.90" height="3.90"/><circle cx="477.30" cy="511.20" r="2.05"/><rect x="477.75" y="509.75" width="3.90" height="3.90"/><rect x="480.05" y="507.45" width="3.90" height="3.90"/><circle cx="483.80" cy="505.90" r="2.05"/><rect x="483.65" y="505.65" width="3.90" height="3.90"/><rect x="484.75" y="503.95" width="3.90" height="3.90"/><circle cx="488.50" cy="510.00" r="2.05"/><rect x="488.35" y="509.75" width="3.90" height="3.90"/><rect x="490.65" y="508.05" width="3.90" height="3.90"/><circle cx="495.00" cy="509.40" r="2.05"/><rect x="495.35" y="506.85" width="3.90" height="3.90"/><rect x="497.75" y="508.65" width="3.90" height="3.90"/><circle cx="502.00" cy="509.40" r="2.05"/><rect x="502.45" y="506.25" width="3.90" height="3.90"/><rect x="503.55" y="503.95" width="3.90" height="3.90"/><circle cx="507.30" cy="508.80" r="2.05"/><rect x="507.15" y="505.65" width="3.90" height="3.90"/><rect x="510.05" y="509.75" width="3.90" height="3.90"/><circle cx="514.30" cy="513.50" r="2.05"/><rect x="514.75" y="510.35" width="3.90" height="3.90"/><rect x="517.05" y="509.25" width="3.90" height="3.90"/><circle cx="520.80" cy="513.50" r="2.05"/><rect x="522.35" y="505.65" width="3.90" height="3.90"/><rect x="524.75" y="505.65" width="3.90" height="3.90"/><circle cx="527.90" cy="501.80" r="2.05"/><rect x="528.25" y="497.45" width="3.90" height="3.90"/><rect x="530.05" y="495.15" width="3.90" height="3.90"/><circle cx="533.70" cy="498.20" r="2.05"/><rect x="530.65" y="492.75" width="3.90" height="3.90"/><rect x="532.95" y="488.65" width="3.90" height="3.90"/><circle cx="532.90" cy="496.50" r="2.05"/><rect x="532.35" y="487.35" width="3.90" height="3.90"/><rect x="535.25" y="480.15" width="3.90" height="3.90"/><circle cx="538.60" cy="472.10" r="2.05"/><rect x="538.95" y="455.15" width="3.90" height="3.90"/><rect x="541.85" y="439.95" width="3.90" height="3.90"/><circle cx="545.80" cy="419.00" r="2.05"/><rect x="545.25" y="411.25" width="3.90" height="3.90"/><rect x="546.75" y="405.55" width="3.90" height="3.90"/><circle cx="550.60" cy="397.70" r="2.05"/><rect x="550.55" y="387.65" width="3.90" height="3.90"/><rect x="551.85" y="370.65" width="3.90" height="3.90"/><circle cx="555.70" cy="363.20" r="2.05"/><rect x="555.55" y="365.05" width="3.90" height="3.90"/><rect x="556.85" y="356.85" width="3.90" height="3.90"/><circle cx="560.70" cy="355.10" r="2.05"/><rect x="560.65" y="356.85" width="3.90" height="3.90"/><rect x="561.85" y="348.75" width="3.90" height="3.90"/><circle cx="565.70" cy="353.80" r="2.05"/><rect x="565.65" y="355.65" width="3.90" height="3.90"/><rect x="566.85" y="359.35" width="3.90" height="3.90"/><circle cx="570.70" cy="367.00" r="2.05"/><rect x="570.05" y="356.25" width="3.90" height="3.90"/><rect x="571.95" y="351.85" width="3.90" height="3.90"/><circle cx="575.70" cy="355.70" r="2.05"/><rect x="575.65" y="365.05" width="3.90" height="3.90"/><rect x="577.55" y="365.65" width="3.90" height="3.90"/><circle cx="580.80" cy="362.00" r="2.05"/><rect x="580.65" y="363.15" width="3.90" height="3.90"/><rect x="581.95" y="381.95" width="3.90" height="3.90"/><circle cx="586.40" cy="382.70" r="2.05"/><rect x="583.85" y="385.15" width="3.90" height="3.90"/><rect x="586.95" y="381.35" width="3.90" height="3.90"/><circle cx="588.30" cy="386.40" r="2.05"/><rect x="588.85" y="389.55" width="3.90" height="3.90"/><rect x="591.35" y="397.05" width="3.90" height="3.90"/><circle cx="595.20" cy="396.50" r="2.05"/><rect x="594.45" y="395.75" width="3.90" height="3.90"/><rect x="590.05" y="400.15" width="3.90" height="3.90"/><circle cx="592.90" cy="400.70" r="2.05"/><rect x="593.75" y="395.25" width="3.90" height="3.90"/><rect x="597.35" y="405.95" width="3.90" height="3.90"/><circle cx="603.60" cy="409.40" r="2.05"/><rect x="598.85" y="411.75" width="3.90" height="3.90"/><rect x="600.25" y="416.05" width="3.90" height="3.90"/><circle cx="605.80" cy="420.10" r="2.05"/><rect x="605.25" y="419.65" width="3.90" height="3.90"/><rect x="606.75" y="422.45" width="3.90" height="3.90"/><circle cx="610.80" cy="430.20" r="2.05"/><rect x="610.25" y="436.85" width="3.90" height="3.90"/><rect x="611.75" y="438.25" width="3.90" height="3.90"/><circle cx="615.50" cy="443.10" r="2.05"/><rect x="615.35" y="446.15" width="3.90" height="3.90"/><rect x="620.35" y="457.65" width="3.90" height="3.90"/><circle cx="619.40" cy="463.20" r="2.05"/><rect x="622.45" y="459.75" width="3.90" height="3.90"/><rect x="624.65" y="462.65" width="3.90" height="3.90"/><circle cx="628.80" cy="466.80" r="2.05"/><rect x="628.95" y="467.65" width="3.90" height="3.90"/><rect x="631.15" y="471.95" width="3.90" height="3.90"/><circle cx="622.00" cy="459.10" r="2.05"/><rect x="622.05" y="460.55" width="3.90" height="3.90"/><rect x="624.05" y="463.25" width="3.90" height="3.90"/><circle cx="628.10" cy="467.20" r="2.05"/><rect x="628.15" y="467.25" width="3.90" height="3.90"/><rect x="631.45" y="473.95" width="3.90" height="3.90"/><circle cx="638.80" cy="476.60" r="2.05"/><rect x="630.15" y="477.95" width="3.90" height="3.90"/><rect x="633.45" y="482.65" width="3.90" height="3.90"/><circle cx="637.50" cy="485.30" r="2.05"/><rect x="638.25" y="481.35" width="3.90" height="3.90"/><rect x="640.25" y="494.75" width="3.90" height="3.90"/><circle cx="644.20" cy="498.10" r="2.05"/><rect x="644.25" y="499.45" width="3.90" height="3.90"/><rect x="646.25" y="502.15" width="3.90" height="3.90"/><circle cx="650.90" cy="508.10" r="2.05"/><rect x="650.25" y="496.75" width="3.90" height="3.90"/><rect x="652.35" y="500.85" width="3.90" height="3.90"/><circle cx="656.30" cy="505.50" r="2.05"/><rect x="655.65" y="508.85" width="3.90" height="3.90"/><rect x="658.35" y="504.85" width="3.90" height="3.90"/><circle cx="663.00" cy="512.20" r="2.05"/><rect x="663.75" y="511.55" width="3.90" height="3.90"/><rect x="666.45" y="507.55" width="3.90" height="3.90"/><circle cx="671.00" cy="508.10" r="2.05"/><rect x="671.75" y="506.15" width="3.90" height="3.90"/><rect x="674.45" y="507.55" width="3.90" height="3.90"/><circle cx="679.10" cy="504.10" r="2.05"/><rect x="679.85" y="504.85" width="3.90" height="3.90"/><rect x="682.55" y="507.55" width="3.90" height="3.90"/><circle cx="685.80" cy="504.10" r="2.05"/><rect x="686.55" y="496.75" width="3.90" height="3.90"/><rect x="689.25" y="492.75" width="3.90" height="3.90"/><circle cx="693.20" cy="504.10" r="2.05"/><rect x="692.65" y="504.85" width="3.90" height="3.90"/></g><text x="577.80" y="462.30" class="an" textLength="30.60" lengthAdjust="spacingAndGlyphs">FeOOH</text><line x1="593.80" y1="452.50" x2="604.90" y2="436.30" stroke="#000" stroke-width="0.9"/><polygon points="604.90,436.30 602.91,442.57 599.77,440.42" fill="#000"/><text x="554.40" y="499.50" class="an">Fe</text><text x="565.00" y="504.80" class="sb">2</text><text x="568.20" y="499.50" class="an">O</text><text x="575.40" y="504.80" class="sb">3</text><line x1="571.30" y1="490.70" x2="581.50" y2="476.10" stroke="#000" stroke-width="0.9"/><polygon points="581.50,476.10 579.45,482.35 576.33,480.18" fill="#000"/></g></g>
</svg></body></html>
